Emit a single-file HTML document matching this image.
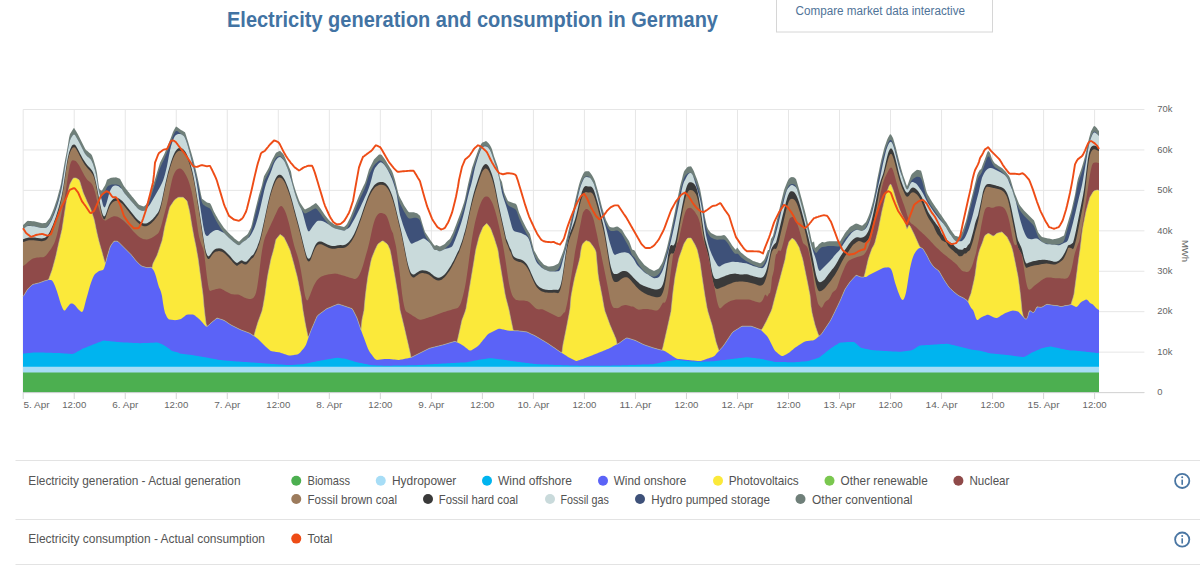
<!DOCTYPE html>
<html><head><meta charset="utf-8"><style>
html,body{margin:0;padding:0;background:#fff;}
body{width:1200px;height:566px;overflow:hidden;position:relative;font-family:'Liberation Sans',sans-serif;}
svg{position:absolute;left:0;top:0;}
</style></head><body>
<svg width="1200" height="566" viewBox="0 0 1200 566" style="font-family:'Liberation Sans',sans-serif">
<rect x="776.5" y="-10" width="216" height="42" fill="#fff" stroke="#d6d6d6" stroke-width="1"/>
<text x="227" y="26.7" font-size="21.5" font-weight="bold" fill="#4273a3" textLength="491" lengthAdjust="spacingAndGlyphs">Electricity generation and consumption in Germany</text>
<text x="795.6" y="15.4" font-size="12.5" fill="#4f7398" textLength="169.4" lengthAdjust="spacingAndGlyphs">Compare market data interactive</text>
<line x1="23.2" y1="109.50" x2="1144.4" y2="109.50" stroke="#e6e6e6" stroke-width="1"/>
<line x1="23.2" y1="149.94" x2="1144.4" y2="149.94" stroke="#e6e6e6" stroke-width="1"/>
<line x1="23.2" y1="190.38" x2="1144.4" y2="190.38" stroke="#e6e6e6" stroke-width="1"/>
<line x1="23.2" y1="230.82" x2="1144.4" y2="230.82" stroke="#e6e6e6" stroke-width="1"/>
<line x1="23.2" y1="271.26" x2="1144.4" y2="271.26" stroke="#e6e6e6" stroke-width="1"/>
<line x1="23.2" y1="311.70" x2="1144.4" y2="311.70" stroke="#e6e6e6" stroke-width="1"/>
<line x1="23.2" y1="352.14" x2="1144.4" y2="352.14" stroke="#e6e6e6" stroke-width="1"/>
<line x1="23.2" y1="392.58" x2="1144.4" y2="392.58" stroke="#e6e6e6" stroke-width="1"/>
<line x1="23.20" y1="109.5" x2="23.20" y2="392.6" stroke="#e6e6e6" stroke-width="1"/>
<line x1="74.22" y1="109.5" x2="74.22" y2="392.6" stroke="#e6e6e6" stroke-width="1"/>
<line x1="125.24" y1="109.5" x2="125.24" y2="392.6" stroke="#e6e6e6" stroke-width="1"/>
<line x1="176.26" y1="109.5" x2="176.26" y2="392.6" stroke="#e6e6e6" stroke-width="1"/>
<line x1="227.28" y1="109.5" x2="227.28" y2="392.6" stroke="#e6e6e6" stroke-width="1"/>
<line x1="278.30" y1="109.5" x2="278.30" y2="392.6" stroke="#e6e6e6" stroke-width="1"/>
<line x1="329.32" y1="109.5" x2="329.32" y2="392.6" stroke="#e6e6e6" stroke-width="1"/>
<line x1="380.34" y1="109.5" x2="380.34" y2="392.6" stroke="#e6e6e6" stroke-width="1"/>
<line x1="431.36" y1="109.5" x2="431.36" y2="392.6" stroke="#e6e6e6" stroke-width="1"/>
<line x1="482.38" y1="109.5" x2="482.38" y2="392.6" stroke="#e6e6e6" stroke-width="1"/>
<line x1="533.40" y1="109.5" x2="533.40" y2="392.6" stroke="#e6e6e6" stroke-width="1"/>
<line x1="584.42" y1="109.5" x2="584.42" y2="392.6" stroke="#e6e6e6" stroke-width="1"/>
<line x1="635.44" y1="109.5" x2="635.44" y2="392.6" stroke="#e6e6e6" stroke-width="1"/>
<line x1="686.46" y1="109.5" x2="686.46" y2="392.6" stroke="#e6e6e6" stroke-width="1"/>
<line x1="737.48" y1="109.5" x2="737.48" y2="392.6" stroke="#e6e6e6" stroke-width="1"/>
<line x1="788.50" y1="109.5" x2="788.50" y2="392.6" stroke="#e6e6e6" stroke-width="1"/>
<line x1="839.52" y1="109.5" x2="839.52" y2="392.6" stroke="#e6e6e6" stroke-width="1"/>
<line x1="890.54" y1="109.5" x2="890.54" y2="392.6" stroke="#e6e6e6" stroke-width="1"/>
<line x1="941.56" y1="109.5" x2="941.56" y2="392.6" stroke="#e6e6e6" stroke-width="1"/>
<line x1="992.58" y1="109.5" x2="992.58" y2="392.6" stroke="#e6e6e6" stroke-width="1"/>
<line x1="1043.60" y1="109.5" x2="1043.60" y2="392.6" stroke="#e6e6e6" stroke-width="1"/>
<line x1="1094.62" y1="109.5" x2="1094.62" y2="392.6" stroke="#e6e6e6" stroke-width="1"/>
<polygon points="23.0,392.6 23.0,225.1 24.0,224.2 25.0,223.2 26.0,222.2 27.0,221.2 28.0,220.8 29.0,220.9 30.0,221.0 31.0,221.1 32.0,221.2 33.0,221.3 34.0,221.3 35.0,221.5 36.0,221.7 37.0,222.0 38.0,222.2 39.0,222.5 40.0,222.7 41.0,223.0 42.0,223.2 43.0,223.2 44.0,223.0 45.0,222.9 46.0,222.7 47.0,221.5 48.0,220.3 49.0,219.1 50.0,217.6 51.0,215.3 52.0,213.0 53.0,210.6 54.0,207.9 55.0,204.9 56.0,201.9 57.0,198.9 58.0,195.3 59.0,191.6 60.0,187.9 61.0,183.8 62.0,177.9 63.0,172.0 64.0,166.1 65.0,160.6 66.0,155.4 67.0,150.2 68.0,144.5 69.0,138.0 70.0,133.9 71.0,132.4 72.0,130.8 73.0,129.3 74.0,127.7 75.0,129.4 76.0,131.1 77.0,132.8 78.0,134.5 79.0,136.5 80.0,138.6 81.0,140.6 82.0,142.6 83.0,144.6 84.0,146.6 85.0,148.6 86.0,150.0 87.0,150.8 88.0,151.6 89.0,152.5 90.0,153.2 91.0,154.0 92.0,155.4 93.0,158.3 94.0,161.3 95.0,164.7 96.0,168.2 97.0,172.9 98.0,180.4 99.0,187.9 100.0,189.6 101.0,190.5 102.0,190.4 103.0,188.8 104.0,187.1 105.0,185.5 106.0,182.9 107.0,179.8 108.0,179.3 109.0,178.8 110.0,178.3 111.0,177.8 112.0,177.7 113.0,177.6 114.0,177.5 115.0,177.4 116.0,177.3 117.0,177.7 118.0,178.1 119.0,178.4 120.0,178.8 121.0,180.7 122.0,182.6 123.0,184.5 124.0,186.3 125.0,187.6 126.0,188.9 127.0,190.1 128.0,191.4 129.0,192.6 130.0,193.9 131.0,195.1 132.0,196.4 133.0,197.6 134.0,198.8 135.0,200.1 136.0,201.3 137.0,202.6 138.0,203.8 139.0,204.8 140.0,205.2 141.0,205.6 142.0,206.0 143.0,206.3 144.0,206.4 145.0,205.6 146.0,204.8 147.0,202.9 148.0,201.0 149.0,198.5 150.0,195.1 151.0,191.8 152.0,188.4 153.0,185.3 154.0,182.4 155.0,179.3 156.0,176.0 157.0,172.6 158.0,169.2 159.0,165.9 160.0,162.8 161.0,160.8 162.0,158.8 163.0,156.7 164.0,154.7 165.0,152.6 166.0,150.1 167.0,147.6 168.0,145.1 169.0,142.6 170.0,140.1 171.0,137.4 172.0,134.7 173.0,132.1 174.0,130.0 175.0,128.2 176.0,126.5 177.0,127.0 178.0,127.7 179.0,128.5 180.0,129.2 181.0,129.9 182.0,130.5 183.0,131.1 184.0,131.7 185.0,132.2 186.0,135.2 187.0,138.4 188.0,141.6 189.0,145.0 190.0,148.4 191.0,151.8 192.0,155.3 193.0,158.8 194.0,162.7 195.0,166.6 196.0,170.7 197.0,175.1 198.0,179.6 199.0,184.5 200.0,189.6 201.0,194.6 202.0,198.7 203.0,199.5 204.0,200.2 205.0,201.0 206.0,201.7 207.0,202.4 208.0,202.7 209.0,203.0 210.0,203.3 211.0,204.7 212.0,207.0 213.0,209.4 214.0,211.7 215.0,213.6 216.0,215.4 217.0,217.1 218.0,218.9 219.0,220.6 220.0,222.1 221.0,223.6 222.0,225.1 223.0,226.6 224.0,228.1 225.0,229.1 226.0,230.1 227.0,231.2 228.0,232.2 229.0,233.2 230.0,234.2 231.0,235.2 232.0,236.1 233.0,237.1 234.0,238.1 235.0,238.9 236.0,239.6 237.0,240.4 238.0,241.1 239.0,241.7 240.0,240.7 241.0,239.7 242.0,238.7 243.0,237.8 244.0,237.1 245.0,236.3 246.0,235.6 247.0,234.8 248.0,233.6 249.0,231.6 250.0,229.6 251.0,227.6 252.0,224.0 253.0,219.6 254.0,215.3 255.0,210.9 256.0,206.9 257.0,202.9 258.0,198.9 259.0,195.1 260.0,191.7 261.0,188.4 262.0,185.0 263.0,180.5 264.0,176.3 265.0,174.5 266.0,172.7 267.0,170.9 268.0,169.2 269.0,167.2 270.0,164.8 271.0,162.5 272.0,160.2 273.0,158.2 274.0,156.4 275.0,154.5 276.0,152.7 277.0,152.2 278.0,151.8 279.0,151.3 280.0,150.8 281.0,151.8 282.0,152.8 283.0,153.8 284.0,155.2 285.0,157.6 286.0,159.9 287.0,162.3 288.0,164.6 289.0,166.9 290.0,169.2 291.0,171.6 292.0,177.5 293.0,182.0 294.0,185.4 295.0,188.7 296.0,192.1 297.0,194.8 298.0,197.5 299.0,200.2 300.0,202.6 301.0,204.1 302.0,205.6 303.0,207.1 304.0,208.6 305.0,209.5 306.0,209.0 307.0,208.5 308.0,208.0 309.0,207.5 310.0,207.0 311.0,206.3 312.0,205.6 313.0,204.9 314.0,204.2 315.0,203.5 316.0,203.0 317.0,204.2 318.0,205.3 319.0,206.5 320.0,207.8 321.0,209.3 322.0,210.8 323.0,212.3 324.0,213.8 325.0,215.2 326.0,216.5 327.0,217.7 328.0,218.9 329.0,220.2 330.0,221.2 331.0,221.9 332.0,222.7 333.0,223.4 334.0,224.2 335.0,224.7 336.0,224.9 337.0,225.2 338.0,225.4 339.0,225.7 340.0,225.9 341.0,226.2 342.0,226.4 343.0,226.7 344.0,226.9 345.0,226.3 346.0,225.3 347.0,224.1 348.0,222.1 349.0,220.1 350.0,218.1 351.0,215.8 352.0,213.3 353.0,210.8 354.0,208.2 355.0,205.7 356.0,203.2 357.0,200.8 358.0,198.3 359.0,195.8 360.0,193.4 361.0,191.2 362.0,189.2 363.0,187.1 364.0,185.1 365.0,183.1 366.0,180.0 367.0,176.5 368.0,172.9 369.0,169.4 370.0,167.4 371.0,165.4 372.0,163.5 373.0,161.5 374.0,159.5 375.0,158.5 376.0,157.5 377.0,156.4 378.0,155.4 379.0,154.5 380.0,154.5 381.0,154.5 382.0,155.3 383.0,156.7 384.0,158.0 385.0,159.4 386.0,161.0 387.0,162.7 388.0,164.4 389.0,166.0 390.0,167.7 391.0,169.3 392.0,171.0 393.0,173.4 394.0,176.7 395.0,180.0 396.0,184.0 397.0,188.0 398.0,192.0 399.0,195.4 400.0,197.4 401.0,199.4 402.0,201.3 403.0,203.3 404.0,205.2 405.0,206.7 406.0,208.2 407.0,209.8 408.0,211.3 409.0,212.2 410.0,212.2 411.0,212.2 412.0,212.2 413.0,212.2 414.0,212.3 415.0,212.7 416.0,213.0 417.0,213.3 418.0,214.0 419.0,214.9 420.0,215.8 421.0,219.1 422.0,222.4 423.0,225.7 424.0,229.0 425.0,232.1 426.0,233.6 427.0,235.1 428.0,236.6 429.0,238.1 430.0,239.5 431.0,240.9 432.0,242.3 433.0,243.7 434.0,245.1 435.0,246.0 436.0,245.0 437.0,245.3 438.0,245.7 439.0,246.2 440.0,246.4 441.0,245.9 442.0,245.4 443.0,244.9 444.0,244.4 445.0,243.7 446.0,242.6 447.0,241.5 448.0,240.4 449.0,239.7 450.0,238.8 451.0,236.8 452.0,234.7 453.0,232.7 454.0,230.3 455.0,227.6 456.0,224.9 457.0,222.3 458.0,219.6 459.0,217.0 460.0,214.3 461.0,211.6 462.0,208.6 463.0,205.5 464.0,202.5 465.0,198.7 466.0,194.0 467.0,189.3 468.0,184.6 469.0,180.3 470.0,176.1 471.0,171.9 472.0,167.8 473.0,164.9 474.0,162.0 475.0,159.0 476.0,156.2 477.0,153.5 478.0,150.8 479.0,148.2 480.0,146.0 481.0,144.2 482.0,142.7 483.0,142.3 484.0,141.9 485.0,141.4 486.0,141.0 487.0,141.7 488.0,142.7 489.0,143.7 490.0,145.3 491.0,147.0 492.0,149.3 493.0,152.8 494.0,156.3 495.0,159.1 496.0,161.8 497.0,164.5 498.0,167.4 499.0,172.7 500.0,177.9 501.0,180.0 502.0,182.0 503.0,186.9 504.0,191.9 505.0,194.5 506.0,196.8 507.0,199.1 508.0,201.1 509.0,201.5 510.0,201.8 511.0,202.2 512.0,202.6 513.0,203.0 514.0,203.3 515.0,203.6 516.0,203.9 517.0,205.8 518.0,209.2 519.0,212.4 520.0,214.8 521.0,217.1 522.0,219.4 523.0,221.6 524.0,223.5 525.0,225.5 526.0,227.4 527.0,229.2 528.0,230.9 529.0,232.6 530.0,234.2 531.0,238.6 532.0,242.5 533.0,246.5 534.0,250.3 535.0,252.1 536.0,253.8 537.0,255.6 538.0,257.4 539.0,259.0 540.0,260.2 541.0,261.4 542.0,262.6 543.0,263.8 544.0,264.8 545.0,265.2 546.0,265.6 547.0,266.0 548.0,266.4 549.0,266.6 550.0,266.4 551.0,266.3 552.0,266.2 553.0,266.1 554.0,265.8 555.0,265.3 556.0,264.8 557.0,264.3 558.0,263.8 559.0,262.2 560.0,259.6 561.0,257.0 562.0,254.4 563.0,251.8 564.0,248.8 565.0,245.0 566.0,241.1 567.0,237.2 568.0,233.1 569.0,228.7 570.0,224.4 571.0,220.0 572.0,215.4 573.0,210.7 574.0,206.0 575.0,201.5 576.0,197.2 577.0,193.0 578.0,188.7 579.0,184.8 580.0,181.4 581.0,178.7 582.0,176.4 583.0,174.2 584.0,172.6 585.0,171.6 586.0,171.2 587.0,171.2 588.0,171.2 589.0,171.2 590.0,172.4 591.0,173.8 592.0,175.2 593.0,177.0 594.0,178.9 595.0,181.3 596.0,184.7 597.0,188.0 598.0,191.4 599.0,195.2 600.0,199.2 601.0,203.2 602.0,207.2 603.0,210.5 604.0,213.7 605.0,217.0 606.0,220.0 607.0,222.0 608.0,224.0 609.0,226.0 610.0,227.1 611.0,227.2 612.0,227.4 613.0,227.6 614.0,227.4 615.0,227.1 616.0,226.8 617.0,226.5 618.0,226.8 619.0,227.5 620.0,228.2 621.0,228.9 622.0,229.8 623.0,231.5 624.0,233.2 625.0,234.9 626.0,236.5 627.0,238.0 628.0,239.5 629.0,241.1 630.0,243.5 631.0,246.3 632.0,249.2 633.0,250.0 634.0,249.9 635.0,251.3 636.0,253.0 637.0,254.8 638.0,256.5 639.0,258.3 640.0,259.6 641.0,260.8 642.0,262.1 643.0,263.3 644.0,264.6 645.0,265.4 646.0,266.1 647.0,266.9 648.0,267.6 649.0,268.4 650.0,268.9 651.0,269.4 652.0,269.9 653.0,270.4 654.0,270.9 655.0,270.4 656.0,269.9 657.0,269.4 658.0,268.9 659.0,268.2 660.0,266.6 661.0,264.9 662.0,263.3 663.0,261.0 664.0,257.8 665.0,254.5 666.0,251.2 667.0,247.5 668.0,243.3 669.0,239.1 670.0,234.8 671.0,230.2 672.0,225.5 673.0,220.8 674.0,216.1 675.0,211.1 676.0,206.1 677.0,201.1 678.0,196.2 679.0,191.4 680.0,186.6 681.0,182.5 682.0,179.1 683.0,174.8 684.0,171.4 685.0,170.1 686.0,168.8 687.0,167.4 688.0,166.8 689.0,166.6 690.0,166.5 691.0,166.3 692.0,167.8 693.0,169.6 694.0,171.6 695.0,174.2 696.0,176.8 697.0,179.3 698.0,182.3 699.0,185.5 700.0,188.7 701.0,194.1 702.0,199.6 703.0,205.4 704.0,211.6 705.0,217.5 706.0,222.0 707.0,226.4 708.0,229.0 709.0,230.4 710.0,231.7 711.0,233.1 712.0,233.6 713.0,234.1 714.0,234.6 715.0,235.1 716.0,235.6 717.0,235.7 718.0,235.7 719.0,235.7 720.0,235.7 721.0,235.7 722.0,235.5 723.0,235.3 724.0,235.1 725.0,235.4 726.0,236.5 727.0,237.7 728.0,238.9 729.0,240.4 730.0,242.0 731.0,243.6 732.0,245.2 733.0,246.5 734.0,247.7 735.0,248.9 736.0,249.8 737.0,247.6 738.0,248.6 739.0,250.0 740.0,251.3 741.0,252.6 742.0,253.3 743.0,254.1 744.0,254.9 745.0,255.7 746.0,256.5 747.0,257.3 748.0,257.9 749.0,258.5 750.0,259.1 751.0,259.7 752.0,260.3 753.0,260.9 754.0,261.3 755.0,261.6 756.0,261.9 757.0,262.3 758.0,262.6 759.0,263.0 760.0,263.3 761.0,263.1 762.0,262.1 763.0,261.1 764.0,260.1 765.0,257.9 766.0,255.3 767.0,252.6 768.0,249.9 769.0,250.0 770.0,244.2 771.0,239.1 772.0,237.4 773.0,235.7 774.0,231.7 775.0,227.6 776.0,223.6 777.0,219.5 778.0,215.1 779.0,210.8 780.0,206.4 781.0,202.3 782.0,198.3 783.0,194.3 784.0,190.3 785.0,187.6 786.0,185.1 787.0,182.5 788.0,180.2 789.0,178.7 790.0,177.8 791.0,177.2 792.0,177.1 793.0,177.2 794.0,177.3 795.0,178.2 796.0,179.0 797.0,182.3 798.0,185.7 799.0,189.1 800.0,192.7 801.0,196.4 802.0,200.1 803.0,203.9 804.0,207.8 805.0,211.6 806.0,215.5 807.0,219.7 808.0,224.1 809.0,228.4 810.0,232.8 811.0,237.4 812.0,242.0 813.0,242.6 814.0,241.3 815.0,248.0 816.0,247.3 817.0,246.6 818.0,245.4 819.0,244.1 820.0,243.4 821.0,242.7 822.0,242.1 823.0,242.1 824.0,242.4 825.0,242.2 826.0,241.9 827.0,241.6 828.0,241.4 829.0,241.2 830.0,241.2 831.0,241.2 832.0,241.2 833.0,241.2 834.0,241.2 835.0,241.2 836.0,241.2 837.0,241.3 838.0,241.3 839.0,241.4 840.0,241.5 841.0,239.8 842.0,238.1 843.0,236.4 844.0,234.7 845.0,233.1 846.0,231.8 847.0,230.6 848.0,229.4 849.0,228.1 850.0,226.9 851.0,226.3 852.0,225.7 853.0,225.2 854.0,224.6 855.0,224.0 856.0,223.4 857.0,223.7 858.0,224.1 859.0,224.5 860.0,224.9 861.0,225.3 862.0,225.7 863.0,225.1 864.0,224.1 865.0,223.0 866.0,222.0 867.0,219.7 868.0,217.4 869.0,215.0 870.0,212.3 871.0,208.6 872.0,204.9 873.0,201.3 874.0,196.8 875.0,191.9 876.0,186.8 877.0,180.6 878.0,175.6 879.0,170.7 880.0,165.8 881.0,161.1 882.0,157.1 883.0,153.1 884.0,149.1 885.0,145.7 886.0,142.9 887.0,140.1 888.0,137.7 889.0,136.0 890.0,134.3 891.0,134.4 892.0,136.2 893.0,138.0 894.0,141.2 895.0,144.7 896.0,148.3 897.0,152.5 898.0,156.6 899.0,160.6 900.0,164.2 901.0,167.9 902.0,171.5 903.0,174.9 904.0,177.8 905.0,180.6 906.0,183.4 907.0,186.2 908.0,184.0 909.0,181.1 910.0,178.3 911.0,175.5 912.0,173.7 913.0,172.9 914.0,172.0 915.0,171.2 916.0,170.4 917.0,169.7 918.0,169.9 919.0,170.1 920.0,170.4 921.0,170.6 922.0,173.7 923.0,177.7 924.0,181.6 925.0,185.8 926.0,189.9 927.0,193.1 928.0,194.9 929.0,196.6 930.0,198.4 931.0,200.1 932.0,201.7 933.0,203.2 934.0,204.7 935.0,206.2 936.0,207.7 937.0,209.1 938.0,210.5 939.0,212.0 940.0,213.4 941.0,214.8 942.0,216.2 943.0,217.7 944.0,219.2 945.0,220.7 946.0,222.1 947.0,223.6 948.0,225.2 949.0,226.8 950.0,228.5 951.0,230.2 952.0,231.6 953.0,233.0 954.0,234.3 955.0,235.7 956.0,236.0 957.0,236.3 958.0,236.7 959.0,236.5 960.0,235.1 961.0,233.8 962.0,232.4 963.0,230.1 964.0,227.1 965.0,224.1 966.0,221.1 967.0,217.0 968.0,212.8 969.0,208.5 970.0,204.3 971.0,200.3 972.0,196.3 973.0,192.3 974.0,188.3 975.0,184.1 976.0,180.0 977.0,175.6 978.0,173.0 979.0,171.2 980.0,169.4 981.0,169.4 982.0,166.7 983.0,164.0 984.0,161.4 985.0,158.7 986.0,155.9 987.0,153.0 988.0,150.9 989.0,151.6 990.0,152.9 991.0,155.9 992.0,158.9 993.0,160.7 994.0,162.3 995.0,163.5 996.0,164.1 997.0,164.8 998.0,165.5 999.0,166.2 1000.0,166.8 1001.0,167.5 1002.0,168.1 1003.0,169.1 1004.0,170.0 1005.0,171.0 1006.0,172.1 1007.0,173.4 1008.0,174.8 1009.0,176.1 1010.0,178.1 1011.0,181.0 1012.0,184.4 1013.0,187.7 1014.0,191.1 1015.0,193.9 1016.0,196.3 1017.0,198.8 1018.0,201.3 1019.0,203.7 1020.0,205.5 1021.0,206.7 1022.0,208.0 1023.0,209.3 1024.0,210.5 1025.0,211.6 1026.0,212.6 1027.0,213.6 1028.0,214.6 1029.0,215.6 1030.0,216.6 1031.0,217.6 1032.0,218.6 1033.0,219.6 1034.0,220.6 1035.0,223.2 1036.0,226.2 1037.0,229.2 1038.0,232.0 1039.0,233.4 1040.0,234.7 1041.0,236.1 1042.0,237.0 1043.0,237.2 1044.0,237.5 1045.0,237.7 1046.0,238.0 1047.0,238.2 1048.0,238.4 1049.0,238.6 1050.0,238.8 1051.0,239.0 1052.0,239.2 1053.0,239.4 1054.0,239.1 1055.0,238.9 1056.0,238.7 1057.0,238.5 1058.0,238.3 1059.0,238.1 1060.0,237.6 1061.0,237.1 1062.0,236.6 1063.0,236.1 1064.0,235.4 1065.0,232.0 1066.0,228.7 1067.0,225.3 1068.0,222.0 1069.0,218.6 1070.0,215.3 1071.0,211.9 1072.0,207.9 1073.0,203.5 1074.0,199.2 1075.0,194.8 1076.0,188.9 1077.0,183.0 1078.0,178.6 1079.0,175.7 1080.0,172.8 1081.0,170.0 1082.0,166.7 1083.0,163.4 1084.0,160.0 1085.0,156.5 1086.0,151.9 1087.0,147.2 1088.0,142.5 1089.0,138.3 1090.0,134.8 1091.0,131.3 1092.0,129.4 1093.0,127.6 1094.0,125.9 1095.0,126.3 1096.0,127.3 1097.0,128.3 1098.0,130.0 1099.0,131.0 1099.0,392.6" fill="#6f7f79"/>
<polygon points="23.0,392.6 23.0,229.4 24.0,228.8 25.0,227.8 26.0,226.8 27.0,226.1 28.0,225.7 29.0,225.6 30.0,225.7 31.0,225.9 32.0,226.0 33.0,226.1 34.0,226.2 35.0,226.4 36.0,226.6 37.0,226.9 38.0,227.2 39.0,227.4 40.0,227.7 41.0,228.0 42.0,228.1 43.0,228.1 44.0,228.0 45.0,227.9 46.0,227.4 47.0,226.6 48.0,225.4 49.0,224.1 50.0,222.4 51.0,220.4 52.0,218.1 53.0,215.7 54.0,213.0 55.0,210.1 56.0,207.1 57.0,204.0 58.0,200.6 59.0,196.9 60.0,193.2 61.0,188.6 62.0,183.4 63.0,177.5 64.0,171.7 65.0,166.2 66.0,161.0 67.0,155.6 68.0,149.8 69.0,144.4 70.0,140.4 71.0,138.1 72.0,136.5 73.0,135.0 74.0,134.5 75.0,135.1 76.0,136.8 77.0,138.5 78.0,140.2 79.0,142.1 80.0,144.1 81.0,146.1 82.0,148.0 83.0,150.0 84.0,152.0 85.0,153.7 86.0,155.1 87.0,156.2 88.0,157.0 89.0,157.8 90.0,158.7 91.0,159.7 92.0,161.5 93.0,164.0 94.0,167.2 95.0,170.5 96.0,174.4 97.0,179.7 98.0,186.4 99.0,192.1 100.0,195.5 101.0,196.4 102.0,196.2 103.0,195.2 104.0,193.6 105.0,191.7 106.0,189.3 107.0,187.3 108.0,186.0 109.0,185.6 110.0,185.2 111.0,184.8 112.0,184.6 113.0,184.6 114.0,184.5 115.0,184.4 116.0,184.4 117.0,184.6 118.0,184.9 119.0,185.2 120.0,186.1 121.0,187.4 122.0,189.2 123.0,191.0 124.0,192.5 125.0,193.9 126.0,195.1 127.0,196.2 128.0,197.4 129.0,198.6 130.0,199.7 131.0,200.9 132.0,202.0 133.0,203.2 134.0,204.3 135.0,205.5 136.0,206.6 137.0,207.8 138.0,208.8 139.0,209.6 140.0,210.1 141.0,210.4 142.0,210.7 143.0,210.9 144.0,210.8 145.0,210.2 146.0,209.1 147.0,207.6 148.0,205.5 149.0,202.9 150.0,199.9 151.0,196.6 152.0,193.4 153.0,190.3 154.0,187.3 155.0,184.2 156.0,181.0 157.0,177.7 158.0,174.3 159.0,171.0 160.0,168.2 161.0,165.7 162.0,163.6 163.0,161.5 164.0,159.4 165.0,157.1 166.0,154.6 167.0,152.0 168.0,149.4 169.0,146.8 170.0,144.2 171.0,141.4 172.0,138.7 173.0,136.1 174.0,133.9 175.0,132.0 176.0,131.0 177.0,130.9 178.0,131.6 179.0,132.4 180.0,133.2 181.0,134.0 182.0,134.8 183.0,135.5 184.0,136.2 185.0,137.6 186.0,140.0 187.0,143.2 188.0,146.5 189.0,149.9 190.0,153.4 191.0,156.9 192.0,160.4 193.0,164.0 194.0,167.8 195.0,171.8 196.0,175.9 197.0,180.2 198.0,184.8 199.0,189.6 200.0,194.5 201.0,199.3 202.0,202.6 203.0,204.4 204.0,205.1 205.0,205.9 206.0,206.6 207.0,207.1 208.0,207.6 209.0,207.9 210.0,208.6 211.0,209.9 212.0,212.0 213.0,214.4 214.0,216.6 215.0,218.6 216.0,220.4 217.0,222.2 218.0,224.0 219.0,225.6 220.0,227.2 221.0,228.7 222.0,230.2 223.0,231.6 224.0,232.9 225.0,234.1 226.0,235.1 227.0,236.0 228.0,236.9 229.0,237.9 230.0,238.8 231.0,239.7 232.0,240.5 233.0,241.4 234.0,242.3 235.0,243.0 236.0,243.7 237.0,244.4 238.0,245.1 239.0,245.2 240.0,244.7 241.0,243.7 242.0,242.8 243.0,242.0 244.0,241.3 245.0,240.7 246.0,240.0 247.0,239.2 248.0,237.9 249.0,236.3 250.0,234.4 251.0,231.9 252.0,228.6 253.0,224.6 254.0,220.3 255.0,216.1 256.0,212.0 257.0,208.0 258.0,204.1 259.0,200.4 260.0,196.8 261.0,193.5 262.0,189.7 263.0,185.7 264.0,182.1 265.0,179.5 266.0,177.7 267.0,175.9 268.0,174.0 269.0,172.0 270.0,169.8 271.0,167.4 272.0,165.2 273.0,163.1 274.0,161.2 275.0,159.4 276.0,158.0 277.0,157.1 278.0,156.6 279.0,156.2 280.0,156.2 281.0,156.8 282.0,157.8 283.0,159.0 284.0,160.6 285.0,162.6 286.0,165.0 287.0,167.3 288.0,169.7 289.0,172.0 290.0,174.4 291.0,177.9 292.0,182.2 293.0,186.8 294.0,190.5 295.0,193.8 296.0,196.9 297.0,199.8 298.0,202.4 299.0,204.9 300.0,207.1 301.0,208.8 302.0,210.2 303.0,211.6 304.0,212.9 305.0,213.4 306.0,213.3 307.0,212.8 308.0,212.3 309.0,211.8 310.0,211.3 311.0,210.7 312.0,210.1 313.0,209.6 314.0,209.0 315.0,208.5 316.0,208.6 317.0,209.3 318.0,210.5 319.0,211.7 320.0,212.9 321.0,214.3 322.0,215.7 323.0,217.2 324.0,218.6 325.0,219.9 326.0,221.1 327.0,222.2 328.0,223.4 329.0,224.5 330.0,225.4 331.0,226.2 332.0,226.9 333.0,227.5 334.0,228.1 335.0,228.5 336.0,228.8 337.0,229.0 338.0,229.2 339.0,229.4 340.0,229.7 341.0,230.0 342.0,230.3 343.0,230.6 344.0,230.7 345.0,230.4 346.0,229.6 347.0,228.4 348.0,226.8 349.0,224.9 350.0,222.9 351.0,220.8 352.0,218.4 353.0,215.9 354.0,213.4 355.0,210.9 356.0,208.4 357.0,206.0 358.0,203.5 359.0,201.0 360.0,198.7 361.0,196.4 362.0,194.4 363.0,192.3 364.0,190.3 365.0,188.0 366.0,185.1 367.0,181.8 368.0,178.3 369.0,175.3 370.0,172.8 371.0,170.9 372.0,169.0 373.0,167.1 374.0,165.5 375.0,164.3 376.0,163.3 377.0,162.4 378.0,161.4 379.0,160.8 380.0,160.5 381.0,160.8 382.0,161.5 383.0,162.6 384.0,163.9 385.0,165.2 386.0,166.7 387.0,168.3 388.0,169.9 389.0,171.5 390.0,173.1 391.0,174.7 392.0,176.7 393.0,179.2 394.0,182.2 395.0,185.8 396.0,189.6 397.0,193.7 398.0,197.6 399.0,200.8 400.0,203.4 401.0,205.4 402.0,207.5 403.0,209.5 404.0,211.4 405.0,213.1 406.0,214.8 407.0,216.4 408.0,217.7 409.0,218.5 410.0,218.6 411.0,218.4 412.0,218.2 413.0,217.9 414.0,217.8 415.0,217.7 416.0,217.7 417.0,217.9 418.0,218.4 419.0,219.0 420.0,220.6 421.0,223.1 422.0,226.3 423.0,229.6 424.0,232.7 425.0,235.3 426.0,237.3 427.0,238.8 428.0,240.3 429.0,241.7 430.0,243.2 431.0,244.7 432.0,246.3 433.0,248.0 434.0,249.4 435.0,249.9 436.0,250.0 437.0,250.1 438.0,250.7 439.0,251.2 440.0,251.3 441.0,251.0 442.0,250.4 443.0,249.9 444.0,249.4 445.0,248.7 446.0,247.8 447.0,246.7 448.0,245.8 449.0,244.9 450.0,243.6 451.0,242.0 452.0,239.9 453.0,237.8 454.0,235.4 455.0,232.8 456.0,230.1 457.0,227.5 458.0,224.8 459.0,222.2 460.0,219.5 461.0,216.7 462.0,213.8 463.0,210.7 464.0,207.4 465.0,203.6 466.0,199.2 467.0,194.5 468.0,189.9 469.0,185.5 470.0,181.2 471.0,177.0 472.0,173.2 473.0,169.9 474.0,166.9 475.0,163.9 476.0,161.0 477.0,158.2 478.0,155.4 479.0,152.9 480.0,150.6 481.0,148.7 482.0,147.4 483.0,146.6 484.0,146.1 485.0,145.7 486.0,145.7 487.0,146.2 488.0,147.2 489.0,148.4 490.0,150.0 491.0,152.0 492.0,154.6 493.0,157.7 494.0,161.1 495.0,164.1 496.0,166.8 497.0,169.6 498.0,173.2 499.0,177.6 500.0,181.7 501.0,184.8 502.0,187.7 503.0,191.6 504.0,195.7 505.0,198.9 506.0,201.3 507.0,203.5 508.0,205.0 509.0,206.0 510.0,206.5 511.0,207.0 512.0,207.6 513.0,208.1 514.0,208.6 515.0,209.1 516.0,210.1 517.0,212.0 518.0,214.9 519.0,217.9 520.0,220.5 521.0,222.7 522.0,224.9 523.0,227.0 524.0,229.0 525.0,230.8 526.0,232.7 527.0,234.4 528.0,236.1 529.0,237.7 530.0,240.2 531.0,243.5 532.0,247.5 533.0,251.4 534.0,254.5 535.0,257.0 536.0,258.7 537.0,260.4 538.0,262.1 539.0,263.6 540.0,264.9 541.0,266.1 542.0,267.2 543.0,268.3 544.0,269.2 545.0,269.7 546.0,270.1 547.0,270.6 548.0,271.0 549.0,271.2 550.0,271.4 551.0,271.5 552.0,271.5 553.0,271.5 554.0,271.4 555.0,271.1 556.0,270.6 557.0,270.2 558.0,269.3 559.0,267.7 560.0,265.4 561.0,262.7 562.0,260.0 563.0,257.2 564.0,254.0 565.0,250.4 566.0,246.5 567.0,242.4 568.0,238.3 569.0,234.0 570.0,229.6 571.0,225.1 572.0,220.6 573.0,215.9 574.0,211.3 575.0,206.8 576.0,202.4 577.0,198.2 578.0,194.0 579.0,190.2 580.0,186.8 581.0,184.0 582.0,181.6 583.0,179.6 584.0,178.0 585.0,177.0 586.0,176.5 587.0,176.4 588.0,176.4 589.0,176.8 590.0,177.7 591.0,179.0 592.0,180.6 593.0,182.2 594.0,184.3 595.0,186.8 596.0,189.9 597.0,193.2 598.0,196.7 599.0,200.3 600.0,204.2 601.0,208.1 602.0,211.7 603.0,215.1 604.0,218.3 605.0,221.3 606.0,223.9 607.0,226.1 608.0,228.0 609.0,229.6 610.0,230.6 611.0,231.0 612.0,231.1 613.0,231.0 614.0,230.9 615.0,230.7 616.0,230.5 617.0,230.4 618.0,230.8 619.0,231.5 620.0,232.4 621.0,233.3 622.0,234.6 623.0,236.2 624.0,238.1 625.0,240.0 626.0,241.8 627.0,243.6 628.0,245.3 629.0,247.3 630.0,249.8 631.0,252.7 632.0,255.0 633.0,256.3 634.0,257.1 635.0,258.2 636.0,259.9 637.0,261.7 638.0,263.4 639.0,265.1 640.0,266.5 641.0,267.7 642.0,269.0 643.0,270.2 644.0,271.3 645.0,272.2 646.0,273.0 647.0,273.7 648.0,274.4 649.0,275.0 650.0,275.5 651.0,275.9 652.0,276.3 653.0,276.8 654.0,276.8 655.0,276.6 656.0,276.0 657.0,275.4 658.0,274.8 659.0,273.8 660.0,272.4 661.0,270.7 662.0,268.8 663.0,266.4 664.0,263.4 665.0,260.1 666.0,256.6 667.0,252.8 668.0,248.7 669.0,244.5 670.0,240.1 671.0,235.5 672.0,230.9 673.0,226.2 674.0,221.4 675.0,216.6 676.0,211.7 677.0,206.8 678.0,201.9 679.0,197.2 680.0,192.7 681.0,188.6 682.0,184.8 683.0,181.2 684.0,178.2 685.0,176.3 686.0,175.0 687.0,173.9 688.0,173.2 689.0,172.9 690.0,172.7 691.0,173.1 692.0,174.1 693.0,175.8 694.0,177.8 695.0,180.1 696.0,182.6 697.0,185.2 698.0,188.0 699.0,191.1 700.0,194.9 701.0,199.6 702.0,205.0 703.0,210.7 704.0,216.7 705.0,222.1 706.0,227.0 707.0,230.7 708.0,233.4 709.0,235.1 710.0,236.4 711.0,237.4 712.0,238.1 713.0,238.5 714.0,238.9 715.0,239.3 716.0,239.6 717.0,239.7 718.0,239.7 719.0,239.6 720.0,239.6 721.0,239.6 722.0,239.5 723.0,239.4 724.0,239.5 725.0,240.0 726.0,240.9 727.0,242.2 728.0,243.6 729.0,245.1 730.0,246.7 731.0,248.4 732.0,250.0 733.0,251.4 734.0,252.7 735.0,253.8 736.0,253.8 737.0,253.7 738.0,253.7 739.0,254.9 740.0,256.1 741.0,257.2 742.0,258.0 743.0,258.7 744.0,259.4 745.0,260.2 746.0,260.9 747.0,261.5 748.0,262.1 749.0,262.6 750.0,263.2 751.0,263.7 752.0,264.3 753.0,264.8 754.0,265.2 755.0,265.6 756.0,266.0 757.0,266.4 758.0,266.8 759.0,267.2 760.0,267.4 761.0,267.2 762.0,266.5 763.0,265.6 764.0,264.2 765.0,262.3 766.0,259.9 767.0,257.3 768.0,255.6 769.0,252.8 770.0,249.3 771.0,245.2 772.0,242.4 773.0,240.0 774.0,236.8 775.0,232.9 776.0,228.9 777.0,224.9 778.0,220.7 779.0,216.4 780.0,212.3 781.0,208.2 782.0,204.3 783.0,200.4 784.0,196.9 785.0,194.0 786.0,191.5 787.0,189.1 788.0,187.1 789.0,185.6 790.0,184.7 791.0,184.2 792.0,184.1 793.0,184.1 794.0,184.5 795.0,185.1 796.0,186.8 797.0,189.3 798.0,192.7 799.0,196.2 800.0,199.7 801.0,203.4 802.0,207.1 803.0,210.9 804.0,214.8 805.0,218.6 806.0,222.6 807.0,226.8 808.0,231.1 809.0,235.4 810.0,239.8 811.0,244.2 812.0,247.4 813.0,248.6 814.0,250.4 815.0,251.8 816.0,253.3 817.0,252.2 818.0,250.9 819.0,249.6 820.0,248.5 821.0,247.7 822.0,247.1 823.0,246.9 824.0,246.8 825.0,246.7 826.0,246.4 827.0,246.2 828.0,246.0 829.0,245.9 830.0,245.9 831.0,246.0 832.0,246.0 833.0,246.1 834.0,246.1 835.0,246.2 836.0,246.3 837.0,246.4 838.0,246.5 839.0,246.6 840.0,246.2 841.0,245.2 842.0,243.5 843.0,241.9 844.0,240.3 845.0,238.8 846.0,237.5 847.0,236.4 848.0,235.2 849.0,234.0 850.0,233.1 851.0,232.3 852.0,231.7 853.0,231.1 854.0,230.5 855.0,229.9 856.0,229.6 857.0,229.6 858.0,229.9 859.0,230.2 860.0,230.6 861.0,230.9 862.0,231.0 863.0,230.5 864.0,229.6 865.0,228.5 866.0,227.0 867.0,225.1 868.0,222.7 869.0,220.2 870.0,217.3 871.0,213.9 872.0,210.2 873.0,206.2 874.0,201.9 875.0,197.0 876.0,191.6 877.0,186.2 878.0,180.8 879.0,175.9 880.0,171.1 881.0,166.5 882.0,162.3 883.0,158.3 884.0,154.5 885.0,151.1 886.0,148.1 887.0,145.4 888.0,143.1 889.0,141.2 890.0,140.0 891.0,140.1 892.0,141.3 893.0,143.5 894.0,146.3 895.0,149.7 896.0,153.5 897.0,157.4 898.0,161.5 899.0,165.4 900.0,169.1 901.0,172.7 902.0,176.3 903.0,179.5 904.0,182.6 905.0,185.4 906.0,188.3 907.0,189.5 908.0,188.9 909.0,186.4 910.0,183.7 911.0,181.5 912.0,179.9 913.0,178.9 914.0,178.3 915.0,177.7 916.0,177.0 917.0,176.7 918.0,176.8 919.0,177.0 920.0,177.2 921.0,178.4 922.0,180.7 923.0,184.3 924.0,188.2 925.0,192.2 926.0,195.9 927.0,198.8 928.0,200.9 929.0,202.5 930.0,204.2 931.0,205.8 932.0,207.3 933.0,208.7 934.0,210.1 935.0,211.5 936.0,212.9 937.0,214.3 938.0,215.8 939.0,217.2 940.0,218.6 941.0,220.0 942.0,221.5 943.0,222.9 944.0,224.4 945.0,225.9 946.0,227.3 947.0,228.8 948.0,230.4 949.0,232.0 950.0,233.7 951.0,235.3 952.0,236.8 953.0,238.2 954.0,239.5 955.0,240.6 956.0,241.2 957.0,241.5 958.0,241.7 959.0,241.3 960.0,240.3 961.0,239.0 962.0,237.3 963.0,235.1 964.0,232.3 965.0,229.3 966.0,225.9 967.0,222.1 968.0,217.9 969.0,213.7 970.0,209.6 971.0,205.5 972.0,201.5 973.0,197.5 974.0,193.4 975.0,189.3 976.0,185.1 977.0,181.4 978.0,178.5 979.0,176.4 980.0,175.2 981.0,173.7 982.0,171.9 983.0,169.1 984.0,166.4 985.0,163.6 986.0,160.7 987.0,158.1 988.0,156.5 989.0,156.4 990.0,157.9 991.0,160.3 992.0,162.8 993.0,164.8 994.0,166.2 995.0,167.3 996.0,168.0 997.0,168.6 998.0,169.3 999.0,169.9 1000.0,170.6 1001.0,171.2 1002.0,172.0 1003.0,173.0 1004.0,174.0 1005.0,175.1 1006.0,176.4 1007.0,177.7 1008.0,179.2 1009.0,180.9 1010.0,183.1 1011.0,185.9 1012.0,189.2 1013.0,192.6 1014.0,195.9 1015.0,198.8 1016.0,201.5 1017.0,204.0 1018.0,206.4 1019.0,208.7 1020.0,210.5 1021.0,211.9 1022.0,213.2 1023.0,214.5 1024.0,215.7 1025.0,216.8 1026.0,217.8 1027.0,218.8 1028.0,219.8 1029.0,220.8 1030.0,221.8 1031.0,222.8 1032.0,223.7 1033.0,224.7 1034.0,226.2 1035.0,228.4 1036.0,231.2 1037.0,234.1 1038.0,236.5 1039.0,238.4 1040.0,239.8 1041.0,241.0 1042.0,242.0 1043.0,242.5 1044.0,242.9 1045.0,243.2 1046.0,243.5 1047.0,243.8 1048.0,244.0 1049.0,244.2 1050.0,244.3 1051.0,244.5 1052.0,244.7 1053.0,244.8 1054.0,244.8 1055.0,244.8 1056.0,244.7 1057.0,244.7 1058.0,244.6 1059.0,244.4 1060.0,244.1 1061.0,243.6 1062.0,243.1 1063.0,242.4 1064.0,240.7 1065.0,238.1 1066.0,234.6 1067.0,231.1 1068.0,227.6 1069.0,224.2 1070.0,220.7 1071.0,217.0 1072.0,213.1 1073.0,208.8 1074.0,204.4 1075.0,199.5 1076.0,194.1 1077.0,188.7 1078.0,184.3 1079.0,180.9 1080.0,178.0 1081.0,175.0 1082.0,171.9 1083.0,168.6 1084.0,165.2 1085.0,161.3 1086.0,157.1 1087.0,152.4 1088.0,147.9 1089.0,143.7 1090.0,140.0 1091.0,137.1 1092.0,134.7 1093.0,132.8 1094.0,131.8 1095.0,131.7 1096.0,132.5 1097.0,133.7 1098.0,135.0 1099.0,135.9 1099.0,392.6" fill="#3e5179"/>
<polygon points="23.0,392.6 23.0,229.4 24.0,228.8 25.0,227.8 26.0,226.8 27.0,226.2 28.0,225.9 29.0,225.9 30.0,226.0 31.0,226.1 32.0,226.2 33.0,226.3 34.0,226.3 35.0,226.5 36.0,226.7 37.0,226.9 38.0,227.2 39.0,227.4 40.0,227.7 41.0,228.0 42.0,228.1 43.0,228.1 44.0,228.0 45.0,227.9 46.0,227.7 47.0,227.3 48.0,226.3 49.0,224.9 50.0,223.3 51.0,221.5 52.0,219.4 53.0,217.1 54.0,214.7 55.0,212.1 56.0,209.2 57.0,206.2 58.0,203.0 59.0,199.4 60.0,195.5 61.0,191.4 62.0,186.4 63.0,180.4 64.0,173.7 65.0,167.3 66.0,161.3 67.0,155.6 68.0,149.8 69.0,144.4 70.0,140.4 71.0,138.1 72.0,136.5 73.0,135.0 74.0,134.5 75.0,135.1 76.0,136.8 77.0,138.5 78.0,140.2 79.0,142.1 80.0,144.1 81.0,146.1 82.0,148.0 83.0,150.0 84.0,152.0 85.0,153.7 86.0,155.1 87.0,156.2 88.0,157.0 89.0,157.8 90.0,158.7 91.0,159.7 92.0,161.7 93.0,164.1 94.0,167.2 95.0,170.5 96.0,174.4 97.0,179.7 98.0,186.4 99.0,192.1 100.0,195.5 101.0,197.5 102.0,201.1 103.0,205.2 104.0,207.3 105.0,207.2 106.0,204.8 107.0,201.5 108.0,197.7 109.0,194.1 110.0,191.1 111.0,188.9 112.0,187.3 113.0,186.3 114.0,185.8 115.0,185.6 116.0,185.6 117.0,185.7 118.0,186.0 119.0,186.6 120.0,187.4 121.0,188.2 122.0,189.2 123.0,191.0 124.0,192.5 125.0,193.9 126.0,195.1 127.0,196.2 128.0,197.4 129.0,198.6 130.0,199.7 131.0,200.9 132.0,202.0 133.0,203.2 134.0,204.3 135.0,205.5 136.0,206.6 137.0,207.8 138.0,208.8 139.0,209.6 140.0,210.1 141.0,210.4 142.0,210.7 143.0,210.9 144.0,210.8 145.0,210.5 146.0,209.6 147.0,208.4 148.0,207.1 149.0,205.8 150.0,204.4 151.0,202.8 152.0,201.0 153.0,199.3 154.0,197.5 155.0,195.8 156.0,194.0 157.0,192.3 158.0,190.5 159.0,188.8 160.0,186.9 161.0,185.0 162.0,183.0 163.0,180.7 164.0,177.8 165.0,174.2 166.0,170.3 167.0,165.9 168.0,160.8 169.0,155.2 170.0,150.4 171.0,146.3 172.0,143.1 173.0,140.2 174.0,137.8 175.0,136.1 176.0,134.9 177.0,134.4 178.0,134.1 179.0,134.1 180.0,134.1 181.0,134.3 182.0,134.8 183.0,135.5 184.0,136.2 185.0,137.9 186.0,140.4 187.0,143.6 188.0,146.8 189.0,150.4 190.0,154.2 191.0,158.2 192.0,162.2 193.0,166.3 194.0,170.3 195.0,174.4 196.0,179.3 197.0,185.1 198.0,191.6 199.0,198.4 200.0,205.1 201.0,211.7 202.0,218.3 203.0,224.8 204.0,230.1 205.0,233.7 206.0,235.5 207.0,236.0 208.0,235.7 209.0,234.7 210.0,233.6 211.0,232.7 212.0,231.9 213.0,231.3 214.0,230.8 215.0,230.3 216.0,229.9 217.0,229.9 218.0,230.1 219.0,230.6 220.0,231.1 221.0,231.6 222.0,232.1 223.0,232.6 224.0,233.1 225.0,234.1 226.0,235.1 227.0,236.0 228.0,236.9 229.0,237.9 230.0,238.8 231.0,239.7 232.0,240.5 233.0,241.4 234.0,242.3 235.0,243.0 236.0,243.7 237.0,244.4 238.0,245.1 239.0,245.2 240.0,244.7 241.0,243.7 242.0,242.8 243.0,242.0 244.0,241.3 245.0,240.7 246.0,240.0 247.0,239.2 248.0,238.1 249.0,237.4 250.0,236.3 251.0,234.7 252.0,232.9 253.0,231.0 254.0,229.0 255.0,226.5 256.0,223.6 257.0,220.3 258.0,216.8 259.0,213.1 260.0,209.0 261.0,204.7 262.0,200.3 263.0,195.9 264.0,191.5 265.0,187.6 266.0,184.1 267.0,181.3 268.0,178.8 269.0,176.4 270.0,174.2 271.0,171.7 272.0,169.0 273.0,166.0 274.0,163.5 275.0,161.5 276.0,160.0 277.0,158.8 278.0,157.8 279.0,157.2 280.0,157.1 281.0,157.5 282.0,158.5 283.0,159.5 284.0,160.8 285.0,162.6 286.0,165.0 287.0,167.3 288.0,169.7 289.0,172.8 290.0,176.2 291.0,179.6 292.0,183.0 293.0,186.8 294.0,190.5 295.0,193.8 296.0,196.9 297.0,199.8 298.0,202.5 299.0,205.1 300.0,207.1 301.0,208.8 302.0,211.0 303.0,214.0 304.0,217.8 305.0,221.6 306.0,225.2 307.0,228.5 308.0,230.9 309.0,231.6 310.0,230.6 311.0,229.0 312.0,227.4 313.0,226.0 314.0,224.7 315.0,223.5 316.0,222.2 317.0,221.3 318.0,220.8 319.0,220.8 320.0,220.8 321.0,220.8 322.0,221.0 323.0,221.3 324.0,221.8 325.0,222.3 326.0,222.8 327.0,223.4 328.0,224.1 329.0,224.8 330.0,225.6 331.0,226.3 332.0,227.0 333.0,227.5 334.0,228.1 335.0,228.5 336.0,228.8 337.0,229.0 338.0,229.2 339.0,229.4 340.0,229.7 341.0,230.0 342.0,230.3 343.0,230.6 344.0,230.7 345.0,230.4 346.0,229.6 347.0,228.9 348.0,228.5 349.0,227.8 350.0,226.7 351.0,225.1 352.0,223.3 353.0,221.6 354.0,219.8 355.0,217.9 356.0,216.0 357.0,214.1 358.0,212.1 359.0,210.1 360.0,208.0 361.0,205.8 362.0,203.6 363.0,201.4 364.0,199.2 365.0,197.1 366.0,194.9 367.0,192.7 368.0,190.3 369.0,187.6 370.0,184.6 371.0,181.1 372.0,177.3 373.0,173.3 374.0,170.3 375.0,168.0 376.0,166.7 377.0,165.4 378.0,164.2 379.0,163.2 380.0,162.4 381.0,162.2 382.0,162.7 383.0,163.6 384.0,164.6 385.0,165.8 386.0,167.2 387.0,168.8 388.0,170.5 389.0,172.4 390.0,174.5 391.0,176.7 392.0,179.1 393.0,181.8 394.0,184.8 395.0,188.0 396.0,191.3 397.0,196.0 398.0,202.9 399.0,209.7 400.0,215.1 401.0,218.3 402.0,221.5 403.0,224.7 404.0,227.6 405.0,230.3 406.0,232.8 407.0,235.4 408.0,237.8 409.0,240.1 410.0,242.1 411.0,243.4 412.0,243.8 413.0,243.3 414.0,242.8 415.0,242.3 416.0,241.8 417.0,241.4 418.0,240.9 419.0,240.4 420.0,240.0 421.0,239.5 422.0,239.0 423.0,238.6 424.0,238.6 425.0,239.0 426.0,239.7 427.0,240.4 428.0,241.2 429.0,242.2 430.0,243.3 431.0,244.7 432.0,246.3 433.0,248.0 434.0,249.4 435.0,249.9 436.0,250.0 437.0,250.1 438.0,250.7 439.0,251.2 440.0,251.3 441.0,251.0 442.0,250.4 443.0,249.9 444.0,249.4 445.0,249.0 446.0,248.7 447.0,248.4 448.0,248.2 449.0,247.9 450.0,247.6 451.0,247.3 452.0,246.5 453.0,244.9 454.0,242.6 455.0,240.2 456.0,237.6 457.0,235.0 458.0,232.3 459.0,229.5 460.0,226.6 461.0,223.5 462.0,220.2 463.0,216.8 464.0,213.0 465.0,208.9 466.0,204.7 467.0,200.5 468.0,196.3 469.0,192.3 470.0,188.6 471.0,185.2 472.0,181.3 473.0,176.7 474.0,171.9 475.0,167.6 476.0,164.0 477.0,160.7 478.0,157.5 479.0,154.5 480.0,151.7 481.0,149.4 482.0,147.8 483.0,146.9 484.0,146.4 485.0,146.2 486.0,146.5 487.0,146.8 488.0,147.5 489.0,148.7 490.0,150.3 491.0,152.3 492.0,154.9 493.0,158.1 494.0,161.1 495.0,164.1 496.0,166.8 497.0,169.6 498.0,173.2 499.0,177.6 500.0,182.1 501.0,187.7 502.0,192.8 503.0,196.5 504.0,199.5 505.0,202.5 506.0,205.5 507.0,208.8 508.0,212.3 509.0,216.0 510.0,219.8 511.0,223.6 512.0,227.3 513.0,229.8 514.0,231.1 515.0,231.4 516.0,231.7 517.0,232.0 518.0,232.3 519.0,232.6 520.0,232.8 521.0,233.1 522.0,233.5 523.0,234.0 524.0,234.5 525.0,235.0 526.0,235.6 527.0,236.4 528.0,237.5 529.0,239.5 530.0,242.3 531.0,246.0 532.0,249.5 533.0,252.9 534.0,255.7 535.0,258.6 536.0,261.0 537.0,262.8 538.0,264.0 539.0,265.0 540.0,266.0 541.0,267.0 542.0,267.9 543.0,268.6 544.0,269.2 545.0,269.7 546.0,270.1 547.0,270.6 548.0,271.0 549.0,271.2 550.0,271.4 551.0,271.5 552.0,271.5 553.0,271.5 554.0,271.4 555.0,271.4 556.0,271.4 557.0,271.3 558.0,271.2 559.0,271.1 560.0,269.8 561.0,267.2 562.0,263.5 563.0,259.8 564.0,256.0 565.0,252.2 566.0,248.4 567.0,244.6 568.0,240.7 569.0,236.7 570.0,232.6 571.0,228.3 572.0,224.0 573.0,219.5 574.0,214.9 575.0,210.2 576.0,205.6 577.0,201.1 578.0,196.6 579.0,192.3 580.0,188.4 581.0,185.2 582.0,182.7 583.0,180.5 584.0,178.6 585.0,177.4 586.0,177.0 587.0,177.1 588.0,177.2 589.0,177.4 590.0,177.8 591.0,179.0 592.0,180.6 593.0,182.2 594.0,184.3 595.0,187.4 596.0,190.8 597.0,194.5 598.0,198.4 599.0,202.4 600.0,206.4 601.0,210.5 602.0,214.3 603.0,217.9 604.0,221.1 605.0,224.4 606.0,228.0 607.0,231.8 608.0,235.8 609.0,239.7 610.0,243.3 611.0,246.5 612.0,249.6 613.0,252.5 614.0,254.2 615.0,254.9 616.0,254.5 617.0,254.1 618.0,253.7 619.0,253.3 620.0,253.0 621.0,252.8 622.0,252.6 623.0,252.4 624.0,252.3 625.0,252.3 626.0,252.5 627.0,252.7 628.0,253.0 629.0,253.6 630.0,254.4 631.0,255.5 632.0,256.7 633.0,257.9 634.0,259.5 635.0,261.3 636.0,263.2 637.0,264.8 638.0,266.0 639.0,267.0 640.0,268.0 641.0,269.0 642.0,270.1 643.0,271.1 644.0,272.0 645.0,272.7 646.0,273.4 647.0,274.0 648.0,274.6 649.0,275.2 650.0,275.9 651.0,276.5 652.0,277.2 653.0,277.8 654.0,278.2 655.0,278.3 656.0,278.1 657.0,277.9 658.0,277.6 659.0,276.9 660.0,275.6 661.0,273.8 662.0,271.9 663.0,269.4 664.0,266.4 665.0,263.2 666.0,259.8 667.0,256.4 668.0,252.8 669.0,249.0 670.0,244.9 671.0,240.7 672.0,236.4 673.0,232.0 674.0,227.4 675.0,222.7 676.0,218.0 677.0,213.2 678.0,208.3 679.0,203.5 680.0,198.6 681.0,193.6 682.0,188.7 683.0,184.7 684.0,181.8 685.0,179.9 686.0,178.0 687.0,176.1 688.0,174.5 689.0,173.5 690.0,173.1 691.0,173.1 692.0,174.1 693.0,175.8 694.0,178.7 695.0,182.0 696.0,185.4 697.0,188.7 698.0,192.0 699.0,195.3 700.0,199.1 701.0,203.5 702.0,208.9 703.0,215.2 704.0,222.4 705.0,229.1 706.0,234.9 707.0,239.5 708.0,243.5 709.0,247.0 710.0,249.9 711.0,252.6 712.0,254.9 713.0,257.1 714.0,259.2 715.0,261.0 716.0,262.7 717.0,264.4 718.0,265.9 719.0,266.5 720.0,266.4 721.0,265.7 722.0,265.1 723.0,264.5 724.0,264.0 725.0,263.5 726.0,263.2 727.0,262.9 728.0,262.7 729.0,262.4 730.0,262.2 731.0,261.9 732.0,261.7 733.0,261.7 734.0,261.8 735.0,261.9 736.0,262.0 737.0,262.1 738.0,262.1 739.0,262.3 740.0,262.4 741.0,262.5 742.0,262.7 743.0,262.9 744.0,263.0 745.0,263.2 746.0,263.3 747.0,263.6 748.0,263.9 749.0,264.3 750.0,264.7 751.0,265.1 752.0,265.5 753.0,265.9 754.0,266.2 755.0,266.5 756.0,266.8 757.0,267.1 758.0,267.4 759.0,267.7 760.0,267.9 761.0,268.1 762.0,268.2 763.0,267.8 764.0,266.9 765.0,265.3 766.0,263.5 767.0,260.9 768.0,257.5 769.0,253.8 770.0,250.3 771.0,247.2 772.0,244.4 773.0,241.7 774.0,239.2 775.0,236.4 776.0,233.1 777.0,229.3 778.0,225.2 779.0,221.1 780.0,217.0 781.0,212.8 782.0,208.5 783.0,204.4 784.0,200.3 785.0,196.3 786.0,192.7 787.0,190.0 788.0,188.3 789.0,187.2 790.0,186.0 791.0,185.2 792.0,184.9 793.0,185.2 794.0,185.9 795.0,186.5 796.0,187.5 797.0,189.3 798.0,192.7 799.0,196.2 800.0,199.7 801.0,203.4 802.0,207.1 803.0,210.9 804.0,214.8 805.0,218.6 806.0,222.6 807.0,226.8 808.0,231.1 809.0,235.4 810.0,239.8 811.0,244.2 812.0,247.4 813.0,251.0 814.0,253.9 815.0,256.6 816.0,259.8 817.0,263.8 818.0,268.0 819.0,270.5 820.0,270.9 821.0,269.9 822.0,268.9 823.0,267.9 824.0,266.9 825.0,265.9 826.0,264.9 827.0,263.9 828.0,262.9 829.0,261.9 830.0,260.9 831.0,259.8 832.0,258.7 833.0,257.4 834.0,256.1 835.0,254.9 836.0,253.7 837.0,252.7 838.0,251.7 839.0,250.8 840.0,249.6 841.0,248.1 842.0,246.4 843.0,244.8 844.0,243.2 845.0,241.7 846.0,240.2 847.0,238.8 848.0,237.4 849.0,236.1 850.0,234.9 851.0,233.6 852.0,232.5 853.0,231.7 854.0,231.1 855.0,230.6 856.0,230.1 857.0,229.8 858.0,229.9 859.0,230.2 860.0,230.6 861.0,230.9 862.0,231.0 863.0,230.5 864.0,230.0 865.0,229.2 866.0,228.2 867.0,226.8 868.0,224.7 869.0,222.2 870.0,219.5 871.0,216.3 872.0,212.7 873.0,208.7 874.0,204.6 875.0,200.1 876.0,195.4 877.0,190.7 878.0,186.4 879.0,182.3 880.0,177.9 881.0,173.2 882.0,168.3 883.0,163.6 884.0,159.2 885.0,155.1 886.0,151.1 887.0,147.8 888.0,145.2 889.0,143.2 890.0,141.9 891.0,141.7 892.0,142.7 893.0,144.9 894.0,148.0 895.0,151.8 896.0,155.8 897.0,159.8 898.0,163.8 899.0,167.5 900.0,170.8 901.0,173.7 902.0,176.3 903.0,179.5 904.0,182.6 905.0,185.4 906.0,188.3 907.0,189.5 908.0,188.9 909.0,186.7 910.0,184.5 911.0,182.8 912.0,181.9 913.0,182.0 914.0,182.5 915.0,183.0 916.0,183.6 917.0,184.5 918.0,185.8 919.0,187.2 920.0,188.7 921.0,190.2 922.0,191.8 923.0,193.6 924.0,195.6 925.0,197.6 926.0,199.6 927.0,201.5 928.0,203.2 929.0,204.8 930.0,206.3 931.0,207.8 932.0,209.3 933.0,210.8 934.0,212.2 935.0,213.6 936.0,214.9 937.0,216.1 938.0,217.4 939.0,218.7 940.0,219.9 941.0,221.1 942.0,222.3 943.0,223.3 944.0,224.4 945.0,225.9 946.0,227.3 947.0,228.9 948.0,230.7 949.0,232.5 950.0,234.0 951.0,235.3 952.0,236.8 953.0,238.2 954.0,239.5 955.0,240.6 956.0,241.2 957.0,241.5 958.0,241.7 959.0,241.3 960.0,241.2 961.0,241.3 962.0,240.9 963.0,240.0 964.0,239.0 965.0,237.5 966.0,235.5 967.0,233.2 968.0,230.8 969.0,228.0 970.0,224.8 971.0,221.5 972.0,218.0 973.0,214.2 974.0,210.3 975.0,206.3 976.0,202.4 977.0,198.6 978.0,194.8 979.0,191.1 980.0,186.2 981.0,181.7 982.0,177.8 983.0,175.6 984.0,173.5 985.0,171.8 986.0,170.5 987.0,169.5 988.0,168.7 989.0,168.2 990.0,168.1 991.0,168.1 992.0,168.2 993.0,168.5 994.0,169.0 995.0,169.5 996.0,170.0 997.0,170.5 998.0,171.1 999.0,171.6 1000.0,172.1 1001.0,172.6 1002.0,173.2 1003.0,173.8 1004.0,174.6 1005.0,175.3 1006.0,176.4 1007.0,177.7 1008.0,179.5 1009.0,182.3 1010.0,184.8 1011.0,187.2 1012.0,189.5 1013.0,192.6 1014.0,195.9 1015.0,198.8 1016.0,201.9 1017.0,206.4 1018.0,210.9 1019.0,215.1 1020.0,219.0 1021.0,222.5 1022.0,225.8 1023.0,228.9 1024.0,231.6 1025.0,233.9 1026.0,236.1 1027.0,237.6 1028.0,238.4 1029.0,238.7 1030.0,238.9 1031.0,239.2 1032.0,239.2 1033.0,239.1 1034.0,238.8 1035.0,238.5 1036.0,238.4 1037.0,238.6 1038.0,239.1 1039.0,239.8 1040.0,240.6 1041.0,241.3 1042.0,242.0 1043.0,242.5 1044.0,243.0 1045.0,243.5 1046.0,243.9 1047.0,244.2 1048.0,244.3 1049.0,244.3 1050.0,244.3 1051.0,244.5 1052.0,244.7 1053.0,244.8 1054.0,244.8 1055.0,244.8 1056.0,244.9 1057.0,245.1 1058.0,245.3 1059.0,245.2 1060.0,245.0 1061.0,244.5 1062.0,244.0 1063.0,243.5 1064.0,243.0 1065.0,242.6 1066.0,242.3 1067.0,241.6 1068.0,239.9 1069.0,237.1 1070.0,233.8 1071.0,230.3 1072.0,226.6 1073.0,222.7 1074.0,218.6 1075.0,214.5 1076.0,210.3 1077.0,206.0 1078.0,201.7 1079.0,197.5 1080.0,193.4 1081.0,189.3 1082.0,184.9 1083.0,179.8 1084.0,174.0 1085.0,168.0 1086.0,161.9 1087.0,155.8 1088.0,150.0 1089.0,145.1 1090.0,141.0 1091.0,137.9 1092.0,135.5 1093.0,133.6 1094.0,132.6 1095.0,132.5 1096.0,133.2 1097.0,134.0 1098.0,135.0 1099.0,135.9 1099.0,392.6" fill="#c9dadb"/>
<polygon points="23.0,392.6 23.0,239.2 24.0,238.9 25.0,238.6 26.0,238.2 27.0,237.9 28.0,237.7 29.0,237.5 30.0,237.5 31.0,237.5 32.0,237.5 33.0,237.5 34.0,237.5 35.0,237.6 36.0,237.7 37.0,237.9 38.0,238.0 39.0,238.2 40.0,238.3 41.0,238.4 42.0,238.4 43.0,238.3 44.0,238.0 45.0,237.7 46.0,237.1 47.0,236.1 48.0,234.9 49.0,233.3 50.0,231.4 51.0,229.3 52.0,227.0 53.0,224.7 54.0,222.1 55.0,219.3 56.0,216.4 57.0,213.3 58.0,210.0 59.0,206.5 60.0,202.8 61.0,198.9 62.0,194.2 63.0,188.8 64.0,182.6 65.0,175.6 66.0,168.7 67.0,162.3 68.0,156.9 69.0,152.7 70.0,149.8 71.0,147.5 72.0,145.6 73.0,144.7 74.0,144.4 75.0,144.8 76.0,145.9 77.0,147.7 78.0,149.5 79.0,151.4 80.0,153.4 81.0,155.3 82.0,157.2 83.0,159.0 84.0,160.6 85.0,162.1 86.0,163.5 87.0,164.8 88.0,166.0 89.0,167.0 90.0,168.0 91.0,169.2 92.0,170.6 93.0,172.2 94.0,174.7 95.0,178.5 96.0,182.8 97.0,187.6 98.0,193.0 99.0,198.2 100.0,203.1 101.0,208.0 102.0,212.3 103.0,215.3 104.0,216.6 105.0,216.1 106.0,213.8 107.0,210.8 108.0,207.8 109.0,205.1 110.0,202.9 111.0,201.4 112.0,200.2 113.0,199.2 114.0,198.6 115.0,198.2 116.0,198.0 117.0,198.0 118.0,198.2 119.0,198.6 120.0,199.2 121.0,199.9 122.0,200.8 123.0,201.8 124.0,203.0 125.0,204.3 126.0,205.5 127.0,206.8 128.0,208.0 129.0,209.3 130.0,210.6 131.0,211.8 132.0,213.1 133.0,214.3 134.0,215.6 135.0,216.7 136.0,217.9 137.0,218.9 138.0,219.9 139.0,220.8 140.0,221.6 141.0,222.2 142.0,222.8 143.0,223.2 144.0,223.5 145.0,223.5 146.0,223.4 147.0,223.2 148.0,222.7 149.0,222.1 150.0,221.4 151.0,220.6 152.0,219.7 153.0,218.7 154.0,217.6 155.0,216.4 156.0,215.1 157.0,213.8 158.0,212.4 159.0,210.4 160.0,207.6 161.0,204.0 162.0,199.8 163.0,194.9 164.0,189.9 165.0,185.2 166.0,180.7 167.0,176.4 168.0,172.3 169.0,168.7 170.0,165.2 171.0,161.9 172.0,158.9 173.0,156.3 174.0,154.0 175.0,151.9 176.0,150.4 177.0,149.3 178.0,148.5 179.0,148.0 180.0,148.0 181.0,148.2 182.0,148.4 183.0,149.0 184.0,149.9 185.0,151.2 186.0,152.7 187.0,154.8 188.0,157.1 189.0,159.7 190.0,162.7 191.0,166.1 192.0,169.8 193.0,174.1 194.0,179.0 195.0,184.5 196.0,190.3 197.0,196.4 198.0,202.6 199.0,208.8 200.0,215.2 201.0,221.9 202.0,228.6 203.0,235.3 204.0,241.8 205.0,247.7 206.0,252.0 207.0,254.8 208.0,256.3 209.0,256.3 210.0,255.1 211.0,253.7 212.0,252.3 213.0,251.0 214.0,249.9 215.0,249.2 216.0,248.7 217.0,248.6 218.0,248.4 219.0,248.3 220.0,248.4 221.0,248.6 222.0,248.9 223.0,249.5 224.0,250.2 225.0,251.0 226.0,251.9 227.0,252.9 228.0,253.9 229.0,255.0 230.0,256.1 231.0,257.3 232.0,258.5 233.0,259.7 234.0,260.7 235.0,261.7 236.0,262.5 237.0,263.1 238.0,262.4 239.0,261.7 240.0,261.1 241.0,260.5 242.0,260.2 243.0,261.0 244.0,261.5 245.0,261.8 246.0,261.7 247.0,261.3 248.0,260.1 249.0,258.9 250.0,257.7 251.0,256.5 252.0,255.4 253.0,255.0 254.0,253.4 255.0,251.5 256.0,249.6 257.0,247.4 258.0,244.5 259.0,241.9 260.0,238.8 261.0,235.0 262.0,230.6 263.0,226.1 264.0,221.5 265.0,216.7 266.0,211.9 267.0,207.2 268.0,202.7 269.0,198.4 270.0,194.5 271.0,191.0 272.0,187.8 273.0,184.8 274.0,182.1 275.0,179.8 276.0,177.8 277.0,176.2 278.0,175.2 279.0,174.8 280.0,174.8 281.0,175.1 282.0,175.8 283.0,176.9 284.0,178.4 285.0,180.3 286.0,182.5 287.0,185.1 288.0,187.6 289.0,190.4 290.0,193.5 291.0,196.8 292.0,200.3 293.0,204.1 294.0,207.9 295.0,211.6 296.0,215.4 297.0,219.1 298.0,222.8 299.0,226.6 300.0,230.4 301.0,234.3 302.0,238.3 303.0,242.4 304.0,246.5 305.0,250.4 306.0,254.1 307.0,257.0 308.0,258.5 309.0,258.8 310.0,257.9 311.0,255.9 312.0,253.2 313.0,250.5 314.0,248.0 315.0,245.8 316.0,244.0 317.0,242.7 318.0,242.0 319.0,241.5 320.0,241.4 321.0,241.5 322.0,241.8 323.0,242.3 324.0,242.8 325.0,243.3 326.0,243.8 327.0,244.3 328.0,244.7 329.0,245.1 330.0,245.4 331.0,245.7 332.0,245.9 333.0,246.0 334.0,246.0 335.0,245.9 336.0,245.8 337.0,245.5 338.0,245.3 339.0,245.2 340.0,245.1 341.0,245.1 342.0,245.2 343.0,245.2 344.0,245.0 345.0,244.7 346.0,244.2 347.0,243.5 348.0,242.7 349.0,241.7 350.0,240.5 351.0,239.2 352.0,237.7 353.0,236.0 354.0,234.2 355.0,232.1 356.0,229.8 357.0,227.3 358.0,224.7 359.0,222.0 360.0,219.2 361.0,216.4 362.0,213.4 363.0,210.5 364.0,207.6 365.0,204.7 366.0,201.9 367.0,199.2 368.0,196.6 369.0,194.2 370.0,192.1 371.0,190.1 372.0,188.4 373.0,186.9 374.0,185.6 375.0,184.5 376.0,183.7 377.0,183.1 378.0,182.6 379.0,182.2 380.0,182.0 381.0,181.9 382.0,181.9 383.0,182.1 384.0,182.4 385.0,182.9 386.0,183.7 387.0,184.9 388.0,186.2 389.0,187.9 390.0,189.9 391.0,192.4 392.0,195.1 393.0,198.1 394.0,201.6 395.0,205.3 396.0,209.3 397.0,213.4 398.0,217.7 399.0,221.9 400.0,226.0 401.0,230.3 402.0,234.8 403.0,239.7 404.0,244.8 405.0,250.1 406.0,255.3 407.0,260.2 408.0,264.4 409.0,267.9 410.0,270.9 411.0,272.9 412.0,274.0 413.0,274.6 414.0,274.6 415.0,274.1 416.0,273.3 417.0,272.6 418.0,271.9 419.0,271.2 420.0,270.8 421.0,270.5 422.0,270.3 423.0,270.3 424.0,270.4 425.0,270.6 426.0,270.8 427.0,271.1 428.0,271.5 429.0,272.0 430.0,272.6 431.0,273.4 432.0,274.3 433.0,275.1 434.0,275.9 435.0,276.5 436.0,277.1 437.0,277.5 438.0,277.7 439.0,277.7 440.0,277.5 441.0,277.1 442.0,276.6 443.0,275.8 444.0,275.0 445.0,273.9 446.0,272.7 447.0,271.4 448.0,270.0 449.0,268.6 450.0,267.1 451.0,265.4 452.0,263.6 453.0,261.8 454.0,259.9 455.0,257.8 456.0,255.7 457.0,253.5 458.0,251.5 459.0,249.7 460.0,246.8 461.0,244.0 462.0,241.3 463.0,238.0 464.0,234.2 465.0,230.9 466.0,227.1 467.0,222.7 468.0,218.0 469.0,213.4 470.0,208.7 471.0,204.3 472.0,200.1 473.0,196.1 474.0,192.3 475.0,188.7 476.0,185.6 477.0,182.4 478.0,179.3 479.0,176.2 480.0,173.4 481.0,170.6 482.0,168.1 483.0,166.3 484.0,165.1 485.0,164.2 486.0,164.1 487.0,164.5 488.0,165.4 489.0,167.0 490.0,169.3 491.0,171.8 492.0,174.4 493.0,177.7 494.0,181.5 495.0,186.0 496.0,190.8 497.0,196.1 498.0,201.3 499.0,206.2 500.0,210.8 501.0,215.4 502.0,219.9 503.0,224.4 504.0,229.0 505.0,233.6 506.0,238.3 507.0,240.5 508.0,243.0 509.0,245.8 510.0,248.2 511.0,249.8 512.0,253.1 513.0,255.4 514.0,256.7 515.0,257.4 516.0,258.0 517.0,258.5 518.0,258.8 519.0,259.1 520.0,259.3 521.0,259.5 522.0,260.0 523.0,260.5 524.0,261.3 525.0,262.2 526.0,263.2 527.0,264.6 528.0,266.2 529.0,268.2 530.0,270.3 531.0,272.7 532.0,275.0 533.0,277.3 534.0,279.5 535.0,281.4 536.0,283.2 537.0,284.7 538.0,285.8 539.0,286.7 540.0,287.5 541.0,288.1 542.0,288.6 543.0,289.0 544.0,289.3 545.0,289.6 546.0,289.7 547.0,289.8 548.0,289.9 549.0,290.0 550.0,290.0 551.0,290.0 552.0,289.9 553.0,289.8 554.0,289.7 555.0,289.7 556.0,289.7 557.0,289.8 558.0,289.9 559.0,289.1 560.0,287.1 561.0,283.8 562.0,278.9 563.0,272.6 564.0,265.7 565.0,258.4 566.0,251.4 567.0,245.4 568.0,240.7 569.0,236.7 570.0,233.2 571.0,230.5 572.0,227.9 573.0,225.3 574.0,222.6 575.0,219.6 576.0,216.1 577.0,212.1 578.0,207.7 579.0,203.2 580.0,198.9 581.0,194.9 582.0,191.6 583.0,189.1 584.0,187.3 585.0,186.3 586.0,186.0 587.0,186.2 588.0,186.5 589.0,186.6 590.0,186.4 591.0,186.5 592.0,187.2 593.0,188.4 594.0,190.5 595.0,193.5 596.0,196.8 597.0,200.3 598.0,203.8 599.0,207.6 600.0,211.4 601.0,215.3 602.0,219.4 603.0,223.5 604.0,227.9 605.0,233.2 606.0,238.9 607.0,244.9 608.0,251.1 609.0,257.3 610.0,263.0 611.0,267.3 612.0,270.5 613.0,272.7 614.0,273.9 615.0,274.1 616.0,274.1 617.0,274.0 618.0,273.6 619.0,273.0 620.0,272.3 621.0,271.7 622.0,271.3 623.0,271.0 624.0,270.9 625.0,270.9 626.0,271.2 627.0,271.6 628.0,272.3 629.0,273.1 630.0,274.1 631.0,275.1 632.0,276.1 633.0,277.2 634.0,278.2 635.0,279.2 636.0,280.2 637.0,281.2 638.0,282.1 639.0,283.1 640.0,283.9 641.0,284.5 642.0,285.1 643.0,285.5 644.0,286.0 645.0,286.3 646.0,286.7 647.0,287.1 648.0,287.5 649.0,287.8 650.0,288.1 651.0,288.5 652.0,288.8 653.0,289.1 654.0,289.3 655.0,289.4 656.0,289.5 657.0,289.5 658.0,289.3 659.0,289.1 660.0,288.6 661.0,287.8 662.0,286.2 663.0,284.0 664.0,280.4 665.0,275.6 666.0,269.6 667.0,263.0 668.0,255.6 669.0,250.0 670.0,246.4 671.0,244.9 672.0,245.0 673.0,245.7 674.0,245.1 675.0,242.9 676.0,239.2 677.0,234.0 678.0,228.7 679.0,223.3 680.0,217.8 681.0,212.4 682.0,207.1 683.0,201.9 684.0,197.1 685.0,192.6 686.0,188.7 687.0,185.8 688.0,183.8 689.0,182.5 690.0,182.2 691.0,182.3 692.0,182.5 693.0,182.9 694.0,183.8 695.0,185.1 696.0,186.8 697.0,189.5 698.0,193.6 699.0,198.7 700.0,204.8 701.0,211.9 702.0,219.3 703.0,226.3 704.0,233.0 705.0,238.4 706.0,242.0 707.0,245.7 708.0,249.6 709.0,253.8 710.0,259.3 711.0,265.9 712.0,271.2 713.0,275.1 714.0,277.6 715.0,278.7 716.0,278.9 717.0,279.0 718.0,278.8 719.0,278.4 720.0,278.0 721.0,277.6 722.0,277.2 723.0,276.8 724.0,276.4 725.0,276.0 726.0,275.6 727.0,275.2 728.0,274.9 729.0,274.6 730.0,274.3 731.0,274.1 732.0,273.9 733.0,273.7 734.0,273.7 735.0,273.6 736.0,273.7 737.0,273.9 738.0,274.1 739.0,274.2 740.0,274.4 741.0,274.4 742.0,274.4 743.0,274.4 744.0,274.3 745.0,274.2 746.0,274.2 747.0,274.3 748.0,274.5 749.0,274.8 750.0,275.2 751.0,275.5 752.0,275.8 753.0,276.1 754.0,276.4 755.0,276.6 756.0,276.9 757.0,277.1 758.0,277.4 759.0,277.6 760.0,277.8 761.0,277.8 762.0,277.5 763.0,276.9 764.0,275.8 765.0,273.9 766.0,271.4 767.0,268.2 768.0,264.1 769.0,259.6 770.0,254.8 771.0,249.9 772.0,247.6 773.0,246.0 774.0,244.6 775.0,243.5 776.0,242.5 777.0,239.1 778.0,235.0 779.0,230.8 780.0,226.6 781.0,222.3 782.0,218.1 783.0,214.0 784.0,209.9 785.0,205.9 786.0,201.9 787.0,198.4 788.0,195.5 789.0,193.2 790.0,191.8 791.0,191.3 792.0,191.2 793.0,191.4 794.0,192.1 795.0,193.2 796.0,194.8 797.0,196.7 798.0,199.2 799.0,202.1 800.0,205.3 801.0,208.7 802.0,212.5 803.0,216.3 804.0,220.1 805.0,224.0 806.0,228.0 807.0,231.9 808.0,235.9 809.0,240.0 810.0,244.4 811.0,249.1 812.0,254.0 813.0,259.2 814.0,264.5 815.0,269.9 816.0,274.7 817.0,278.3 818.0,280.8 819.0,282.1 820.0,282.3 821.0,281.9 822.0,281.4 823.0,280.8 824.0,279.9 825.0,278.9 826.0,277.6 827.0,276.2 828.0,274.8 829.0,273.5 830.0,272.2 831.0,270.9 832.0,269.6 833.0,268.4 834.0,267.2 835.0,265.8 836.0,264.2 837.0,262.5 838.0,260.7 839.0,258.8 840.0,257.1 841.0,255.4 842.0,253.9 843.0,252.6 844.0,251.2 845.0,249.8 846.0,248.4 847.0,246.9 848.0,245.5 849.0,244.1 850.0,242.8 851.0,241.6 852.0,240.6 853.0,239.6 854.0,238.7 855.0,238.0 856.0,237.6 857.0,237.3 858.0,237.3 859.0,237.5 860.0,237.7 861.0,237.7 862.0,237.6 863.0,237.3 864.0,236.8 865.0,236.1 866.0,235.0 867.0,233.6 868.0,231.7 869.0,229.5 870.0,226.4 871.0,222.9 872.0,219.0 873.0,214.7 874.0,210.0 875.0,205.2 876.0,200.4 877.0,195.2 878.0,190.1 879.0,186.0 880.0,182.9 881.0,179.8 882.0,177.1 883.0,174.3 884.0,170.5 885.0,165.9 886.0,161.4 887.0,157.2 888.0,153.6 889.0,150.7 890.0,149.0 891.0,148.3 892.0,149.0 893.0,150.8 894.0,153.5 895.0,156.9 896.0,160.9 897.0,165.1 898.0,169.3 899.0,173.4 900.0,177.1 901.0,180.4 902.0,183.3 903.0,185.9 904.0,188.2 905.0,190.5 906.0,192.0 907.0,192.7 908.0,192.5 909.0,191.4 910.0,189.8 911.0,188.5 912.0,187.8 913.0,187.5 914.0,187.8 915.0,188.3 916.0,189.1 917.0,190.0 918.0,191.1 919.0,192.5 920.0,194.0 921.0,195.7 922.0,197.6 923.0,199.8 924.0,202.2 925.0,204.8 926.0,207.3 927.0,209.6 928.0,211.7 929.0,213.5 930.0,215.1 931.0,216.6 932.0,218.1 933.0,219.5 934.0,221.0 935.0,222.3 936.0,223.7 937.0,225.0 938.0,226.2 939.0,227.5 940.0,229.5 941.0,232.1 942.0,233.9 943.0,235.0 944.0,236.4 945.0,237.3 946.0,238.1 947.0,239.7 948.0,241.4 949.0,242.2 950.0,242.6 951.0,242.9 952.0,243.1 953.0,244.1 954.0,245.4 955.0,246.6 956.0,247.4 957.0,248.1 958.0,249.0 959.0,249.5 960.0,249.6 961.0,249.7 962.0,249.8 963.0,249.4 964.0,248.1 965.0,248.0 966.0,247.9 967.0,246.8 968.0,244.9 969.0,244.3 970.0,242.7 971.0,239.4 972.0,235.8 973.0,232.2 974.0,228.2 975.0,223.8 976.0,220.6 977.0,217.9 978.0,215.2 979.0,210.8 980.0,206.2 981.0,201.4 982.0,196.4 983.0,191.4 984.0,188.6 985.0,186.4 986.0,185.0 987.0,184.2 988.0,184.1 989.0,184.0 990.0,184.1 991.0,184.3 992.0,184.6 993.0,184.8 994.0,185.1 995.0,185.3 996.0,185.6 997.0,185.9 998.0,186.1 999.0,186.4 1000.0,186.8 1001.0,187.1 1002.0,187.6 1003.0,188.1 1004.0,188.8 1005.0,189.8 1006.0,191.3 1007.0,193.0 1008.0,195.4 1009.0,198.5 1010.0,202.3 1011.0,206.5 1012.0,211.3 1013.0,216.3 1014.0,221.3 1015.0,226.3 1016.0,231.4 1017.0,236.7 1018.0,240.4 1019.0,242.6 1020.0,244.7 1021.0,246.7 1022.0,249.5 1023.0,253.4 1024.0,257.7 1025.0,261.0 1026.0,263.2 1027.0,263.4 1028.0,263.0 1029.0,262.5 1030.0,262.2 1031.0,261.9 1032.0,261.6 1033.0,261.3 1034.0,261.1 1035.0,260.9 1036.0,260.7 1037.0,260.5 1038.0,260.3 1039.0,260.1 1040.0,260.0 1041.0,259.9 1042.0,259.8 1043.0,259.8 1044.0,259.8 1045.0,259.8 1046.0,259.9 1047.0,260.0 1048.0,260.2 1049.0,260.4 1050.0,260.6 1051.0,260.9 1052.0,261.1 1053.0,261.4 1054.0,261.7 1055.0,261.8 1056.0,261.8 1057.0,261.5 1058.0,261.1 1059.0,260.4 1060.0,259.5 1061.0,258.5 1062.0,257.3 1063.0,255.8 1064.0,254.1 1065.0,252.2 1066.0,250.1 1067.0,247.9 1068.0,245.4 1069.0,244.9 1070.0,244.8 1071.0,244.3 1072.0,243.6 1073.0,242.7 1074.0,239.3 1075.0,235.0 1076.0,230.4 1077.0,225.6 1078.0,220.6 1079.0,215.6 1080.0,210.6 1081.0,205.6 1082.0,200.6 1083.0,195.5 1084.0,189.4 1085.0,182.3 1086.0,174.3 1087.0,166.0 1088.0,158.6 1089.0,153.0 1090.0,149.2 1091.0,147.2 1092.0,146.3 1093.0,145.8 1094.0,145.6 1095.0,145.7 1096.0,146.1 1097.0,146.6 1098.0,146.9 1099.0,147.1 1099.0,392.6" fill="#3a3a3a"/>
<polygon points="23.0,392.6 23.0,242.0 24.0,241.7 25.0,241.4 26.0,241.0 27.0,240.7 28.0,240.5 29.0,240.3 30.0,240.3 31.0,240.3 32.0,240.3 33.0,240.3 34.0,240.3 35.0,240.4 36.0,240.5 37.0,240.7 38.0,240.8 39.0,241.0 40.0,241.1 41.0,241.2 42.0,241.2 43.0,241.1 44.0,240.8 45.0,240.5 46.0,239.9 47.0,238.9 48.0,237.7 49.0,236.1 50.0,234.2 51.0,232.1 52.0,229.8 53.0,227.5 54.0,224.9 55.0,222.1 56.0,219.2 57.0,216.1 58.0,212.8 59.0,209.3 60.0,205.6 61.0,201.7 62.0,197.0 63.0,191.6 64.0,185.4 65.0,178.4 66.0,171.5 67.0,165.1 68.0,159.7 69.0,155.5 70.0,152.6 71.0,150.3 72.0,148.4 73.0,147.5 74.0,147.2 75.0,147.6 76.0,148.7 77.0,150.5 78.0,152.3 79.0,154.2 80.0,156.2 81.0,158.1 82.0,160.0 83.0,161.8 84.0,163.4 85.0,164.9 86.0,166.3 87.0,167.6 88.0,168.8 89.0,169.8 90.0,170.8 91.0,172.0 92.0,173.4 93.0,175.0 94.0,177.5 95.0,181.3 96.0,185.6 97.0,190.4 98.0,195.8 99.0,201.0 100.0,205.9 101.0,210.8 102.0,215.1 103.0,218.1 104.0,219.4 105.0,218.9 106.0,216.6 107.0,213.6 108.0,210.6 109.0,207.9 110.0,205.8 111.0,204.2 112.0,203.0 113.0,202.0 114.0,201.4 115.0,201.0 116.0,200.8 117.0,200.8 118.0,201.0 119.0,201.4 120.0,202.0 121.0,202.7 122.0,203.6 123.0,204.6 124.0,205.8 125.0,207.1 126.0,208.3 127.0,209.6 128.0,210.8 129.0,212.1 130.0,213.4 131.0,214.6 132.0,215.9 133.0,217.1 134.0,218.4 135.0,219.5 136.0,220.7 137.0,221.7 138.0,222.7 139.0,223.6 140.0,224.4 141.0,225.0 142.0,225.6 143.0,226.0 144.0,226.3 145.0,226.3 146.0,226.2 147.0,226.0 148.0,225.5 149.0,224.9 150.0,224.2 151.0,223.4 152.0,222.5 153.0,221.5 154.0,220.4 155.0,219.2 156.0,217.9 157.0,216.6 158.0,215.2 159.0,213.2 160.0,210.4 161.0,206.8 162.0,202.6 163.0,197.7 164.0,192.7 165.0,188.0 166.0,183.5 167.0,179.2 168.0,175.1 169.0,171.5 170.0,168.0 171.0,164.7 172.0,161.7 173.0,159.1 174.0,156.8 175.0,154.7 176.0,153.2 177.0,152.1 178.0,151.3 179.0,150.8 180.0,150.8 181.0,151.0 182.0,151.2 183.0,151.8 184.0,152.7 185.0,154.0 186.0,155.5 187.0,157.6 188.0,159.9 189.0,162.5 190.0,165.5 191.0,168.9 192.0,172.6 193.0,176.9 194.0,181.8 195.0,187.3 196.0,193.1 197.0,199.2 198.0,205.4 199.0,211.6 200.0,218.0 201.0,224.7 202.0,231.4 203.0,238.1 204.0,244.6 205.0,250.5 206.0,254.8 207.0,257.6 208.0,259.1 209.0,259.1 210.0,257.9 211.0,256.5 212.0,255.1 213.0,253.8 214.0,252.7 215.0,252.0 216.0,251.5 217.0,251.4 218.0,251.2 219.0,251.1 220.0,251.2 221.0,251.4 222.0,251.7 223.0,252.3 224.0,253.0 225.0,253.8 226.0,254.7 227.0,255.7 228.0,256.7 229.0,257.8 230.0,258.9 231.0,260.1 232.0,261.3 233.0,262.5 234.0,263.5 235.0,264.5 236.0,265.3 237.0,265.9 238.0,265.2 239.0,264.5 240.0,263.9 241.0,263.3 242.0,263.0 243.0,263.8 244.0,264.3 245.0,264.6 246.0,264.5 247.0,264.1 248.0,262.9 249.0,261.7 250.0,260.5 251.0,259.3 252.0,258.2 253.0,257.8 254.0,256.2 255.0,254.3 256.0,252.4 257.0,250.2 258.0,247.3 259.0,244.7 260.0,241.6 261.0,237.8 262.0,233.4 263.0,228.9 264.0,224.3 265.0,219.5 266.0,214.7 267.0,210.0 268.0,205.5 269.0,201.2 270.0,197.3 271.0,193.8 272.0,190.6 273.0,187.6 274.0,184.9 275.0,182.6 276.0,180.6 277.0,179.0 278.0,178.0 279.0,177.6 280.0,177.6 281.0,177.9 282.0,178.6 283.0,179.7 284.0,181.2 285.0,183.1 286.0,185.3 287.0,187.9 288.0,190.4 289.0,193.2 290.0,196.3 291.0,199.6 292.0,203.1 293.0,206.9 294.0,210.7 295.0,214.4 296.0,218.2 297.0,221.9 298.0,225.6 299.0,229.4 300.0,233.2 301.0,237.1 302.0,241.1 303.0,245.2 304.0,249.3 305.0,253.2 306.0,256.9 307.0,259.8 308.0,261.3 309.0,261.6 310.0,260.7 311.0,258.7 312.0,256.0 313.0,253.3 314.0,250.8 315.0,248.6 316.0,246.8 317.0,245.5 318.0,244.8 319.0,244.3 320.0,244.2 321.0,244.3 322.0,244.6 323.0,245.1 324.0,245.6 325.0,246.1 326.0,246.6 327.0,247.1 328.0,247.5 329.0,247.9 330.0,248.2 331.0,248.5 332.0,248.7 333.0,248.8 334.0,248.8 335.0,248.7 336.0,248.6 337.0,248.3 338.0,248.1 339.0,248.0 340.0,247.9 341.0,247.9 342.0,248.0 343.0,248.0 344.0,247.8 345.0,247.5 346.0,247.0 347.0,246.3 348.0,245.5 349.0,244.5 350.0,243.3 351.0,242.0 352.0,240.5 353.0,238.8 354.0,237.0 355.0,234.9 356.0,232.6 357.0,230.1 358.0,227.5 359.0,224.8 360.0,222.0 361.0,219.2 362.0,216.2 363.0,213.3 364.0,210.4 365.0,207.5 366.0,204.7 367.0,202.0 368.0,199.4 369.0,197.0 370.0,194.9 371.0,192.9 372.0,191.2 373.0,189.7 374.0,188.4 375.0,187.3 376.0,186.5 377.0,185.9 378.0,185.4 379.0,185.0 380.0,184.8 381.0,184.7 382.0,184.7 383.0,184.9 384.0,185.2 385.0,185.7 386.0,186.5 387.0,187.7 388.0,189.0 389.0,190.7 390.0,192.7 391.0,195.2 392.0,197.9 393.0,200.9 394.0,204.4 395.0,208.1 396.0,212.1 397.0,216.2 398.0,220.5 399.0,224.7 400.0,228.8 401.0,233.1 402.0,237.6 403.0,242.5 404.0,247.6 405.0,252.9 406.0,258.1 407.0,263.0 408.0,267.2 409.0,270.7 410.0,273.7 411.0,275.7 412.0,276.8 413.0,277.4 414.0,277.4 415.0,276.9 416.0,276.1 417.0,275.4 418.0,274.7 419.0,274.0 420.0,273.6 421.0,273.3 422.0,273.1 423.0,273.1 424.0,273.2 425.0,273.4 426.0,273.6 427.0,273.9 428.0,274.3 429.0,274.8 430.0,275.4 431.0,276.2 432.0,277.1 433.0,277.9 434.0,278.7 435.0,279.3 436.0,279.9 437.0,280.3 438.0,280.5 439.0,280.5 440.0,280.3 441.0,279.9 442.0,279.4 443.0,278.6 444.0,277.8 445.0,276.7 446.0,275.5 447.0,274.2 448.0,272.8 449.0,271.4 450.0,269.9 451.0,268.2 452.0,266.4 453.0,264.6 454.0,262.7 455.0,260.6 456.0,258.5 457.0,256.3 458.0,254.3 459.0,252.5 460.0,249.6 461.0,246.8 462.0,244.1 463.0,240.9 464.0,237.1 465.0,233.9 466.0,230.1 467.0,225.8 468.0,221.2 469.0,216.6 470.0,212.1 471.0,207.7 472.0,203.6 473.0,199.7 474.0,196.0 475.0,192.5 476.0,189.4 477.0,186.4 478.0,183.3 479.0,180.2 480.0,177.5 481.0,174.7 482.0,172.3 483.0,170.6 484.0,169.4 485.0,168.5 486.0,168.4 487.0,168.9 488.0,169.8 489.0,171.4 490.0,173.6 491.0,176.1 492.0,178.6 493.0,181.9 494.0,185.7 495.0,190.0 496.0,194.7 497.0,199.9 498.0,205.0 499.0,209.8 500.0,214.4 501.0,218.8 502.0,223.3 503.0,227.8 504.0,232.3 505.0,236.9 506.0,241.5 507.0,243.7 508.0,246.1 509.0,248.8 510.0,251.2 511.0,252.7 512.0,256.0 513.0,258.3 514.0,259.5 515.0,260.2 516.0,260.8 517.0,261.3 518.0,261.6 519.0,261.9 520.0,262.1 521.0,262.3 522.0,262.8 523.0,263.3 524.0,264.1 525.0,265.0 526.0,266.0 527.0,267.4 528.0,269.0 529.0,271.0 530.0,273.1 531.0,275.5 532.0,277.8 533.0,280.1 534.0,282.3 535.0,284.2 536.0,286.0 537.0,287.5 538.0,288.6 539.0,289.5 540.0,290.3 541.0,290.9 542.0,291.4 543.0,291.8 544.0,292.1 545.0,292.4 546.0,292.5 547.0,292.6 548.0,292.7 549.0,292.8 550.0,292.8 551.0,292.8 552.0,292.7 553.0,292.7 554.0,292.6 555.0,292.7 556.0,292.8 557.0,293.0 558.0,293.2 559.0,292.4 560.0,290.5 561.0,287.3 562.0,282.6 563.0,276.3 564.0,269.6 565.0,262.3 566.0,255.4 567.0,249.5 568.0,244.5 569.0,240.5 570.0,237.6 571.0,235.0 572.0,232.5 573.0,230.0 574.0,227.4 575.0,224.5 576.0,221.1 577.0,217.3 578.0,213.0 579.0,208.6 580.0,204.5 581.0,200.6 582.0,197.4 583.0,195.1 584.0,193.3 585.0,192.3 586.0,192.0 587.0,192.2 588.0,192.5 589.0,192.5 590.0,192.3 591.0,192.4 592.0,193.0 593.0,194.2 594.0,196.2 595.0,199.1 596.0,202.3 597.0,205.7 598.0,209.2 599.0,212.9 600.0,216.6 601.0,220.5 602.0,224.5 603.0,228.6 604.0,233.0 605.0,238.2 606.0,243.9 607.0,249.9 608.0,256.2 609.0,262.7 610.0,268.6 611.0,273.4 612.0,277.2 613.0,279.9 614.0,281.4 615.0,281.9 616.0,282.1 617.0,282.0 618.0,281.6 619.0,281.0 620.0,280.1 621.0,279.3 622.0,278.6 623.0,278.0 624.0,277.6 625.0,277.3 626.0,277.2 627.0,277.3 628.0,277.7 629.0,278.4 630.0,279.4 631.0,280.5 632.0,281.7 633.0,282.9 634.0,284.1 635.0,285.3 636.0,286.4 637.0,287.4 638.0,288.4 639.0,289.4 640.0,290.2 641.0,291.0 642.0,291.7 643.0,292.3 644.0,292.9 645.0,293.5 646.0,294.0 647.0,294.4 648.0,294.9 649.0,295.2 650.0,295.6 651.0,295.9 652.0,296.2 653.0,296.5 654.0,296.8 655.0,297.0 656.0,297.2 657.0,297.3 658.0,297.3 659.0,297.1 660.0,296.7 661.0,295.9 662.0,294.2 663.0,292.0 664.0,288.7 665.0,284.1 666.0,278.4 667.0,272.0 668.0,264.7 669.0,258.9 670.0,255.1 671.0,253.4 672.0,253.3 673.0,253.8 674.0,253.0 675.0,250.6 676.0,246.7 677.0,241.3 678.0,235.8 679.0,230.2 680.0,224.6 681.0,219.1 682.0,213.9 683.0,208.8 684.0,204.2 685.0,199.8 686.0,196.1 687.0,193.4 688.0,191.5 689.0,190.4 690.0,190.1 691.0,190.2 692.0,190.3 693.0,190.7 694.0,191.5 695.0,192.8 696.0,194.3 697.0,196.8 698.0,200.8 699.0,205.7 700.0,211.6 701.0,218.4 702.0,225.5 703.0,232.4 704.0,238.8 705.0,244.0 706.0,247.4 707.0,250.9 708.0,254.6 709.0,258.6 710.0,263.9 711.0,270.6 712.0,276.5 713.0,281.5 714.0,285.2 715.0,287.4 716.0,288.5 717.0,289.0 718.0,288.8 719.0,288.4 720.0,288.0 721.0,287.6 722.0,287.2 723.0,286.8 724.0,286.4 725.0,285.9 726.0,285.5 727.0,285.1 728.0,284.6 729.0,284.2 730.0,283.8 731.0,283.4 732.0,283.0 733.0,282.6 734.0,282.3 735.0,282.0 736.0,281.8 737.0,281.7 738.0,281.7 739.0,281.6 740.0,281.6 741.0,281.5 742.0,281.6 743.0,281.6 744.0,281.7 745.0,281.8 746.0,281.9 747.0,282.1 748.0,282.3 749.0,282.5 750.0,282.7 751.0,282.9 752.0,283.2 753.0,283.4 754.0,283.7 755.0,284.0 756.0,284.4 757.0,284.8 758.0,285.2 759.0,285.5 760.0,285.7 761.0,285.6 762.0,285.2 763.0,284.5 764.0,283.2 765.0,281.1 766.0,278.3 767.0,274.7 768.0,270.4 769.0,265.5 770.0,260.3 771.0,254.8 772.0,251.6 773.0,249.7 774.0,248.7 775.0,248.7 776.0,249.1 777.0,247.2 778.0,244.3 779.0,240.7 780.0,236.5 781.0,232.3 782.0,228.1 783.0,223.9 784.0,219.6 785.0,215.2 786.0,210.7 787.0,206.6 788.0,203.4 789.0,201.0 790.0,199.5 791.0,198.9 792.0,198.8 793.0,198.9 794.0,199.5 795.0,200.5 796.0,202.0 797.0,203.9 798.0,206.5 799.0,209.4 800.0,212.6 801.0,216.0 802.0,219.7 803.0,223.4 804.0,227.0 805.0,230.9 806.0,235.1 807.0,239.7 808.0,244.3 809.0,249.1 810.0,254.0 811.0,258.8 812.0,263.7 813.0,268.8 814.0,274.0 815.0,279.3 816.0,284.0 817.0,287.5 818.0,290.0 819.0,291.2 820.0,291.3 821.0,290.9 822.0,290.4 823.0,289.8 824.0,288.9 825.0,288.0 826.0,286.8 827.0,285.6 828.0,284.3 829.0,283.1 830.0,281.8 831.0,280.4 832.0,279.0 833.0,277.6 834.0,276.2 835.0,274.7 836.0,273.0 837.0,271.3 838.0,269.4 839.0,267.4 840.0,265.4 841.0,263.5 842.0,261.6 843.0,259.7 844.0,258.0 845.0,256.3 846.0,254.8 847.0,253.5 848.0,252.2 849.0,250.7 850.0,249.1 851.0,247.7 852.0,246.3 853.0,245.0 854.0,244.1 855.0,243.4 856.0,242.6 857.0,241.9 858.0,241.3 859.0,241.1 860.0,241.2 861.0,241.5 862.0,242.0 863.0,242.5 864.0,242.7 865.0,242.6 866.0,242.1 867.0,241.1 868.0,239.7 869.0,238.0 870.0,235.4 871.0,232.3 872.0,228.7 873.0,224.5 874.0,220.0 875.0,215.2 876.0,210.4 877.0,205.2 878.0,199.2 879.0,193.4 880.0,188.8 881.0,184.4 882.0,180.6 883.0,177.7 884.0,174.8 885.0,171.0 886.0,167.3 887.0,163.4 888.0,159.7 889.0,156.6 890.0,154.5 891.0,153.7 892.0,154.6 893.0,156.9 894.0,160.1 895.0,163.7 896.0,167.5 897.0,171.4 898.0,175.1 899.0,178.8 900.0,182.1 901.0,185.1 902.0,187.7 903.0,190.1 904.0,192.3 905.0,194.5 906.0,196.1 907.0,196.8 908.0,196.6 909.0,195.7 910.0,194.2 911.0,193.1 912.0,192.5 913.0,192.3 914.0,192.6 915.0,193.0 916.0,193.7 917.0,194.6 918.0,195.7 919.0,197.1 920.0,198.8 921.0,200.7 922.0,202.8 923.0,205.2 924.0,207.8 925.0,210.5 926.0,213.1 927.0,215.3 928.0,217.3 929.0,219.0 930.0,220.6 931.0,222.0 932.0,223.5 933.0,225.1 934.0,227.1 935.0,229.4 936.0,231.5 937.0,233.4 938.0,235.0 939.0,236.0 940.0,237.4 941.0,239.3 942.0,240.6 943.0,240.8 944.0,241.5 945.0,241.9 946.0,242.3 947.0,243.7 948.0,245.8 949.0,247.1 950.0,248.1 951.0,249.0 952.0,249.8 953.0,250.5 954.0,251.6 955.0,252.6 956.0,253.2 957.0,253.8 958.0,255.3 959.0,256.2 960.0,256.3 961.0,256.2 962.0,256.0 963.0,255.3 964.0,253.8 965.0,253.5 966.0,253.4 967.0,252.5 968.0,251.2 969.0,251.0 970.0,249.7 971.0,246.9 972.0,244.0 973.0,240.7 974.0,236.9 975.0,232.6 976.0,229.0 977.0,225.4 978.0,221.6 979.0,216.4 980.0,211.3 981.0,206.3 982.0,201.1 983.0,195.6 984.0,192.2 985.0,189.6 986.0,187.6 987.0,186.7 988.0,186.8 989.0,186.9 990.0,187.1 991.0,187.4 992.0,187.6 993.0,187.9 994.0,188.1 995.0,188.3 996.0,188.5 997.0,188.7 998.0,189.0 999.0,189.2 1000.0,189.6 1001.0,190.0 1002.0,190.6 1003.0,191.3 1004.0,192.1 1005.0,193.4 1006.0,195.0 1007.0,197.1 1008.0,200.1 1009.0,204.0 1010.0,208.4 1011.0,213.3 1012.0,218.4 1013.0,223.6 1014.0,228.5 1015.0,233.5 1016.0,238.7 1017.0,243.9 1018.0,247.6 1019.0,249.5 1020.0,251.3 1021.0,252.9 1022.0,255.3 1023.0,258.7 1024.0,262.7 1025.0,265.7 1026.0,267.7 1027.0,267.7 1028.0,267.3 1029.0,266.9 1030.0,266.5 1031.0,266.2 1032.0,266.0 1033.0,265.7 1034.0,265.5 1035.0,265.3 1036.0,265.2 1037.0,265.0 1038.0,264.9 1039.0,264.7 1040.0,264.5 1041.0,264.3 1042.0,264.1 1043.0,263.9 1044.0,263.8 1045.0,263.7 1046.0,263.6 1047.0,263.6 1048.0,263.7 1049.0,263.8 1050.0,264.0 1051.0,264.2 1052.0,264.3 1053.0,264.5 1054.0,264.6 1055.0,264.6 1056.0,264.3 1057.0,263.8 1058.0,263.3 1059.0,262.7 1060.0,262.0 1061.0,261.3 1062.0,260.5 1063.0,259.4 1064.0,257.9 1065.0,256.0 1066.0,253.8 1067.0,251.2 1068.0,248.3 1069.0,247.6 1070.0,247.7 1071.0,248.0 1072.0,248.5 1073.0,249.2 1074.0,247.3 1075.0,244.0 1076.0,240.1 1077.0,235.6 1078.0,230.6 1079.0,225.6 1080.0,220.6 1081.0,215.6 1082.0,210.5 1083.0,205.2 1084.0,199.0 1085.0,191.9 1086.0,183.5 1087.0,174.6 1088.0,166.4 1089.0,159.8 1090.0,154.9 1091.0,151.9 1092.0,150.4 1093.0,149.6 1094.0,149.2 1095.0,149.3 1096.0,149.8 1097.0,150.3 1098.0,150.7 1099.0,150.9 1099.0,392.6" fill="#9c7b5c"/>
<polygon points="23.0,392.6 23.0,266.1 24.0,265.5 25.0,264.8 26.0,263.9 27.0,263.0 28.0,262.1 29.0,261.2 30.0,260.4 31.0,259.7 32.0,259.1 33.0,258.6 34.0,258.2 35.0,258.0 36.0,257.8 37.0,257.6 38.0,257.5 39.0,257.4 40.0,257.3 41.0,257.3 42.0,257.3 43.0,257.2 44.0,256.9 45.0,256.3 46.0,255.4 47.0,254.3 48.0,252.9 49.0,251.6 50.0,250.3 51.0,248.9 52.0,247.3 53.0,245.6 54.0,243.7 55.0,241.2 56.0,238.2 57.0,234.7 58.0,230.5 59.0,225.8 60.0,221.0 61.0,216.1 62.0,211.1 63.0,206.0 64.0,200.9 65.0,195.6 66.0,189.5 67.0,182.7 68.0,175.8 69.0,170.0 70.0,165.1 71.0,162.0 72.0,160.6 73.0,160.3 74.0,160.4 75.0,160.7 76.0,161.3 77.0,162.4 78.0,163.7 79.0,165.2 80.0,167.0 81.0,168.9 82.0,170.9 83.0,172.8 84.0,174.8 85.0,176.6 86.0,178.1 87.0,179.4 88.0,180.4 89.0,181.3 90.0,182.1 91.0,183.1 92.0,184.3 93.0,186.1 94.0,188.7 95.0,191.9 96.0,195.8 97.0,200.5 98.0,204.9 99.0,208.8 100.0,212.3 101.0,215.1 102.0,217.4 103.0,219.0 104.0,220.1 105.0,220.6 106.0,220.5 107.0,219.8 108.0,219.1 109.0,218.5 110.0,217.9 111.0,217.3 112.0,216.9 113.0,216.5 114.0,216.3 115.0,216.3 116.0,216.4 117.0,216.6 118.0,217.0 119.0,217.5 120.0,218.0 121.0,218.7 122.0,219.4 123.0,220.2 124.0,221.1 125.0,222.0 126.0,222.9 127.0,224.0 128.0,225.0 129.0,226.1 130.0,227.3 131.0,228.5 132.0,229.7 133.0,230.9 134.0,232.0 135.0,233.1 136.0,234.1 137.0,235.1 138.0,236.0 139.0,236.8 140.0,237.5 141.0,238.1 142.0,238.5 143.0,238.9 144.0,239.2 145.0,239.3 146.0,239.4 147.0,239.4 148.0,239.2 149.0,239.0 150.0,238.6 151.0,238.2 152.0,237.7 153.0,237.1 154.0,236.5 155.0,235.8 156.0,235.0 157.0,234.2 158.0,233.5 159.0,231.9 160.0,229.5 161.0,226.5 162.0,223.0 163.0,218.9 164.0,215.2 165.0,211.5 166.0,207.8 167.0,203.8 168.0,199.3 169.0,194.2 170.0,189.2 171.0,184.5 172.0,180.1 173.0,176.5 174.0,174.0 175.0,172.1 176.0,170.6 177.0,169.6 178.0,169.0 179.0,168.6 180.0,168.4 181.0,168.8 182.0,169.5 183.0,170.4 184.0,171.7 185.0,173.4 186.0,175.2 187.0,177.2 188.0,179.4 189.0,182.2 190.0,185.4 191.0,189.0 192.0,193.6 193.0,198.8 194.0,204.6 195.0,210.7 196.0,217.2 197.0,223.8 198.0,230.6 199.0,236.5 200.0,239.9 201.0,243.0 202.0,245.9 203.0,248.2 204.0,252.0 205.0,260.2 206.0,269.3 207.0,277.4 208.0,284.4 209.0,289.4 210.0,291.0 211.0,290.7 212.0,290.3 213.0,290.0 214.0,289.7 215.0,289.4 216.0,289.1 217.0,288.9 218.0,288.7 219.0,288.6 220.0,288.6 221.0,288.8 222.0,289.2 223.0,289.8 224.0,290.3 225.0,290.9 226.0,291.5 227.0,292.1 228.0,292.6 229.0,293.1 230.0,293.6 231.0,293.9 232.0,294.2 233.0,294.3 234.0,294.4 235.0,294.4 236.0,294.4 237.0,294.4 238.0,294.5 239.0,294.8 240.0,295.2 241.0,295.7 242.0,296.2 243.0,296.8 244.0,297.4 245.0,297.8 246.0,298.2 247.0,298.5 248.0,298.7 249.0,298.9 250.0,299.0 251.0,298.9 252.0,298.6 253.0,298.2 254.0,297.1 255.0,295.5 256.0,292.8 257.0,288.2 258.0,281.8 259.0,274.4 260.0,266.0 261.0,257.8 262.0,250.7 263.0,245.2 264.0,240.8 265.0,237.5 266.0,235.0 267.0,232.9 268.0,230.7 269.0,228.5 270.0,226.4 271.0,224.2 272.0,222.0 273.0,219.9 274.0,217.7 275.0,215.5 276.0,213.4 277.0,211.2 278.0,209.0 279.0,207.4 280.0,206.4 281.0,205.9 282.0,206.2 283.0,207.4 284.0,209.0 285.0,211.0 286.0,213.5 287.0,216.6 288.0,220.0 289.0,223.6 290.0,227.7 291.0,232.2 292.0,236.7 293.0,241.0 294.0,245.0 295.0,248.5 296.0,251.5 297.0,254.4 298.0,257.8 299.0,261.6 300.0,265.9 301.0,271.0 302.0,276.9 303.0,283.3 304.0,290.1 305.0,295.4 306.0,298.9 307.0,300.5 308.0,300.0 309.0,297.6 310.0,295.2 311.0,292.6 312.0,290.1 313.0,287.6 314.0,285.3 315.0,283.4 316.0,281.7 317.0,280.3 318.0,279.2 319.0,278.2 320.0,277.4 321.0,276.7 322.0,276.3 323.0,276.0 324.0,275.6 325.0,275.3 326.0,275.0 327.0,274.7 328.0,274.5 329.0,274.3 330.0,274.2 331.0,274.0 332.0,273.9 333.0,273.8 334.0,273.7 335.0,273.6 336.0,273.7 337.0,273.8 338.0,274.1 339.0,274.4 340.0,274.6 341.0,274.9 342.0,275.2 343.0,275.5 344.0,275.8 345.0,276.1 346.0,276.5 347.0,276.8 348.0,277.1 349.0,277.4 350.0,277.7 351.0,278.1 352.0,278.3 353.0,278.6 354.0,278.9 355.0,279.0 356.0,278.8 357.0,278.1 358.0,277.0 359.0,275.5 360.0,273.6 361.0,271.3 362.0,268.6 363.0,265.5 364.0,262.0 365.0,258.4 366.0,254.8 367.0,251.4 368.0,247.7 369.0,243.7 370.0,239.4 371.0,234.8 372.0,230.0 373.0,225.8 374.0,222.3 375.0,219.3 376.0,216.9 377.0,215.4 378.0,214.3 379.0,213.5 380.0,213.1 381.0,213.1 382.0,213.1 383.0,213.4 384.0,213.8 385.0,214.3 386.0,215.2 387.0,216.8 388.0,219.2 389.0,222.3 390.0,225.7 391.0,228.9 392.0,231.4 393.0,233.3 394.0,237.9 395.0,242.1 396.0,246.5 397.0,252.9 398.0,261.1 399.0,267.4 400.0,275.2 401.0,284.6 402.0,293.4 403.0,300.2 404.0,305.5 405.0,309.4 406.0,311.5 407.0,312.1 408.0,312.7 409.0,313.3 410.0,314.0 411.0,314.6 412.0,315.2 413.0,315.9 414.0,316.5 415.0,317.1 416.0,317.8 417.0,318.4 418.0,319.0 419.0,319.5 420.0,319.7 421.0,319.8 422.0,319.6 423.0,319.3 424.0,319.0 425.0,318.7 426.0,318.3 427.0,318.0 428.0,317.7 429.0,317.3 430.0,317.0 431.0,316.7 432.0,316.4 433.0,316.0 434.0,315.7 435.0,315.3 436.0,314.9 437.0,314.6 438.0,314.2 439.0,313.8 440.0,313.4 441.0,313.1 442.0,312.7 443.0,312.3 444.0,312.0 445.0,311.7 446.0,311.4 447.0,311.1 448.0,310.8 449.0,310.5 450.0,310.2 451.0,309.9 452.0,309.6 453.0,309.3 454.0,309.0 455.0,308.7 456.0,308.4 457.0,308.2 458.0,307.7 459.0,306.6 460.0,304.9 461.0,302.7 462.0,299.6 463.0,295.8 464.0,291.6 465.0,287.0 466.0,281.3 467.0,274.6 468.0,267.5 469.0,260.1 470.0,252.5 471.0,245.2 472.0,238.7 473.0,232.8 474.0,227.4 475.0,222.4 476.0,218.4 477.0,214.7 478.0,211.1 479.0,207.8 480.0,204.9 481.0,202.4 482.0,200.3 483.0,198.8 484.0,197.6 485.0,196.7 486.0,196.4 487.0,196.4 488.0,196.7 489.0,197.5 490.0,198.8 491.0,200.4 492.0,202.2 493.0,204.6 494.0,207.4 495.0,210.5 496.0,213.9 497.0,217.8 498.0,221.9 499.0,226.2 500.0,230.8 501.0,235.5 502.0,240.2 503.0,245.4 504.0,251.0 505.0,257.2 506.0,263.8 507.0,270.8 508.0,277.5 509.0,283.4 510.0,288.1 511.0,291.7 512.0,294.8 513.0,296.7 514.0,298.0 515.0,299.1 516.0,299.9 517.0,300.1 518.0,300.3 519.0,300.4 520.0,300.5 521.0,300.5 522.0,300.5 523.0,300.6 524.0,300.6 525.0,300.7 526.0,300.9 527.0,301.1 528.0,301.4 529.0,302.0 530.0,302.8 531.0,303.7 532.0,304.7 533.0,305.8 534.0,306.8 535.0,307.7 536.0,308.5 537.0,309.0 538.0,309.3 539.0,309.4 540.0,309.3 541.0,309.2 542.0,309.3 543.0,309.6 544.0,310.0 545.0,310.5 546.0,311.0 547.0,311.5 548.0,312.0 549.0,312.5 550.0,313.0 551.0,313.5 552.0,314.0 553.0,314.5 554.0,315.0 555.0,315.5 556.0,316.0 557.0,316.5 558.0,317.0 559.0,317.1 560.0,316.8 561.0,316.2 562.0,315.1 563.0,313.7 564.0,312.6 565.0,312.2 566.0,308.3 567.0,304.0 568.0,298.8 569.0,292.2 570.0,283.8 571.0,278.1 572.0,271.8 573.0,265.4 574.0,258.9 575.0,252.1 576.0,246.7 577.0,242.1 578.0,236.8 579.0,231.2 580.0,226.5 581.0,221.4 582.0,216.2 583.0,212.5 584.0,210.9 585.0,209.7 586.0,209.0 587.0,209.0 588.0,209.6 589.0,210.4 590.0,211.5 591.0,213.2 592.0,215.3 593.0,217.8 594.0,220.9 595.0,225.8 596.0,230.2 597.0,234.8 598.0,239.7 599.0,244.9 600.0,248.8 601.0,253.6 602.0,258.6 603.0,263.5 604.0,268.3 605.0,273.2 606.0,278.2 607.0,283.2 608.0,288.3 609.0,293.6 610.0,298.9 611.0,302.8 612.0,305.5 613.0,307.3 614.0,308.0 615.0,307.9 616.0,308.0 617.0,308.3 618.0,308.1 619.0,307.7 620.0,306.9 621.0,306.3 622.0,305.8 623.0,305.4 624.0,305.2 625.0,305.1 626.0,305.1 627.0,305.2 628.0,305.4 629.0,305.8 630.0,306.1 631.0,306.4 632.0,306.5 633.0,306.6 634.0,307.1 635.0,307.7 636.0,308.4 637.0,309.0 638.0,309.5 639.0,309.7 640.0,309.6 641.0,309.4 642.0,309.3 643.0,309.1 644.0,309.0 645.0,308.9 646.0,308.9 647.0,308.9 648.0,309.1 649.0,309.2 650.0,309.4 651.0,309.6 652.0,309.8 653.0,310.0 654.0,310.2 655.0,310.4 656.0,310.6 657.0,310.4 658.0,309.9 659.0,309.0 660.0,307.7 661.0,306.0 662.0,304.3 663.0,302.6 664.0,302.8 665.0,302.5 666.0,300.6 667.0,297.4 668.0,293.1 669.0,285.8 670.0,277.7 671.0,270.1 672.0,262.6 673.0,255.0 674.0,253.0 675.0,250.6 676.0,246.7 677.0,243.3 678.0,242.0 679.0,238.8 680.0,234.0 681.0,229.3 682.0,224.8 683.0,220.2 684.0,216.3 685.0,213.0 686.0,210.5 687.0,208.9 688.0,208.3 689.0,207.9 690.0,207.8 691.0,208.1 692.0,208.8 693.0,209.7 694.0,210.8 695.0,212.1 696.0,213.7 697.0,215.3 698.0,217.1 699.0,219.8 700.0,223.3 701.0,228.2 702.0,233.9 703.0,237.8 704.0,241.6 705.0,245.1 706.0,247.8 707.0,250.9 708.0,255.2 709.0,260.2 710.0,265.1 711.0,270.6 712.0,276.5 713.0,281.5 714.0,285.2 715.0,290.4 716.0,296.0 717.0,301.0 718.0,304.8 719.0,307.4 720.0,308.5 721.0,308.1 722.0,307.1 723.0,306.1 724.0,305.1 725.0,304.3 726.0,303.6 727.0,302.9 728.0,302.3 729.0,301.7 730.0,301.2 731.0,300.8 732.0,300.5 733.0,300.2 734.0,300.0 735.0,299.8 736.0,299.6 737.0,299.5 738.0,299.4 739.0,299.4 740.0,299.4 741.0,299.4 742.0,299.4 743.0,299.4 744.0,299.4 745.0,299.4 746.0,299.4 747.0,299.4 748.0,299.4 749.0,299.6 750.0,299.7 751.0,300.0 752.0,300.4 753.0,300.8 754.0,301.1 755.0,301.5 756.0,301.8 757.0,302.1 758.0,302.3 759.0,302.5 760.0,302.6 761.0,302.1 762.0,301.0 763.0,299.4 764.0,297.1 765.0,294.8 766.0,294.7 767.0,296.8 768.0,295.4 769.0,293.3 770.0,293.2 771.0,287.9 772.0,277.6 773.0,273.9 774.0,269.7 775.0,259.9 776.0,254.6 777.0,253.7 778.0,251.2 779.0,250.1 780.0,251.3 781.0,250.4 782.0,247.4 783.0,243.8 784.0,239.9 785.0,235.8 786.0,231.5 787.0,228.0 788.0,223.8 789.0,220.2 790.0,218.1 791.0,217.4 792.0,217.0 793.0,217.1 794.0,217.8 795.0,219.2 796.0,221.0 797.0,223.2 798.0,226.0 799.0,229.1 800.0,232.4 801.0,236.0 802.0,239.8 803.0,242.9 804.0,244.1 805.0,244.8 806.0,245.7 807.0,246.7 808.0,248.9 809.0,253.1 810.0,258.1 811.0,263.1 812.0,268.3 813.0,274.8 814.0,282.3 815.0,289.5 816.0,294.6 817.0,299.6 818.0,303.5 819.0,305.3 820.0,306.2 821.0,307.7 822.0,307.6 823.0,305.9 824.0,303.8 825.0,302.2 826.0,301.2 827.0,300.6 828.0,299.9 829.0,299.1 830.0,297.6 831.0,295.4 832.0,293.3 833.0,292.0 834.0,291.3 835.0,290.5 836.0,289.5 837.0,287.7 838.0,285.1 839.0,281.9 840.0,279.0 841.0,276.2 842.0,273.7 843.0,271.3 844.0,269.0 845.0,266.6 846.0,264.5 847.0,262.8 848.0,261.4 849.0,260.5 850.0,259.9 851.0,259.5 852.0,259.0 853.0,258.6 854.0,258.2 855.0,257.8 856.0,257.4 857.0,257.1 858.0,256.8 859.0,256.5 860.0,256.2 861.0,255.9 862.0,255.6 863.0,255.2 864.0,254.4 865.0,253.3 866.0,251.8 867.0,250.0 868.0,247.8 869.0,245.2 870.0,242.2 871.0,238.8 872.0,235.0 873.0,230.6 874.0,226.1 875.0,221.4 876.0,216.4 877.0,211.4 878.0,206.4 879.0,201.4 880.0,196.4 881.0,191.4 882.0,186.9 883.0,183.1 884.0,179.9 885.0,177.4 886.0,175.5 887.0,173.6 888.0,171.5 889.0,169.4 890.0,168.0 891.0,167.4 892.0,168.1 893.0,170.2 894.0,173.4 895.0,176.9 896.0,180.7 897.0,184.3 898.0,187.7 899.0,190.9 900.0,193.9 901.0,196.8 902.0,199.6 903.0,202.4 904.0,205.1 905.0,208.0 906.0,211.0 907.0,214.4 908.0,217.4 909.0,219.9 910.0,221.9 911.0,223.3 912.0,223.9 913.0,224.6 914.0,225.4 915.0,226.2 916.0,227.1 917.0,228.0 918.0,229.0 919.0,229.9 920.0,230.9 921.0,231.8 922.0,232.7 923.0,233.7 924.0,234.6 925.0,235.6 926.0,236.5 927.0,237.5 928.0,238.5 929.0,239.5 930.0,240.6 931.0,241.7 932.0,242.8 933.0,243.8 934.0,244.9 935.0,245.9 936.0,246.9 937.0,247.9 938.0,248.8 939.0,249.8 940.0,250.7 941.0,251.7 942.0,252.6 943.0,253.4 944.0,254.3 945.0,255.1 946.0,255.8 947.0,256.6 948.0,257.4 949.0,258.2 950.0,259.0 951.0,259.8 952.0,260.6 953.0,261.4 954.0,262.3 955.0,263.1 956.0,263.9 957.0,264.8 958.0,266.2 959.0,267.4 960.0,268.6 961.0,269.8 962.0,270.7 963.0,271.2 964.0,271.4 965.0,271.6 966.0,271.9 967.0,272.1 968.0,271.8 969.0,271.3 970.0,270.0 971.0,268.2 972.0,265.9 973.0,263.3 974.0,259.7 975.0,256.6 976.0,253.1 977.0,248.1 978.0,243.2 979.0,239.0 980.0,233.4 981.0,227.1 982.0,221.9 983.0,217.1 984.0,212.7 985.0,209.5 986.0,207.9 987.0,207.2 988.0,206.9 989.0,206.9 990.0,207.3 991.0,207.7 992.0,207.8 993.0,207.7 994.0,207.5 995.0,207.0 996.0,206.6 997.0,206.4 998.0,206.2 999.0,206.2 1000.0,206.3 1001.0,206.4 1002.0,206.7 1003.0,207.3 1004.0,208.1 1005.0,209.3 1006.0,211.1 1007.0,213.4 1008.0,216.2 1009.0,220.0 1010.0,224.5 1011.0,229.7 1012.0,235.3 1013.0,240.3 1014.0,243.6 1015.0,245.2 1016.0,245.0 1017.0,244.1 1018.0,247.6 1019.0,249.5 1020.0,251.3 1021.0,252.9 1022.0,256.0 1023.0,261.9 1024.0,268.7 1025.0,275.8 1026.0,281.6 1027.0,286.0 1028.0,288.8 1029.0,289.8 1030.0,289.5 1031.0,288.9 1032.0,288.0 1033.0,287.0 1034.0,286.1 1035.0,285.3 1036.0,284.4 1037.0,283.7 1038.0,282.9 1039.0,282.2 1040.0,281.4 1041.0,280.6 1042.0,279.9 1043.0,279.2 1044.0,278.7 1045.0,278.2 1046.0,277.8 1047.0,277.6 1048.0,277.4 1049.0,277.4 1050.0,277.4 1051.0,277.5 1052.0,277.7 1053.0,277.9 1054.0,278.0 1055.0,278.2 1056.0,278.2 1057.0,278.3 1058.0,278.3 1059.0,278.3 1060.0,278.3 1061.0,278.4 1062.0,278.4 1063.0,278.5 1064.0,278.7 1065.0,278.7 1066.0,278.6 1067.0,278.3 1068.0,277.6 1069.0,276.1 1070.0,274.0 1071.0,271.0 1072.0,267.0 1073.0,262.3 1074.0,256.7 1075.0,252.7 1076.0,249.7 1077.0,246.7 1078.0,244.0 1079.0,241.8 1080.0,237.6 1081.0,232.3 1082.0,226.8 1083.0,220.6 1084.0,213.9 1085.0,207.3 1086.0,200.9 1087.0,194.4 1088.0,187.4 1089.0,180.5 1090.0,174.4 1091.0,169.2 1092.0,165.3 1093.0,163.3 1094.0,162.7 1095.0,162.5 1096.0,162.5 1097.0,162.6 1098.0,162.9 1099.0,163.1 1099.0,392.6" fill="#8f4a49"/>
<polygon points="23.0,392.6 23.0,296.4 24.0,295.3 25.0,293.6 26.0,291.9 27.0,290.2 28.0,288.9 29.0,287.9 30.0,286.9 31.0,285.9 32.0,284.9 33.0,284.4 34.0,284.1 35.0,283.9 36.0,283.6 37.0,283.4 38.0,283.1 39.0,282.9 40.0,282.6 41.0,282.2 42.0,281.8 43.0,281.5 44.0,281.1 45.0,280.7 46.0,280.5 47.0,280.2 48.0,280.0 49.0,278.6 50.0,275.8 51.0,273.0 52.0,270.3 53.0,266.8 54.0,263.1 55.0,259.4 56.0,255.6 57.0,251.0 58.0,246.4 59.0,242.1 60.0,237.9 61.0,233.7 62.0,229.5 63.0,223.0 64.0,216.4 65.0,209.9 66.0,203.6 67.0,198.3 68.0,192.9 69.0,187.6 70.0,184.0 71.0,182.1 72.0,180.2 73.0,178.4 74.0,178.0 75.0,178.0 76.0,178.0 77.0,178.6 78.0,179.2 79.0,179.8 80.0,182.0 81.0,185.4 82.0,188.7 83.0,192.1 84.0,194.5 85.0,196.8 86.0,199.1 87.0,201.4 88.0,203.4 89.0,205.4 90.0,207.4 91.0,209.9 92.0,212.9 93.0,216.0 94.0,219.0 95.0,223.5 96.0,228.5 97.0,233.2 98.0,237.4 99.0,241.6 100.0,245.1 101.0,248.6 102.0,252.0 103.0,255.7 104.0,259.3 105.0,263.0 106.0,261.3 107.0,257.3 108.0,253.9 109.0,250.6 110.0,247.2 111.0,245.3 112.0,243.9 113.0,242.6 114.0,241.2 115.0,241.2 116.0,241.2 117.0,241.2 118.0,241.5 119.0,242.5 120.0,243.5 121.0,244.5 122.0,245.5 123.0,246.5 124.0,247.5 125.0,248.5 126.0,249.5 127.0,250.5 128.0,251.5 129.0,252.5 130.0,253.5 131.0,254.5 132.0,255.7 133.0,257.0 134.0,258.2 135.0,259.5 136.0,260.7 137.0,261.8 138.0,262.8 139.0,263.8 140.0,264.8 141.0,265.6 142.0,266.2 143.0,266.5 144.0,266.8 145.0,267.1 146.0,267.4 147.0,267.6 148.0,267.6 149.0,267.5 150.0,267.4 151.0,267.2 152.0,268.0 153.0,263.5 154.0,261.5 155.0,259.4 156.0,257.4 157.0,255.4 158.0,252.7 159.0,249.7 160.0,246.7 161.0,243.7 162.0,240.9 163.0,236.2 164.0,230.8 165.0,225.8 166.0,221.9 167.0,217.9 168.0,213.9 169.0,210.0 170.0,206.7 171.0,205.2 172.0,203.7 173.0,202.2 174.0,200.7 175.0,199.5 176.0,198.9 177.0,198.2 178.0,197.5 179.0,197.3 180.0,197.3 181.0,197.3 182.0,197.3 183.0,197.3 184.0,198.0 185.0,199.0 186.0,200.0 187.0,201.0 188.0,205.0 189.0,208.9 190.0,214.0 191.0,220.2 192.0,226.3 193.0,231.8 194.0,237.2 195.0,242.0 196.0,246.7 197.0,252.4 198.0,258.0 199.0,265.3 200.0,272.7 201.0,280.1 202.0,287.5 203.0,295.0 204.0,306.4 205.0,315.5 206.0,323.4 207.0,326.4 208.0,325.8 209.0,324.8 210.0,323.8 211.0,323.0 212.0,322.1 213.0,321.3 214.0,320.5 215.0,319.7 216.0,318.8 217.0,318.0 218.0,318.3 219.0,318.7 220.0,319.0 221.0,319.3 222.0,319.6 223.0,320.0 224.0,320.3 225.0,321.0 226.0,321.6 227.0,322.3 228.0,323.0 229.0,323.7 230.0,324.3 231.0,324.9 232.0,325.5 233.0,326.0 234.0,326.5 235.0,327.0 236.0,327.5 237.0,328.0 238.0,328.5 239.0,329.0 240.0,329.5 241.0,329.9 242.0,330.3 243.0,330.7 244.0,331.1 245.0,331.4 246.0,331.8 247.0,332.2 248.0,332.6 249.0,332.9 250.0,333.4 251.0,334.1 252.0,334.7 253.0,335.4 254.0,336.0 255.0,332.0 256.0,328.6 257.0,325.3 258.0,322.0 259.0,319.3 260.0,316.5 261.0,313.8 262.0,311.1 263.0,306.6 264.0,300.8 265.0,295.0 266.0,287.5 267.0,280.1 268.0,274.1 269.0,269.1 270.0,264.1 271.0,259.1 272.0,255.5 273.0,252.1 274.0,248.2 275.0,243.8 276.0,239.4 277.0,238.2 278.0,236.9 279.0,235.7 280.0,234.4 281.0,235.1 282.0,235.8 283.0,236.4 284.0,237.5 285.0,239.5 286.0,241.5 287.0,243.5 288.0,245.7 289.0,247.9 290.0,250.3 291.0,253.8 292.0,257.2 293.0,260.9 294.0,264.6 295.0,268.4 296.0,272.2 297.0,276.0 298.0,280.6 299.0,285.6 300.0,290.7 301.0,295.7 302.0,303.2 303.0,310.6 304.0,316.3 305.0,322.1 306.0,327.3 307.0,332.0 308.0,336.7 309.0,336.0 310.0,332.9 311.0,330.4 312.0,328.0 313.0,325.7 314.0,323.4 315.0,321.1 316.0,318.7 317.0,316.4 318.0,315.2 319.0,314.4 320.0,313.7 321.0,312.9 322.0,312.2 323.0,311.5 324.0,310.7 325.0,310.0 326.0,309.2 327.0,308.6 328.0,308.2 329.0,307.8 330.0,307.4 331.0,307.0 332.0,306.6 333.0,306.1 334.0,305.7 335.0,305.3 336.0,304.9 337.0,304.5 338.0,304.1 339.0,304.2 340.0,304.6 341.0,304.9 342.0,305.2 343.0,305.5 344.0,305.9 345.0,306.2 346.0,306.5 347.0,306.9 348.0,307.2 349.0,307.6 350.0,307.9 351.0,308.3 352.0,308.6 353.0,310.1 354.0,312.1 355.0,314.0 356.0,316.0 357.0,318.0 358.0,321.0 359.0,324.0 360.0,326.9 361.0,329.9 362.0,320.0 363.0,315.2 364.0,310.5 365.0,299.3 366.0,290.5 367.0,283.1 368.0,276.1 369.0,271.1 370.0,266.1 371.0,261.1 372.0,257.4 373.0,254.9 374.0,252.5 375.0,250.0 376.0,247.9 377.0,245.8 378.0,244.1 379.0,243.3 380.0,242.6 381.0,241.8 382.0,241.1 383.0,240.9 384.0,241.6 385.0,242.4 386.0,243.1 387.0,243.9 388.0,245.2 389.0,247.5 390.0,249.8 391.0,254.5 392.0,260.0 393.0,265.7 394.0,271.4 395.0,277.1 396.0,283.1 397.0,289.1 398.0,295.1 399.0,302.5 400.0,310.0 401.0,314.1 402.0,318.1 403.0,322.2 404.0,326.3 405.0,330.6 406.0,335.0 407.0,339.3 408.0,343.6 409.0,347.9 410.0,352.3 411.0,357.5 412.0,357.0 413.0,356.5 414.0,356.0 415.0,355.5 416.0,355.0 417.0,354.5 418.0,354.0 419.0,353.5 420.0,353.0 421.0,352.5 422.0,352.0 423.0,351.5 424.0,351.0 425.0,350.5 426.0,350.0 427.0,349.5 428.0,349.0 429.0,348.5 430.0,348.1 431.0,347.9 432.0,347.6 433.0,347.4 434.0,347.1 435.0,346.9 436.0,346.6 437.0,346.4 438.0,346.1 439.0,345.9 440.0,345.6 441.0,345.4 442.0,345.1 443.0,344.9 444.0,344.6 445.0,344.3 446.0,344.0 447.0,343.7 448.0,343.4 449.0,343.1 450.0,342.8 451.0,342.5 452.0,342.2 453.0,341.9 454.0,341.6 455.0,341.3 456.0,341.8 457.0,342.3 458.0,338.1 459.0,333.6 460.0,329.1 461.0,324.5 462.0,320.0 463.0,317.4 464.0,314.7 465.0,312.1 466.0,308.8 467.0,302.9 468.0,296.9 469.0,290.9 470.0,284.9 471.0,278.9 472.0,272.9 473.0,267.0 474.0,261.0 475.0,254.6 476.0,248.8 477.0,245.0 478.0,241.1 479.0,237.2 480.0,234.3 481.0,231.9 482.0,229.6 483.0,227.2 484.0,226.1 485.0,225.1 486.0,224.1 487.0,223.6 488.0,224.9 489.0,226.2 490.0,227.5 491.0,229.5 492.0,232.2 493.0,234.9 494.0,237.6 495.0,240.7 496.0,243.9 497.0,247.1 498.0,250.7 499.0,257.9 500.0,264.0 501.0,269.9 502.0,275.9 503.0,281.9 504.0,287.9 505.0,293.9 506.0,298.4 507.0,302.3 508.0,306.1 509.0,310.0 510.0,315.0 511.0,320.0 512.0,324.7 513.0,329.4 514.0,330.8 515.0,330.8 516.0,330.8 517.0,330.8 518.0,330.8 519.0,330.9 520.0,331.1 521.0,331.2 522.0,331.3 523.0,331.4 524.0,331.6 525.0,331.7 526.0,331.8 527.0,332.0 528.0,332.4 529.0,332.9 530.0,333.4 531.0,333.9 532.0,334.4 533.0,334.8 534.0,335.3 535.0,335.8 536.0,336.3 537.0,336.9 538.0,337.5 539.0,338.1 540.0,338.7 541.0,339.3 542.0,339.9 543.0,340.5 544.0,341.1 545.0,341.7 546.0,342.3 547.0,342.9 548.0,343.5 549.0,344.2 550.0,344.9 551.0,345.6 552.0,346.3 553.0,347.0 554.0,347.6 555.0,348.3 556.0,349.0 557.0,349.7 558.0,350.4 559.0,351.1 560.0,351.8 561.0,352.4 562.0,352.4 563.0,344.8 564.0,339.9 565.0,334.9 566.0,330.0 567.0,324.9 568.0,319.7 569.0,314.6 570.0,308.8 571.0,296.9 572.0,291.2 573.0,286.1 574.0,281.1 575.0,276.4 576.0,272.7 577.0,269.0 578.0,265.3 579.0,261.6 580.0,257.2 581.0,250.0 582.0,245.6 583.0,243.6 584.0,242.6 585.0,241.6 586.0,240.6 587.0,240.9 588.0,241.2 589.0,241.6 590.0,242.2 591.0,243.6 592.0,244.9 593.0,246.3 594.0,247.8 595.0,249.5 596.0,252.1 597.0,263.0 598.0,273.8 599.0,280.6 600.0,285.6 601.0,290.7 602.0,295.7 603.0,301.4 604.0,307.1 605.0,311.4 606.0,314.1 607.0,316.8 608.0,319.5 609.0,322.3 610.0,325.0 611.0,327.3 612.0,329.7 613.0,332.0 614.0,334.3 615.0,336.7 616.0,339.0 617.0,344.3 618.0,343.8 619.0,343.2 620.0,342.5 621.0,341.8 622.0,341.0 623.0,340.3 624.0,339.6 625.0,338.9 626.0,338.2 627.0,337.9 628.0,338.2 629.0,338.5 630.0,338.8 631.0,339.1 632.0,339.4 633.0,339.7 634.0,340.0 635.0,340.3 636.0,340.8 637.0,341.3 638.0,341.8 639.0,342.3 640.0,342.8 641.0,343.3 642.0,343.8 643.0,344.3 644.0,344.7 645.0,345.1 646.0,345.5 647.0,345.8 648.0,346.1 649.0,346.5 650.0,346.8 651.0,347.1 652.0,347.5 653.0,347.8 654.0,348.1 655.0,348.4 656.0,348.6 657.0,348.9 658.0,349.2 659.0,349.5 660.0,349.7 661.0,350.0 662.0,350.3 663.0,347.0 664.0,342.6 665.0,338.2 666.0,333.8 667.0,329.4 668.0,325.0 669.0,320.5 670.0,315.9 671.0,311.4 672.0,301.7 673.0,292.0 674.0,284.5 675.0,277.1 676.0,272.1 677.0,267.1 678.0,262.1 679.0,257.8 680.0,255.0 681.0,252.2 682.0,249.4 683.0,246.4 684.0,243.8 685.0,242.1 686.0,240.4 687.0,238.8 688.0,238.1 689.0,238.1 690.0,238.1 691.0,238.1 692.0,239.6 693.0,241.3 694.0,243.0 695.0,244.8 696.0,247.0 697.0,249.3 698.0,253.2 699.0,257.7 700.0,262.3 701.0,269.4 702.0,276.5 703.0,283.3 704.0,289.8 705.0,296.3 706.0,302.0 707.0,307.7 708.0,312.0 709.0,315.2 710.0,318.5 711.0,321.7 712.0,325.0 713.0,329.2 714.0,333.5 715.0,337.8 716.0,342.0 717.0,345.0 718.0,347.9 719.0,350.9 720.0,349.7 721.0,348.6 722.0,347.5 723.0,346.3 724.0,344.9 725.0,343.5 726.0,342.0 727.0,340.5 728.0,339.0 729.0,337.5 730.0,336.0 731.0,334.5 732.0,333.0 733.0,331.8 734.0,331.2 735.0,330.6 736.0,329.9 737.0,329.3 738.0,328.7 739.0,328.1 740.0,327.4 741.0,326.8 742.0,326.2 743.0,326.2 744.0,326.2 745.0,326.2 746.0,326.2 747.0,326.2 748.0,326.2 749.0,326.2 750.0,326.2 751.0,326.2 752.0,326.5 753.0,326.8 754.0,327.2 755.0,327.6 756.0,327.9 757.0,328.3 758.0,328.7 759.0,329.1 760.0,329.4 761.0,330.0 762.0,329.3 763.0,327.5 764.0,325.7 765.0,323.8 766.0,322.0 767.0,319.9 768.0,317.8 769.0,315.7 770.0,313.6 771.0,311.5 772.0,308.8 773.0,305.0 774.0,301.1 775.0,297.2 776.0,293.5 777.0,289.7 778.0,286.0 779.0,282.3 780.0,278.6 781.0,274.8 782.0,271.1 783.0,267.3 784.0,263.5 785.0,259.7 786.0,254.0 787.0,248.6 788.0,245.2 789.0,241.8 790.0,240.6 791.0,239.4 792.0,238.2 793.0,238.8 794.0,239.6 795.0,240.4 796.0,242.0 797.0,243.7 798.0,245.4 799.0,247.3 800.0,250.4 801.0,253.6 802.0,256.7 803.0,260.5 804.0,265.4 805.0,270.3 806.0,275.2 807.0,280.1 808.0,285.1 809.0,290.2 810.0,295.2 811.0,306.4 812.0,312.8 813.0,316.9 814.0,320.9 815.0,325.0 816.0,327.9 817.0,330.9 818.0,333.8 819.0,336.2 820.0,335.4 821.0,334.4 822.0,333.2 823.0,331.8 824.0,330.3 825.0,328.8 826.0,327.3 827.0,325.8 828.0,324.3 829.0,322.8 830.0,321.3 831.0,319.5 832.0,317.6 833.0,315.5 834.0,313.5 835.0,311.4 836.0,309.3 837.0,307.3 838.0,305.2 839.0,303.1 840.0,301.0 841.0,298.7 842.0,296.3 843.0,294.0 844.0,291.6 845.0,289.3 846.0,287.8 847.0,286.3 848.0,284.8 849.0,283.3 850.0,281.9 851.0,280.8 852.0,279.7 853.0,278.6 854.0,277.5 855.0,276.4 856.0,275.3 857.0,275.5 858.0,275.9 859.0,276.3 860.0,276.7 861.0,277.0 862.0,277.1 863.0,277.1 864.0,277.1 865.0,273.3 866.0,269.0 867.0,264.7 868.0,260.3 869.0,256.9 870.0,254.1 871.0,251.3 872.0,248.6 873.0,246.7 874.0,245.0 875.0,242.4 876.0,238.5 877.0,234.6 878.0,230.7 879.0,226.0 880.0,221.0 881.0,215.9 882.0,210.9 883.0,206.7 884.0,202.4 885.0,198.2 886.0,194.3 887.0,191.6 888.0,188.9 889.0,186.2 890.0,184.4 891.0,184.4 892.0,186.9 893.0,189.4 894.0,192.6 895.0,195.9 896.0,199.3 897.0,202.6 898.0,205.2 899.0,207.9 900.0,210.6 901.0,213.0 902.0,215.0 903.0,217.0 904.0,219.0 905.0,222.4 906.0,226.3 907.0,229.1 908.0,227.1 909.0,225.1 910.0,225.9 911.0,227.9 912.0,230.0 913.0,232.0 914.0,234.0 915.0,236.2 916.0,238.5 917.0,240.7 918.0,243.0 919.0,245.3 920.0,247.1 921.0,247.7 922.0,248.2 923.0,248.9 924.0,250.5 925.0,252.2 926.0,253.8 927.0,255.6 928.0,257.6 929.0,259.7 930.0,261.5 931.0,263.2 932.0,264.6 933.0,265.9 934.0,267.0 935.0,268.0 936.0,268.7 937.0,269.5 938.0,270.2 939.0,271.1 940.0,272.8 941.0,274.6 942.0,276.3 943.0,278.0 944.0,279.7 945.0,281.3 946.0,282.8 947.0,284.3 948.0,285.8 949.0,287.1 950.0,288.2 951.0,289.2 952.0,290.1 953.0,291.1 954.0,292.0 955.0,292.8 956.0,293.6 957.0,294.4 958.0,295.1 959.0,295.8 960.0,296.3 961.0,296.8 962.0,297.3 963.0,297.8 964.0,298.3 965.0,299.0 966.0,299.7 967.0,300.3 968.0,301.9 969.0,298.6 970.0,296.0 971.0,293.5 972.0,289.3 973.0,284.9 974.0,280.6 975.0,275.6 976.0,268.2 977.0,260.8 978.0,255.9 979.0,252.0 980.0,248.7 981.0,246.2 982.0,243.7 983.0,240.9 984.0,237.8 985.0,235.5 986.0,234.8 987.0,234.1 988.0,233.5 989.0,233.6 990.0,234.2 991.0,234.8 992.0,235.4 993.0,236.1 994.0,235.8 995.0,235.0 996.0,234.1 997.0,233.3 998.0,233.0 999.0,232.7 1000.0,232.4 1001.0,232.2 1002.0,231.9 1003.0,232.9 1004.0,233.9 1005.0,234.9 1006.0,235.9 1007.0,236.9 1008.0,238.9 1009.0,240.9 1010.0,242.9 1011.0,245.2 1012.0,248.2 1013.0,251.9 1014.0,256.7 1015.0,261.6 1016.0,266.6 1017.0,271.6 1018.0,276.6 1019.0,283.8 1020.0,291.2 1021.0,300.5 1022.0,310.9 1023.0,315.5 1024.0,317.8 1025.0,318.5 1026.0,319.3 1027.0,318.4 1028.0,315.8 1029.0,311.4 1030.0,310.5 1031.0,311.2 1032.0,311.9 1033.0,312.6 1034.0,312.2 1035.0,310.7 1036.0,308.4 1037.0,306.8 1038.0,307.0 1039.0,307.1 1040.0,307.3 1041.0,307.3 1042.0,307.1 1043.0,306.6 1044.0,306.0 1045.0,305.3 1046.0,304.7 1047.0,304.3 1048.0,304.5 1049.0,304.6 1050.0,304.7 1051.0,304.9 1052.0,305.1 1053.0,305.3 1054.0,305.4 1055.0,305.5 1056.0,305.6 1057.0,305.6 1058.0,305.8 1059.0,306.1 1060.0,306.4 1061.0,306.6 1062.0,306.5 1063.0,306.3 1064.0,305.9 1065.0,305.6 1066.0,305.6 1067.0,305.5 1068.0,305.3 1069.0,305.1 1070.0,304.8 1071.0,304.5 1072.0,301.0 1073.0,298.1 1074.0,294.2 1075.0,286.8 1076.0,279.3 1077.0,271.7 1078.0,264.0 1079.0,256.6 1080.0,250.0 1081.0,241.7 1082.0,233.0 1083.0,226.5 1084.0,221.5 1085.0,216.4 1086.0,211.4 1087.0,207.7 1088.0,204.1 1089.0,200.5 1090.0,197.1 1091.0,195.5 1092.0,193.8 1093.0,192.1 1094.0,191.0 1095.0,190.6 1096.0,190.3 1097.0,190.0 1098.0,190.1 1099.0,190.5 1099.0,392.6" fill="#fbe93a"/>
<polygon points="23.0,392.6 23.0,296.4 24.0,295.3 25.0,293.6 26.0,291.9 27.0,290.3 28.0,289.0 29.0,287.9 30.0,286.9 31.0,285.9 32.0,285.1 33.0,284.5 34.0,284.1 35.0,283.9 36.0,283.6 37.0,283.4 38.0,283.1 39.0,282.9 40.0,282.6 41.0,282.2 42.0,281.8 43.0,281.5 44.0,281.1 45.0,280.8 46.0,280.5 47.0,280.2 48.0,280.0 49.0,279.8 50.0,279.9 51.0,280.1 52.0,280.6 53.0,281.8 54.0,283.7 55.0,286.1 56.0,288.7 57.0,291.6 58.0,294.8 59.0,298.1 60.0,301.5 61.0,304.4 62.0,307.0 63.0,309.3 64.0,310.5 65.0,310.5 66.0,309.3 67.0,307.8 68.0,306.4 69.0,305.2 70.0,304.1 71.0,303.6 72.0,303.5 73.0,303.8 74.0,304.4 75.0,305.2 76.0,306.4 77.0,307.7 78.0,308.9 79.0,309.9 80.0,310.8 81.0,311.7 82.0,312.1 83.0,310.9 84.0,308.0 85.0,304.0 86.0,300.1 87.0,296.4 88.0,292.9 89.0,289.3 90.0,285.8 91.0,282.7 92.0,280.0 93.0,277.5 94.0,275.5 95.0,274.1 96.0,273.2 97.0,272.5 98.0,271.7 99.0,271.1 100.0,270.7 101.0,270.4 102.0,270.2 103.0,270.0 104.0,268.5 105.0,265.6 106.0,261.4 107.0,257.5 108.0,253.9 109.0,250.6 110.0,247.7 111.0,245.5 112.0,243.9 113.0,242.6 114.0,241.7 115.0,241.2 116.0,241.2 117.0,241.3 118.0,241.7 119.0,242.5 120.0,243.5 121.0,244.5 122.0,245.5 123.0,246.5 124.0,247.5 125.0,248.5 126.0,249.5 127.0,250.5 128.0,251.5 129.0,252.5 130.0,253.5 131.0,254.6 132.0,255.7 133.0,257.0 134.0,258.2 135.0,259.5 136.0,260.7 137.0,261.8 138.0,262.8 139.0,263.8 140.0,264.8 141.0,265.6 142.0,266.2 143.0,266.5 144.0,266.8 145.0,267.1 146.0,267.4 147.0,267.6 148.0,267.6 149.0,267.5 150.0,267.4 151.0,267.5 152.0,268.2 153.0,269.4 154.0,271.1 155.0,273.5 156.0,276.5 157.0,280.2 158.0,284.0 159.0,287.3 160.0,289.3 161.0,291.9 162.0,296.1 163.0,303.1 164.0,308.8 165.0,313.1 166.0,315.1 167.0,317.2 168.0,318.6 169.0,319.4 170.0,319.5 171.0,319.7 172.0,319.8 173.0,320.0 174.0,320.1 175.0,320.2 176.0,320.1 177.0,319.9 178.0,319.7 179.0,319.5 180.0,319.3 181.0,318.9 182.0,318.2 183.0,317.4 184.0,316.7 185.0,315.9 186.0,315.1 187.0,314.7 188.0,314.5 189.0,314.5 190.0,314.5 191.0,314.5 192.0,314.5 193.0,314.6 194.0,314.9 195.0,315.6 196.0,316.4 197.0,317.2 198.0,318.0 199.0,318.9 200.0,319.8 201.0,320.9 202.0,322.1 203.0,323.2 204.0,324.4 205.0,325.6 206.0,326.4 207.0,326.4 208.0,325.8 209.0,324.8 210.0,323.9 211.0,323.0 212.0,322.1 213.0,321.3 214.0,320.5 215.0,319.7 216.0,318.8 217.0,318.4 218.0,318.3 219.0,318.7 220.0,319.0 221.0,319.3 222.0,319.6 223.0,320.0 224.0,320.4 225.0,321.0 226.0,321.6 227.0,322.3 228.0,323.0 229.0,323.7 230.0,324.3 231.0,324.9 232.0,325.5 233.0,326.0 234.0,326.5 235.0,327.0 236.0,327.5 237.0,328.0 238.0,328.5 239.0,329.0 240.0,329.5 241.0,329.9 242.0,330.3 243.0,330.7 244.0,331.1 245.0,331.4 246.0,331.8 247.0,332.2 248.0,332.6 249.0,333.0 250.0,333.5 251.0,334.1 252.0,334.7 253.0,335.4 254.0,336.0 255.0,336.7 256.0,337.4 257.0,338.2 258.0,339.1 259.0,340.1 260.0,341.1 261.0,342.1 262.0,343.1 263.0,344.1 264.0,345.0 265.0,346.0 266.0,346.9 267.0,347.8 268.0,348.7 269.0,349.6 270.0,350.4 271.0,351.0 272.0,351.3 273.0,351.4 274.0,351.6 275.0,351.7 276.0,351.9 277.0,352.0 278.0,352.2 279.0,352.3 280.0,352.6 281.0,352.9 282.0,353.2 283.0,353.6 284.0,353.9 285.0,354.3 286.0,354.6 287.0,355.0 288.0,355.3 289.0,355.6 290.0,355.6 291.0,355.5 292.0,355.3 293.0,355.2 294.0,355.0 295.0,354.8 296.0,354.7 297.0,354.5 298.0,354.2 299.0,353.6 300.0,352.7 301.0,351.5 302.0,350.3 303.0,349.2 304.0,348.0 305.0,346.6 306.0,344.7 307.0,342.0 308.0,339.0 309.0,336.0 310.0,333.1 311.0,330.4 312.0,328.0 313.0,325.7 314.0,323.4 315.0,321.1 316.0,318.7 317.0,316.8 318.0,315.3 319.0,314.4 320.0,313.7 321.0,312.9 322.0,312.2 323.0,311.5 324.0,310.7 325.0,310.0 326.0,309.3 327.0,308.7 328.0,308.2 329.0,307.8 330.0,307.4 331.0,307.0 332.0,306.6 333.0,306.1 334.0,305.7 335.0,305.3 336.0,304.9 337.0,304.5 338.0,304.3 339.0,304.3 340.0,304.6 341.0,304.9 342.0,305.2 343.0,305.5 344.0,305.9 345.0,306.2 346.0,306.5 347.0,306.9 348.0,307.2 349.0,307.6 350.0,307.9 351.0,308.3 352.0,309.0 353.0,310.2 354.0,312.1 355.0,314.0 356.0,316.0 357.0,318.3 358.0,321.0 359.0,324.0 360.0,326.9 361.0,329.9 362.0,332.7 363.0,335.5 364.0,338.1 365.0,340.8 366.0,343.5 367.0,346.2 368.0,348.7 369.0,350.8 370.0,352.4 371.0,353.8 372.0,355.1 373.0,356.4 374.0,357.7 375.0,358.9 376.0,359.6 377.0,359.9 378.0,359.8 379.0,359.7 380.0,359.6 381.0,359.5 382.0,359.3 383.0,359.2 384.0,359.1 385.0,359.0 386.0,358.9 387.0,358.9 388.0,358.9 389.0,359.0 390.0,359.1 391.0,359.2 392.0,359.3 393.0,359.4 394.0,359.5 395.0,359.6 396.0,359.7 397.0,359.8 398.0,359.9 399.0,359.9 400.0,359.8 401.0,359.6 402.0,359.4 403.0,359.2 404.0,359.0 405.0,358.8 406.0,358.6 407.0,358.4 408.0,358.2 409.0,358.0 410.0,357.8 411.0,357.5 412.0,357.0 413.0,356.5 414.0,356.0 415.0,355.5 416.0,355.0 417.0,354.5 418.0,354.0 419.0,353.5 420.0,353.0 421.0,352.5 422.0,352.0 423.0,351.5 424.0,351.0 425.0,350.5 426.0,350.0 427.0,349.5 428.0,349.0 429.0,348.5 430.0,348.2 431.0,347.9 432.0,347.6 433.0,347.4 434.0,347.1 435.0,346.9 436.0,346.6 437.0,346.4 438.0,346.1 439.0,345.9 440.0,345.6 441.0,345.4 442.0,345.1 443.0,344.9 444.0,344.6 445.0,344.3 446.0,344.0 447.0,343.7 448.0,343.4 449.0,343.1 450.0,342.8 451.0,342.5 452.0,342.2 453.0,341.9 454.0,341.6 455.0,341.6 456.0,341.8 457.0,342.3 458.0,342.8 459.0,343.3 460.0,343.8 461.0,344.3 462.0,344.9 463.0,345.6 464.0,346.3 465.0,347.1 466.0,347.9 467.0,348.6 468.0,349.4 469.0,350.2 470.0,350.6 471.0,350.5 472.0,350.0 473.0,349.3 474.0,348.7 475.0,348.1 476.0,347.4 477.0,346.8 478.0,346.0 479.0,345.1 480.0,343.9 481.0,342.6 482.0,341.4 483.0,340.1 484.0,338.9 485.0,337.7 486.0,336.4 487.0,335.2 488.0,334.3 489.0,333.6 490.0,333.1 491.0,332.6 492.0,332.1 493.0,331.6 494.0,331.1 495.0,330.6 496.0,330.1 497.0,329.6 498.0,329.1 499.0,328.8 500.0,328.7 501.0,328.9 502.0,329.2 503.0,329.4 504.0,329.6 505.0,329.9 506.0,330.1 507.0,330.4 508.0,330.6 509.0,330.7 510.0,330.8 511.0,330.8 512.0,330.8 513.0,330.8 514.0,330.8 515.0,330.8 516.0,330.8 517.0,330.8 518.0,330.8 519.0,330.9 520.0,331.1 521.0,331.2 522.0,331.3 523.0,331.4 524.0,331.6 525.0,331.7 526.0,331.8 527.0,332.0 528.0,332.4 529.0,332.9 530.0,333.4 531.0,333.9 532.0,334.4 533.0,334.8 534.0,335.3 535.0,335.8 536.0,336.4 537.0,336.9 538.0,337.5 539.0,338.1 540.0,338.7 541.0,339.3 542.0,339.9 543.0,340.5 544.0,341.1 545.0,341.7 546.0,342.3 547.0,342.9 548.0,343.5 549.0,344.2 550.0,344.9 551.0,345.6 552.0,346.3 553.0,347.0 554.0,347.6 555.0,348.3 556.0,349.0 557.0,349.7 558.0,350.4 559.0,351.1 560.0,351.8 561.0,352.4 562.0,353.1 563.0,353.7 564.0,354.3 565.0,355.0 566.0,355.6 567.0,356.2 568.0,356.9 569.0,357.5 570.0,358.0 571.0,358.6 572.0,359.0 573.0,359.6 574.0,360.1 575.0,360.5 576.0,360.9 577.0,360.9 578.0,360.6 579.0,360.3 580.0,359.9 581.0,359.6 582.0,359.2 583.0,358.9 584.0,358.5 585.0,358.1 586.0,357.7 587.0,357.3 588.0,357.0 589.0,356.6 590.0,356.2 591.0,355.8 592.0,355.4 593.0,355.0 594.0,354.6 595.0,354.2 596.0,353.8 597.0,353.4 598.0,353.0 599.0,352.6 600.0,352.2 601.0,351.8 602.0,351.4 603.0,351.0 604.0,350.6 605.0,350.2 606.0,349.8 607.0,349.3 608.0,348.9 609.0,348.4 610.0,347.9 611.0,347.4 612.0,346.9 613.0,346.3 614.0,345.8 615.0,345.3 616.0,344.8 617.0,344.3 618.0,343.8 619.0,343.2 620.0,342.5 621.0,341.8 622.0,341.0 623.0,340.3 624.0,339.6 625.0,338.9 626.0,338.3 627.0,338.1 628.0,338.2 629.0,338.5 630.0,338.8 631.0,339.1 632.0,339.4 633.0,339.7 634.0,340.0 635.0,340.4 636.0,340.8 637.0,341.3 638.0,341.8 639.0,342.3 640.0,342.8 641.0,343.3 642.0,343.8 643.0,344.3 644.0,344.7 645.0,345.1 646.0,345.5 647.0,345.8 648.0,346.1 649.0,346.5 650.0,346.8 651.0,347.1 652.0,347.5 653.0,347.8 654.0,348.1 655.0,348.4 656.0,348.6 657.0,348.9 658.0,349.2 659.0,349.5 660.0,349.7 661.0,350.0 662.0,350.3 663.0,350.6 664.0,350.8 665.0,351.2 666.0,351.8 667.0,352.4 668.0,353.1 669.0,353.7 670.0,354.4 671.0,355.0 672.0,355.7 673.0,356.4 674.0,357.0 675.0,357.7 676.0,358.3 677.0,358.7 678.0,358.9 679.0,359.0 680.0,359.1 681.0,359.2 682.0,359.3 683.0,359.5 684.0,359.6 685.0,359.7 686.0,359.8 687.0,359.9 688.0,360.0 689.0,360.1 690.0,360.2 691.0,360.3 692.0,360.4 693.0,360.5 694.0,360.6 695.0,360.7 696.0,360.8 697.0,360.9 698.0,361.0 699.0,361.1 700.0,361.1 701.0,360.9 702.0,360.5 703.0,360.2 704.0,359.9 705.0,359.5 706.0,359.2 707.0,358.8 708.0,358.5 709.0,358.2 710.0,357.8 711.0,357.5 712.0,357.2 713.0,356.8 714.0,356.2 715.0,355.4 716.0,354.2 717.0,353.1 718.0,352.0 719.0,350.9 720.0,349.7 721.0,348.6 722.0,347.5 723.0,346.3 724.0,344.9 725.0,343.5 726.0,342.0 727.0,340.5 728.0,339.0 729.0,337.5 730.0,336.0 731.0,334.5 732.0,333.1 733.0,332.0 734.0,331.2 735.0,330.6 736.0,329.9 737.0,329.3 738.0,328.7 739.0,328.1 740.0,327.4 741.0,326.8 742.0,326.4 743.0,326.2 744.0,326.2 745.0,326.2 746.0,326.2 747.0,326.2 748.0,326.2 749.0,326.2 750.0,326.2 751.0,326.3 752.0,326.5 753.0,326.8 754.0,327.2 755.0,327.6 756.0,327.9 757.0,328.3 758.0,328.7 759.0,329.1 760.0,329.5 761.0,330.1 762.0,331.0 763.0,332.0 764.0,333.0 765.0,334.0 766.0,335.0 767.0,336.1 768.0,337.5 769.0,339.3 770.0,341.3 771.0,343.3 772.0,345.3 773.0,347.3 774.0,349.2 775.0,350.7 776.0,351.8 777.0,352.6 778.0,353.4 779.0,354.3 780.0,355.1 781.0,355.8 782.0,356.0 783.0,355.9 784.0,355.4 785.0,354.9 786.0,354.4 787.0,353.9 788.0,353.3 789.0,352.7 790.0,351.9 791.0,351.1 792.0,350.3 793.0,349.4 794.0,348.6 795.0,347.8 796.0,347.1 797.0,346.4 798.0,345.7 799.0,345.1 800.0,344.5 801.0,343.8 802.0,343.2 803.0,342.6 804.0,341.9 805.0,341.5 806.0,341.2 807.0,341.1 808.0,340.9 809.0,340.8 810.0,340.7 811.0,340.6 812.0,340.5 813.0,340.4 814.0,340.1 815.0,339.5 816.0,338.8 817.0,337.9 818.0,337.1 819.0,336.2 820.0,335.4 821.0,334.4 822.0,333.2 823.0,331.8 824.0,330.3 825.0,328.8 826.0,327.3 827.0,325.8 828.0,324.3 829.0,322.8 830.0,321.3 831.0,319.5 832.0,317.6 833.0,315.5 834.0,313.5 835.0,311.4 836.0,309.3 837.0,307.3 838.0,305.2 839.0,303.1 840.0,301.0 841.0,298.7 842.0,296.3 843.0,294.0 844.0,291.7 845.0,289.6 846.0,287.8 847.0,286.3 848.0,284.8 849.0,283.4 850.0,282.0 851.0,280.8 852.0,279.7 853.0,278.6 854.0,277.5 855.0,276.4 856.0,275.8 857.0,275.6 858.0,275.9 859.0,276.3 860.0,276.7 861.0,277.0 862.0,277.1 863.0,277.1 864.0,277.1 865.0,277.1 866.0,276.9 867.0,276.4 868.0,275.7 869.0,275.1 870.0,274.5 871.0,274.0 872.0,273.5 873.0,273.0 874.0,272.4 875.0,271.9 876.0,271.4 877.0,270.9 878.0,270.4 879.0,269.9 880.0,269.4 881.0,268.9 882.0,268.4 883.0,268.0 884.0,267.8 885.0,267.6 886.0,267.5 887.0,267.4 888.0,267.3 889.0,267.4 890.0,267.9 891.0,268.9 892.0,271.2 893.0,274.6 894.0,278.7 895.0,282.4 896.0,285.6 897.0,288.6 898.0,291.4 899.0,294.0 900.0,296.4 901.0,298.5 902.0,299.7 903.0,300.0 904.0,298.7 905.0,296.3 906.0,292.4 907.0,287.1 908.0,280.6 909.0,273.9 910.0,268.4 911.0,264.1 912.0,260.1 913.0,256.9 914.0,254.4 915.0,252.7 916.0,251.2 917.0,249.9 918.0,249.0 919.0,248.3 920.0,247.9 921.0,247.9 922.0,248.3 923.0,249.2 924.0,250.5 925.0,252.2 926.0,253.9 927.0,255.7 928.0,257.6 929.0,259.7 930.0,261.5 931.0,263.2 932.0,264.6 933.0,265.9 934.0,267.0 935.0,268.0 936.0,268.7 937.0,269.5 938.0,270.3 939.0,271.4 940.0,272.8 941.0,274.6 942.0,276.3 943.0,278.0 944.0,279.7 945.0,281.3 946.0,282.8 947.0,284.3 948.0,285.8 949.0,287.1 950.0,288.2 951.0,289.2 952.0,290.1 953.0,291.1 954.0,292.0 955.0,292.8 956.0,293.6 957.0,294.4 958.0,295.1 959.0,295.8 960.0,296.3 961.0,296.8 962.0,297.3 963.0,297.8 964.0,298.3 965.0,299.0 966.0,299.7 967.0,300.6 968.0,302.1 969.0,304.0 970.0,306.1 971.0,307.7 972.0,308.9 973.0,310.0 974.0,312.2 975.0,315.4 976.0,318.4 977.0,319.9 978.0,319.9 979.0,319.1 980.0,318.3 981.0,317.6 982.0,317.0 983.0,316.5 984.0,316.1 985.0,315.7 986.0,315.2 987.0,314.8 988.0,314.7 989.0,314.9 990.0,315.4 991.0,316.0 992.0,316.6 993.0,317.1 994.0,317.5 995.0,317.7 996.0,317.9 997.0,317.9 998.0,317.5 999.0,316.9 1000.0,316.3 1001.0,315.6 1002.0,315.0 1003.0,314.4 1004.0,313.8 1005.0,313.2 1006.0,312.8 1007.0,312.4 1008.0,312.1 1009.0,311.7 1010.0,311.3 1011.0,311.0 1012.0,310.7 1013.0,310.6 1014.0,310.7 1015.0,310.8 1016.0,311.0 1017.0,311.2 1018.0,311.6 1019.0,312.3 1020.0,313.4 1021.0,314.6 1022.0,315.8 1023.0,316.8 1024.0,317.8 1025.0,318.5 1026.0,319.3 1027.0,318.4 1028.0,315.8 1029.0,312.6 1030.0,311.0 1031.0,311.2 1032.0,311.9 1033.0,312.6 1034.0,312.2 1035.0,310.7 1036.0,308.7 1037.0,307.4 1038.0,307.0 1039.0,307.1 1040.0,307.3 1041.0,307.3 1042.0,307.1 1043.0,306.6 1044.0,306.0 1045.0,305.3 1046.0,304.8 1047.0,304.5 1048.0,304.5 1049.0,304.6 1050.0,304.7 1051.0,304.9 1052.0,305.1 1053.0,305.3 1054.0,305.4 1055.0,305.5 1056.0,305.6 1057.0,305.7 1058.0,305.8 1059.0,306.1 1060.0,306.4 1061.0,306.6 1062.0,306.5 1063.0,306.3 1064.0,305.9 1065.0,305.7 1066.0,305.6 1067.0,305.5 1068.0,305.3 1069.0,305.1 1070.0,304.8 1071.0,304.7 1072.0,304.9 1073.0,305.4 1074.0,306.0 1075.0,306.6 1076.0,306.9 1077.0,306.7 1078.0,305.8 1079.0,304.5 1080.0,303.3 1081.0,302.2 1082.0,301.5 1083.0,300.9 1084.0,300.4 1085.0,299.9 1086.0,299.6 1087.0,299.8 1088.0,300.6 1089.0,301.8 1090.0,303.0 1091.0,303.6 1092.0,304.1 1093.0,304.6 1094.0,305.7 1095.0,306.8 1096.0,307.9 1097.0,308.8 1098.0,309.6 1099.0,310.1 1099.0,392.6" fill="#5b63f7"/>
<polygon points="23.0,392.6 23.0,353.6 24.0,353.5 25.0,353.4 26.0,353.3 27.0,353.2 28.0,353.1 29.0,353.0 30.0,352.9 31.0,352.8 32.0,352.7 33.0,352.6 34.0,352.5 35.0,352.4 36.0,352.4 37.0,352.5 38.0,352.5 39.0,352.5 40.0,352.5 41.0,352.6 42.0,352.6 43.0,352.6 44.0,352.6 45.0,352.7 46.0,352.7 47.0,352.7 48.0,352.7 49.0,352.8 50.0,352.8 51.0,352.8 52.0,352.8 53.0,352.9 54.0,352.9 55.0,352.9 56.0,352.9 57.0,353.0 58.0,353.0 59.0,353.1 60.0,353.1 61.0,353.2 62.0,353.3 63.0,353.3 64.0,353.4 65.0,353.5 66.0,353.5 67.0,353.6 68.0,353.7 69.0,353.7 70.0,353.8 71.0,353.9 72.0,353.9 73.0,353.8 74.0,353.5 75.0,352.9 76.0,352.4 77.0,351.8 78.0,351.3 79.0,350.8 80.0,350.2 81.0,349.7 82.0,349.1 83.0,348.6 84.0,348.2 85.0,347.8 86.0,347.4 87.0,347.0 88.0,346.6 89.0,346.2 90.0,345.8 91.0,345.4 92.0,345.0 93.0,344.6 94.0,344.2 95.0,343.8 96.0,343.4 97.0,343.0 98.0,342.6 99.0,342.2 100.0,341.9 101.0,341.5 102.0,341.1 103.0,340.8 104.0,340.6 105.0,340.7 106.0,340.8 107.0,340.9 108.0,341.0 109.0,341.1 110.0,341.2 111.0,341.3 112.0,341.4 113.0,341.5 114.0,341.6 115.0,341.7 116.0,341.8 117.0,341.9 118.0,342.0 119.0,342.1 120.0,342.2 121.0,342.3 122.0,342.3 123.0,342.4 124.0,342.4 125.0,342.5 126.0,342.5 127.0,342.6 128.0,342.6 129.0,342.7 130.0,342.7 131.0,342.8 132.0,342.8 133.0,342.9 134.0,342.9 135.0,343.0 136.0,343.0 137.0,343.1 138.0,343.1 139.0,343.2 140.0,343.2 141.0,343.2 142.0,343.1 143.0,343.1 144.0,343.1 145.0,343.0 146.0,343.0 147.0,342.9 148.0,342.9 149.0,342.9 150.0,342.8 151.0,342.8 152.0,342.8 153.0,342.7 154.0,342.7 155.0,342.6 156.0,342.6 157.0,342.6 158.0,342.7 159.0,343.0 160.0,343.4 161.0,343.8 162.0,344.3 163.0,344.7 164.0,345.3 165.0,345.9 166.0,346.6 167.0,347.3 168.0,348.0 169.0,348.6 170.0,349.4 171.0,350.2 172.0,350.9 173.0,351.3 174.0,351.6 175.0,351.8 176.0,352.1 177.0,352.3 178.0,352.6 179.0,353.0 180.0,353.4 181.0,353.7 182.0,353.8 183.0,354.0 184.0,354.1 185.0,354.2 186.0,354.3 187.0,354.5 188.0,354.6 189.0,354.7 190.0,354.8 191.0,355.0 192.0,355.1 193.0,355.2 194.0,355.4 195.0,355.5 196.0,355.7 197.0,355.9 198.0,356.0 199.0,356.2 200.0,356.4 201.0,356.6 202.0,356.7 203.0,356.9 204.0,357.1 205.0,357.2 206.0,357.4 207.0,357.6 208.0,357.8 209.0,358.0 210.0,358.2 211.0,358.4 212.0,358.6 213.0,358.8 214.0,358.9 215.0,359.1 216.0,359.3 217.0,359.5 218.0,359.7 219.0,359.9 220.0,360.0 221.0,360.1 222.0,360.2 223.0,360.3 224.0,360.4 225.0,360.5 226.0,360.6 227.0,360.7 228.0,360.7 229.0,360.8 230.0,360.9 231.0,361.0 232.0,361.1 233.0,361.2 234.0,361.2 235.0,361.3 236.0,361.4 237.0,361.5 238.0,361.5 239.0,361.6 240.0,361.7 241.0,361.7 242.0,361.8 243.0,361.9 244.0,361.9 245.0,362.0 246.0,362.1 247.0,362.1 248.0,362.2 249.0,362.3 250.0,362.3 251.0,362.4 252.0,362.5 253.0,362.5 254.0,362.6 255.0,362.7 256.0,362.8 257.0,362.8 258.0,362.9 259.0,363.0 260.0,363.0 261.0,363.1 262.0,363.2 263.0,363.3 264.0,363.3 265.0,363.4 266.0,363.5 267.0,363.6 268.0,363.7 269.0,363.7 270.0,363.8 271.0,363.9 272.0,364.0 273.0,364.0 274.0,364.1 275.0,364.2 276.0,364.2 277.0,364.3 278.0,364.4 279.0,364.4 280.0,364.5 281.0,364.6 282.0,364.6 283.0,364.7 284.0,364.8 285.0,364.8 286.0,364.9 287.0,365.0 288.0,365.0 289.0,365.1 290.0,365.0 291.0,365.0 292.0,364.9 293.0,364.9 294.0,364.8 295.0,364.7 296.0,364.7 297.0,364.6 298.0,364.5 299.0,364.5 300.0,364.4 301.0,364.3 302.0,364.3 303.0,364.2 304.0,364.0 305.0,363.8 306.0,363.6 307.0,363.4 308.0,363.2 309.0,363.0 310.0,362.8 311.0,362.6 312.0,362.3 313.0,362.1 314.0,361.9 315.0,361.7 316.0,361.5 317.0,361.3 318.0,361.1 319.0,360.9 320.0,360.7 321.0,360.5 322.0,360.3 323.0,360.2 324.0,360.0 325.0,359.8 326.0,359.6 327.0,359.5 328.0,359.3 329.0,359.1 330.0,358.9 331.0,358.8 332.0,358.6 333.0,358.4 334.0,358.2 335.0,358.1 336.0,357.9 337.0,357.8 338.0,357.8 339.0,357.9 340.0,358.1 341.0,358.2 342.0,358.4 343.0,358.5 344.0,358.6 345.0,358.8 346.0,359.0 347.0,359.3 348.0,359.6 349.0,359.9 350.0,360.2 351.0,360.5 352.0,360.8 353.0,361.1 354.0,361.4 355.0,361.7 356.0,362.0 357.0,362.3 358.0,362.5 359.0,362.7 360.0,362.9 361.0,363.1 362.0,363.3 363.0,363.5 364.0,363.7 365.0,363.9 366.0,364.1 367.0,364.3 368.0,364.5 369.0,364.7 370.0,364.9 371.0,365.1 372.0,365.2 373.0,365.2 374.0,365.2 375.0,365.3 376.0,365.4 377.0,365.4 378.0,365.4 379.0,365.5 380.0,365.6 381.0,365.6 382.0,365.6 383.0,365.7 384.0,365.8 385.0,365.8 386.0,365.8 387.0,365.8 388.0,365.7 389.0,365.7 390.0,365.7 391.0,365.7 392.0,365.7 393.0,365.6 394.0,365.6 395.0,365.6 396.0,365.6 397.0,365.6 398.0,365.5 399.0,365.5 400.0,365.5 401.0,365.5 402.0,365.5 403.0,365.4 404.0,365.4 405.0,365.4 406.0,365.4 407.0,365.4 408.0,365.3 409.0,365.3 410.0,365.3 411.0,365.3 412.0,365.3 413.0,365.2 414.0,365.2 415.0,365.2 416.0,365.2 417.0,365.2 418.0,365.1 419.0,365.1 420.0,365.1 421.0,365.0 422.0,365.0 423.0,364.9 424.0,364.8 425.0,364.8 426.0,364.7 427.0,364.6 428.0,364.6 429.0,364.5 430.0,364.4 431.0,364.3 432.0,364.3 433.0,364.2 434.0,364.1 435.0,364.1 436.0,364.0 437.0,363.9 438.0,363.9 439.0,363.8 440.0,363.7 441.0,363.7 442.0,363.6 443.0,363.5 444.0,363.5 445.0,363.4 446.0,363.4 447.0,363.3 448.0,363.3 449.0,363.2 450.0,363.2 451.0,363.1 452.0,363.1 453.0,363.0 454.0,363.0 455.0,362.9 456.0,362.8 457.0,362.8 458.0,362.7 459.0,362.7 460.0,362.6 461.0,362.6 462.0,362.5 463.0,362.5 464.0,362.4 465.0,362.4 466.0,362.3 467.0,362.2 468.0,362.0 469.0,361.8 470.0,361.6 471.0,361.4 472.0,361.2 473.0,361.0 474.0,360.8 475.0,360.6 476.0,360.4 477.0,360.2 478.0,360.0 479.0,359.8 480.0,359.6 481.0,359.5 482.0,359.3 483.0,359.2 484.0,359.0 485.0,358.9 486.0,358.7 487.0,358.6 488.0,358.4 489.0,358.3 490.0,358.2 491.0,358.2 492.0,358.3 493.0,358.5 494.0,358.6 495.0,358.7 496.0,358.8 497.0,358.9 498.0,359.1 499.0,359.2 500.0,359.3 501.0,359.4 502.0,359.6 503.0,359.7 504.0,359.8 505.0,360.0 506.0,360.1 507.0,360.3 508.0,360.4 509.0,360.6 510.0,360.7 511.0,360.9 512.0,361.0 513.0,361.2 514.0,361.3 515.0,361.5 516.0,361.6 517.0,361.8 518.0,361.9 519.0,362.0 520.0,362.1 521.0,362.3 522.0,362.4 523.0,362.5 524.0,362.6 525.0,362.8 526.0,362.9 527.0,363.0 528.0,363.1 529.0,363.3 530.0,363.4 531.0,363.5 532.0,363.6 533.0,363.7 534.0,363.9 535.0,364.0 536.0,364.1 537.0,364.2 538.0,364.3 539.0,364.3 540.0,364.3 541.0,364.4 542.0,364.4 543.0,364.4 544.0,364.5 545.0,364.5 546.0,364.6 547.0,364.6 548.0,364.6 549.0,364.7 550.0,364.7 551.0,364.8 552.0,364.8 553.0,364.8 554.0,364.9 555.0,364.9 556.0,364.9 557.0,365.0 558.0,365.0 559.0,365.1 560.0,365.1 561.0,365.1 562.0,365.2 563.0,365.2 564.0,365.2 565.0,365.3 566.0,365.3 567.0,365.3 568.0,365.3 569.0,365.4 570.0,365.4 571.0,365.4 572.0,365.5 573.0,365.5 574.0,365.5 575.0,365.6 576.0,365.6 577.0,365.6 578.0,365.6 579.0,365.7 580.0,365.7 581.0,365.7 582.0,365.8 583.0,365.8 584.0,365.8 585.0,365.8 586.0,365.8 587.0,365.8 588.0,365.8 589.0,365.8 590.0,365.8 591.0,365.8 592.0,365.8 593.0,365.8 594.0,365.8 595.0,365.8 596.0,365.8 597.0,365.8 598.0,365.8 599.0,365.8 600.0,365.8 601.0,365.8 602.0,365.8 603.0,365.8 604.0,365.8 605.0,365.8 606.0,365.8 607.0,365.8 608.0,365.8 609.0,365.7 610.0,365.7 611.0,365.7 612.0,365.6 613.0,365.6 614.0,365.6 615.0,365.6 616.0,365.5 617.0,365.5 618.0,365.5 619.0,365.4 620.0,365.4 621.0,365.4 622.0,365.3 623.0,365.3 624.0,365.3 625.0,365.3 626.0,365.2 627.0,365.2 628.0,365.2 629.0,365.1 630.0,365.1 631.0,365.1 632.0,365.0 633.0,365.0 634.0,364.9 635.0,364.9 636.0,364.9 637.0,364.8 638.0,364.8 639.0,364.8 640.0,364.7 641.0,364.7 642.0,364.6 643.0,364.6 644.0,364.6 645.0,364.5 646.0,364.5 647.0,364.4 648.0,364.4 649.0,364.4 650.0,364.3 651.0,364.3 652.0,364.3 653.0,364.2 654.0,364.0 655.0,363.8 656.0,363.6 657.0,363.4 658.0,363.2 659.0,363.0 660.0,362.8 661.0,362.5 662.0,362.3 663.0,362.1 664.0,361.9 665.0,361.7 666.0,361.5 667.0,361.3 668.0,361.1 669.0,361.0 670.0,360.9 671.0,360.7 672.0,360.6 673.0,360.5 674.0,360.3 675.0,360.2 676.0,360.1 677.0,360.1 678.0,360.1 679.0,360.2 680.0,360.3 681.0,360.4 682.0,360.5 683.0,360.7 684.0,360.8 685.0,360.9 686.0,361.0 687.0,361.1 688.0,361.2 689.0,361.2 690.0,361.3 691.0,361.4 692.0,361.4 693.0,361.5 694.0,361.5 695.0,361.6 696.0,361.7 697.0,361.7 698.0,361.8 699.0,361.8 700.0,361.9 701.0,361.8 702.0,361.8 703.0,361.8 704.0,361.7 705.0,361.6 706.0,361.6 707.0,361.5 708.0,361.5 709.0,361.4 710.0,361.4 711.0,361.3 712.0,361.3 713.0,361.2 714.0,361.2 715.0,361.1 716.0,361.0 717.0,360.8 718.0,360.7 719.0,360.6 720.0,360.5 721.0,360.3 722.0,360.2 723.0,360.1 724.0,360.0 725.0,359.9 726.0,359.7 727.0,359.6 728.0,359.5 729.0,359.4 730.0,359.3 731.0,359.1 732.0,359.0 733.0,358.9 734.0,358.8 735.0,358.6 736.0,358.5 737.0,358.4 738.0,358.3 739.0,358.1 740.0,358.0 741.0,357.9 742.0,357.8 743.0,357.7 744.0,357.5 745.0,357.4 746.0,357.3 747.0,357.3 748.0,357.3 749.0,357.5 750.0,357.6 751.0,357.7 752.0,357.8 753.0,357.9 754.0,358.0 755.0,358.1 756.0,358.3 757.0,358.4 758.0,358.5 759.0,358.6 760.0,358.7 761.0,358.9 762.0,359.1 763.0,359.3 764.0,359.5 765.0,359.8 766.0,360.0 767.0,360.2 768.0,360.4 769.0,360.6 770.0,360.9 771.0,361.1 772.0,361.3 773.0,361.5 774.0,361.7 775.0,361.9 776.0,361.9 777.0,361.9 778.0,362.0 779.0,362.0 780.0,362.0 781.0,362.0 782.0,362.1 783.0,362.1 784.0,362.1 785.0,362.1 786.0,362.1 787.0,362.2 788.0,362.2 789.0,362.2 790.0,362.2 791.0,362.3 792.0,362.3 793.0,362.3 794.0,362.2 795.0,362.2 796.0,362.1 797.0,362.0 798.0,361.9 799.0,361.9 800.0,361.8 801.0,361.7 802.0,361.6 803.0,361.5 804.0,361.5 805.0,361.4 806.0,361.3 807.0,361.2 808.0,361.0 809.0,360.7 810.0,360.4 811.0,360.1 812.0,359.8 813.0,359.5 814.0,359.2 815.0,358.9 816.0,358.6 817.0,358.3 818.0,358.0 819.0,357.5 820.0,356.9 821.0,356.1 822.0,355.3 823.0,354.5 824.0,353.7 825.0,352.9 826.0,352.1 827.0,351.3 828.0,350.5 829.0,349.7 830.0,348.9 831.0,348.2 832.0,347.5 833.0,346.9 834.0,346.2 835.0,345.6 836.0,345.0 837.0,344.4 838.0,343.7 839.0,343.1 840.0,342.7 841.0,342.4 842.0,342.4 843.0,342.4 844.0,342.3 845.0,342.2 846.0,342.2 847.0,342.1 848.0,342.1 849.0,342.1 850.0,342.0 851.0,341.9 852.0,341.9 853.0,341.9 854.0,342.1 855.0,342.7 856.0,343.5 857.0,344.4 858.0,345.3 859.0,346.2 860.0,347.0 861.0,347.7 862.0,348.1 863.0,348.3 864.0,348.5 865.0,348.7 866.0,348.9 867.0,349.1 868.0,349.3 869.0,349.5 870.0,349.7 871.0,349.9 872.0,350.0 873.0,350.2 874.0,350.3 875.0,350.3 876.0,350.4 877.0,350.5 878.0,350.5 879.0,350.6 880.0,350.7 881.0,350.7 882.0,350.8 883.0,350.9 884.0,350.9 885.0,351.0 886.0,351.1 887.0,351.1 888.0,351.2 889.0,351.2 890.0,351.3 891.0,351.3 892.0,351.4 893.0,351.4 894.0,351.5 895.0,351.5 896.0,351.6 897.0,351.6 898.0,351.7 899.0,351.7 900.0,351.7 901.0,351.7 902.0,351.6 903.0,351.5 904.0,351.3 905.0,351.2 906.0,351.1 907.0,350.9 908.0,350.8 909.0,350.7 910.0,350.5 911.0,350.4 912.0,350.1 913.0,349.7 914.0,349.1 915.0,348.4 916.0,347.7 917.0,347.0 918.0,346.4 919.0,345.8 920.0,345.5 921.0,345.4 922.0,345.3 923.0,345.3 924.0,345.2 925.0,345.2 926.0,345.1 927.0,345.0 928.0,345.0 929.0,344.9 930.0,344.9 931.0,344.8 932.0,344.7 933.0,344.7 934.0,344.6 935.0,344.5 936.0,344.5 937.0,344.4 938.0,344.3 939.0,344.3 940.0,344.2 941.0,344.1 942.0,344.1 943.0,344.0 944.0,343.9 945.0,343.9 946.0,343.8 947.0,343.8 948.0,343.9 949.0,344.1 950.0,344.4 951.0,344.6 952.0,344.9 953.0,345.1 954.0,345.3 955.0,345.6 956.0,345.8 957.0,346.1 958.0,346.3 959.0,346.6 960.0,346.8 961.0,347.1 962.0,347.3 963.0,347.6 964.0,347.8 965.0,348.1 966.0,348.3 967.0,348.6 968.0,348.8 969.0,349.1 970.0,349.3 971.0,349.5 972.0,349.7 973.0,349.8 974.0,349.9 975.0,350.1 976.0,350.2 977.0,350.3 978.0,350.4 979.0,350.6 980.0,350.7 981.0,351.0 982.0,351.2 983.0,351.5 984.0,351.8 985.0,352.1 986.0,352.3 987.0,352.6 988.0,352.9 989.0,353.1 990.0,353.3 991.0,353.4 992.0,353.5 993.0,353.6 994.0,353.7 995.0,353.8 996.0,353.9 997.0,354.0 998.0,354.1 999.0,354.2 1000.0,354.3 1001.0,354.4 1002.0,354.5 1003.0,354.6 1004.0,354.7 1005.0,354.8 1006.0,354.9 1007.0,355.0 1008.0,355.1 1009.0,355.2 1010.0,355.3 1011.0,355.4 1012.0,355.6 1013.0,355.7 1014.0,355.9 1015.0,356.0 1016.0,356.2 1017.0,356.3 1018.0,356.4 1019.0,356.6 1020.0,356.7 1021.0,356.8 1022.0,356.9 1023.0,357.0 1024.0,356.9 1025.0,356.6 1026.0,356.0 1027.0,355.5 1028.0,354.9 1029.0,354.3 1030.0,353.7 1031.0,353.1 1032.0,352.6 1033.0,352.1 1034.0,351.7 1035.0,351.2 1036.0,350.8 1037.0,350.3 1038.0,349.9 1039.0,349.5 1040.0,349.0 1041.0,348.6 1042.0,348.3 1043.0,348.0 1044.0,347.8 1045.0,347.6 1046.0,347.3 1047.0,347.1 1048.0,346.9 1049.0,346.7 1050.0,346.6 1051.0,346.6 1052.0,346.7 1053.0,347.0 1054.0,347.2 1055.0,347.4 1056.0,347.6 1057.0,347.8 1058.0,348.1 1059.0,348.3 1060.0,348.5 1061.0,348.7 1062.0,348.9 1063.0,349.1 1064.0,349.3 1065.0,349.5 1066.0,349.7 1067.0,349.9 1068.0,350.1 1069.0,350.3 1070.0,350.4 1071.0,350.4 1072.0,350.5 1073.0,350.5 1074.0,350.6 1075.0,350.6 1076.0,350.7 1077.0,350.8 1078.0,350.9 1079.0,351.0 1080.0,351.1 1081.0,351.2 1082.0,351.3 1083.0,351.4 1084.0,351.5 1085.0,351.6 1086.0,351.8 1087.0,351.9 1088.0,352.0 1089.0,352.1 1090.0,352.2 1091.0,352.3 1092.0,352.4 1093.0,352.5 1094.0,352.6 1095.0,352.8 1096.0,352.9 1097.0,353.0 1098.0,353.1 1099.0,353.2 1099.0,392.6" fill="#00b4ef"/>
<polygon points="23.0,392.6 23.0,366.7 24.0,366.7 25.0,366.7 26.0,366.7 27.0,366.7 28.0,366.7 29.0,366.7 30.0,366.7 31.0,366.7 32.0,366.7 33.0,366.7 34.0,366.7 35.0,366.7 36.0,366.7 37.0,366.7 38.0,366.7 39.0,366.7 40.0,366.7 41.0,366.7 42.0,366.7 43.0,366.7 44.0,366.7 45.0,366.7 46.0,366.7 47.0,366.7 48.0,366.7 49.0,366.7 50.0,366.7 51.0,366.7 52.0,366.7 53.0,366.7 54.0,366.7 55.0,366.7 56.0,366.7 57.0,366.7 58.0,366.7 59.0,366.7 60.0,366.7 61.0,366.7 62.0,366.7 63.0,366.7 64.0,366.7 65.0,366.7 66.0,366.7 67.0,366.7 68.0,366.7 69.0,366.7 70.0,366.7 71.0,366.7 72.0,366.7 73.0,366.7 74.0,366.7 75.0,366.7 76.0,366.7 77.0,366.7 78.0,366.7 79.0,366.7 80.0,366.7 81.0,366.7 82.0,366.7 83.0,366.7 84.0,366.7 85.0,366.7 86.0,366.7 87.0,366.7 88.0,366.7 89.0,366.7 90.0,366.7 91.0,366.7 92.0,366.7 93.0,366.7 94.0,366.7 95.0,366.7 96.0,366.7 97.0,366.7 98.0,366.7 99.0,366.7 100.0,366.7 101.0,366.7 102.0,366.7 103.0,366.7 104.0,366.7 105.0,366.7 106.0,366.7 107.0,366.7 108.0,366.7 109.0,366.7 110.0,366.7 111.0,366.7 112.0,366.7 113.0,366.7 114.0,366.7 115.0,366.7 116.0,366.7 117.0,366.7 118.0,366.7 119.0,366.7 120.0,366.7 121.0,366.7 122.0,366.7 123.0,366.7 124.0,366.7 125.0,366.7 126.0,366.7 127.0,366.7 128.0,366.7 129.0,366.7 130.0,366.7 131.0,366.7 132.0,366.7 133.0,366.7 134.0,366.7 135.0,366.7 136.0,366.7 137.0,366.7 138.0,366.7 139.0,366.7 140.0,366.7 141.0,366.7 142.0,366.7 143.0,366.7 144.0,366.7 145.0,366.7 146.0,366.7 147.0,366.7 148.0,366.7 149.0,366.7 150.0,366.7 151.0,366.7 152.0,366.7 153.0,366.7 154.0,366.7 155.0,366.7 156.0,366.7 157.0,366.7 158.0,366.7 159.0,366.7 160.0,366.7 161.0,366.7 162.0,366.7 163.0,366.7 164.0,366.7 165.0,366.7 166.0,366.7 167.0,366.7 168.0,366.7 169.0,366.7 170.0,366.7 171.0,366.7 172.0,366.7 173.0,366.7 174.0,366.7 175.0,366.7 176.0,366.7 177.0,366.7 178.0,366.7 179.0,366.7 180.0,366.7 181.0,366.7 182.0,366.7 183.0,366.7 184.0,366.7 185.0,366.7 186.0,366.7 187.0,366.7 188.0,366.7 189.0,366.7 190.0,366.7 191.0,366.7 192.0,366.7 193.0,366.7 194.0,366.7 195.0,366.7 196.0,366.7 197.0,366.7 198.0,366.7 199.0,366.7 200.0,366.7 201.0,366.7 202.0,366.7 203.0,366.7 204.0,366.7 205.0,366.7 206.0,366.7 207.0,366.7 208.0,366.7 209.0,366.7 210.0,366.7 211.0,366.7 212.0,366.7 213.0,366.7 214.0,366.7 215.0,366.7 216.0,366.7 217.0,366.7 218.0,366.7 219.0,366.7 220.0,366.7 221.0,366.7 222.0,366.7 223.0,366.7 224.0,366.7 225.0,366.7 226.0,366.7 227.0,366.7 228.0,366.7 229.0,366.7 230.0,366.7 231.0,366.7 232.0,366.7 233.0,366.7 234.0,366.7 235.0,366.7 236.0,366.7 237.0,366.7 238.0,366.7 239.0,366.7 240.0,366.7 241.0,366.7 242.0,366.7 243.0,366.7 244.0,366.7 245.0,366.7 246.0,366.7 247.0,366.7 248.0,366.7 249.0,366.7 250.0,366.7 251.0,366.7 252.0,366.7 253.0,366.7 254.0,366.7 255.0,366.7 256.0,366.7 257.0,366.7 258.0,366.7 259.0,366.7 260.0,366.7 261.0,366.7 262.0,366.7 263.0,366.7 264.0,366.7 265.0,366.7 266.0,366.7 267.0,366.7 268.0,366.7 269.0,366.7 270.0,366.7 271.0,366.7 272.0,366.7 273.0,366.7 274.0,366.7 275.0,366.7 276.0,366.7 277.0,366.7 278.0,366.7 279.0,366.7 280.0,366.7 281.0,366.7 282.0,366.7 283.0,366.7 284.0,366.7 285.0,366.7 286.0,366.7 287.0,366.7 288.0,366.7 289.0,366.7 290.0,366.7 291.0,366.7 292.0,366.7 293.0,366.7 294.0,366.7 295.0,366.7 296.0,366.7 297.0,366.7 298.0,366.7 299.0,366.7 300.0,366.7 301.0,366.7 302.0,366.7 303.0,366.7 304.0,366.7 305.0,366.7 306.0,366.7 307.0,366.7 308.0,366.7 309.0,366.7 310.0,366.7 311.0,366.7 312.0,366.7 313.0,366.7 314.0,366.7 315.0,366.7 316.0,366.7 317.0,366.7 318.0,366.7 319.0,366.7 320.0,366.7 321.0,366.7 322.0,366.7 323.0,366.7 324.0,366.7 325.0,366.7 326.0,366.7 327.0,366.7 328.0,366.7 329.0,366.7 330.0,366.7 331.0,366.7 332.0,366.7 333.0,366.7 334.0,366.7 335.0,366.7 336.0,366.7 337.0,366.7 338.0,366.7 339.0,366.7 340.0,366.7 341.0,366.7 342.0,366.7 343.0,366.7 344.0,366.7 345.0,366.7 346.0,366.7 347.0,366.7 348.0,366.7 349.0,366.7 350.0,366.7 351.0,366.7 352.0,366.7 353.0,366.7 354.0,366.7 355.0,366.7 356.0,366.7 357.0,366.7 358.0,366.7 359.0,366.7 360.0,366.7 361.0,366.7 362.0,366.7 363.0,366.7 364.0,366.7 365.0,366.7 366.0,366.7 367.0,366.7 368.0,366.7 369.0,366.7 370.0,366.7 371.0,366.7 372.0,366.7 373.0,366.7 374.0,366.7 375.0,366.7 376.0,366.7 377.0,366.7 378.0,366.7 379.0,366.7 380.0,366.7 381.0,366.7 382.0,366.7 383.0,366.7 384.0,366.7 385.0,366.7 386.0,366.7 387.0,366.7 388.0,366.7 389.0,366.7 390.0,366.7 391.0,366.7 392.0,366.7 393.0,366.7 394.0,366.7 395.0,366.7 396.0,366.7 397.0,366.7 398.0,366.7 399.0,366.7 400.0,366.7 401.0,366.7 402.0,366.7 403.0,366.7 404.0,366.7 405.0,366.7 406.0,366.7 407.0,366.7 408.0,366.7 409.0,366.7 410.0,366.7 411.0,366.7 412.0,366.7 413.0,366.7 414.0,366.7 415.0,366.7 416.0,366.7 417.0,366.7 418.0,366.7 419.0,366.7 420.0,366.7 421.0,366.7 422.0,366.7 423.0,366.7 424.0,366.7 425.0,366.7 426.0,366.7 427.0,366.7 428.0,366.7 429.0,366.7 430.0,366.7 431.0,366.7 432.0,366.7 433.0,366.7 434.0,366.7 435.0,366.7 436.0,366.7 437.0,366.7 438.0,366.7 439.0,366.7 440.0,366.7 441.0,366.7 442.0,366.7 443.0,366.7 444.0,366.7 445.0,366.7 446.0,366.7 447.0,366.7 448.0,366.7 449.0,366.7 450.0,366.7 451.0,366.7 452.0,366.7 453.0,366.7 454.0,366.7 455.0,366.7 456.0,366.7 457.0,366.7 458.0,366.7 459.0,366.7 460.0,366.7 461.0,366.7 462.0,366.7 463.0,366.7 464.0,366.7 465.0,366.7 466.0,366.7 467.0,366.7 468.0,366.7 469.0,366.7 470.0,366.7 471.0,366.7 472.0,366.7 473.0,366.7 474.0,366.7 475.0,366.7 476.0,366.7 477.0,366.7 478.0,366.7 479.0,366.7 480.0,366.7 481.0,366.7 482.0,366.7 483.0,366.7 484.0,366.7 485.0,366.7 486.0,366.7 487.0,366.7 488.0,366.7 489.0,366.7 490.0,366.7 491.0,366.7 492.0,366.7 493.0,366.7 494.0,366.7 495.0,366.7 496.0,366.7 497.0,366.7 498.0,366.7 499.0,366.7 500.0,366.7 501.0,366.7 502.0,366.7 503.0,366.7 504.0,366.7 505.0,366.7 506.0,366.7 507.0,366.7 508.0,366.7 509.0,366.7 510.0,366.7 511.0,366.7 512.0,366.7 513.0,366.7 514.0,366.7 515.0,366.7 516.0,366.7 517.0,366.7 518.0,366.7 519.0,366.7 520.0,366.7 521.0,366.7 522.0,366.7 523.0,366.7 524.0,366.7 525.0,366.7 526.0,366.7 527.0,366.7 528.0,366.7 529.0,366.7 530.0,366.7 531.0,366.7 532.0,366.7 533.0,366.7 534.0,366.7 535.0,366.7 536.0,366.7 537.0,366.7 538.0,366.7 539.0,366.7 540.0,366.7 541.0,366.7 542.0,366.7 543.0,366.7 544.0,366.7 545.0,366.7 546.0,366.7 547.0,366.7 548.0,366.7 549.0,366.7 550.0,366.7 551.0,366.7 552.0,366.7 553.0,366.7 554.0,366.7 555.0,366.7 556.0,366.7 557.0,366.7 558.0,366.7 559.0,366.7 560.0,366.7 561.0,366.7 562.0,366.7 563.0,366.7 564.0,366.7 565.0,366.7 566.0,366.7 567.0,366.7 568.0,366.7 569.0,366.7 570.0,366.7 571.0,366.7 572.0,366.7 573.0,366.7 574.0,366.7 575.0,366.7 576.0,366.7 577.0,366.7 578.0,366.7 579.0,366.7 580.0,366.7 581.0,366.7 582.0,366.7 583.0,366.7 584.0,366.7 585.0,366.7 586.0,366.7 587.0,366.7 588.0,366.7 589.0,366.7 590.0,366.7 591.0,366.7 592.0,366.7 593.0,366.7 594.0,366.7 595.0,366.7 596.0,366.7 597.0,366.7 598.0,366.7 599.0,366.7 600.0,366.7 601.0,366.7 602.0,366.7 603.0,366.7 604.0,366.7 605.0,366.7 606.0,366.7 607.0,366.7 608.0,366.7 609.0,366.7 610.0,366.7 611.0,366.7 612.0,366.7 613.0,366.7 614.0,366.7 615.0,366.7 616.0,366.7 617.0,366.7 618.0,366.7 619.0,366.7 620.0,366.7 621.0,366.7 622.0,366.7 623.0,366.7 624.0,366.7 625.0,366.7 626.0,366.7 627.0,366.7 628.0,366.7 629.0,366.7 630.0,366.7 631.0,366.7 632.0,366.7 633.0,366.7 634.0,366.7 635.0,366.7 636.0,366.7 637.0,366.7 638.0,366.7 639.0,366.7 640.0,366.7 641.0,366.7 642.0,366.7 643.0,366.7 644.0,366.7 645.0,366.7 646.0,366.7 647.0,366.7 648.0,366.7 649.0,366.7 650.0,366.7 651.0,366.7 652.0,366.7 653.0,366.7 654.0,366.7 655.0,366.7 656.0,366.7 657.0,366.7 658.0,366.7 659.0,366.7 660.0,366.7 661.0,366.7 662.0,366.7 663.0,366.7 664.0,366.7 665.0,366.7 666.0,366.7 667.0,366.7 668.0,366.7 669.0,366.7 670.0,366.7 671.0,366.7 672.0,366.7 673.0,366.7 674.0,366.7 675.0,366.7 676.0,366.7 677.0,366.7 678.0,366.7 679.0,366.7 680.0,366.7 681.0,366.7 682.0,366.7 683.0,366.7 684.0,366.7 685.0,366.7 686.0,366.7 687.0,366.7 688.0,366.7 689.0,366.7 690.0,366.7 691.0,366.7 692.0,366.7 693.0,366.7 694.0,366.7 695.0,366.7 696.0,366.7 697.0,366.7 698.0,366.7 699.0,366.7 700.0,366.7 701.0,366.7 702.0,366.7 703.0,366.7 704.0,366.7 705.0,366.7 706.0,366.7 707.0,366.7 708.0,366.7 709.0,366.7 710.0,366.7 711.0,366.7 712.0,366.7 713.0,366.7 714.0,366.7 715.0,366.7 716.0,366.7 717.0,366.7 718.0,366.7 719.0,366.7 720.0,366.7 721.0,366.7 722.0,366.7 723.0,366.7 724.0,366.7 725.0,366.7 726.0,366.7 727.0,366.7 728.0,366.7 729.0,366.7 730.0,366.7 731.0,366.7 732.0,366.7 733.0,366.7 734.0,366.7 735.0,366.7 736.0,366.7 737.0,366.7 738.0,366.7 739.0,366.7 740.0,366.7 741.0,366.7 742.0,366.7 743.0,366.7 744.0,366.7 745.0,366.7 746.0,366.7 747.0,366.7 748.0,366.7 749.0,366.7 750.0,366.7 751.0,366.7 752.0,366.7 753.0,366.7 754.0,366.7 755.0,366.7 756.0,366.7 757.0,366.7 758.0,366.7 759.0,366.7 760.0,366.7 761.0,366.7 762.0,366.7 763.0,366.7 764.0,366.7 765.0,366.7 766.0,366.7 767.0,366.7 768.0,366.7 769.0,366.7 770.0,366.7 771.0,366.7 772.0,366.7 773.0,366.7 774.0,366.7 775.0,366.7 776.0,366.7 777.0,366.7 778.0,366.7 779.0,366.7 780.0,366.7 781.0,366.7 782.0,366.7 783.0,366.7 784.0,366.7 785.0,366.7 786.0,366.7 787.0,366.7 788.0,366.7 789.0,366.7 790.0,366.7 791.0,366.7 792.0,366.7 793.0,366.7 794.0,366.7 795.0,366.7 796.0,366.7 797.0,366.7 798.0,366.7 799.0,366.7 800.0,366.7 801.0,366.7 802.0,366.7 803.0,366.7 804.0,366.7 805.0,366.7 806.0,366.7 807.0,366.7 808.0,366.7 809.0,366.7 810.0,366.7 811.0,366.7 812.0,366.7 813.0,366.7 814.0,366.7 815.0,366.7 816.0,366.7 817.0,366.7 818.0,366.7 819.0,366.7 820.0,366.7 821.0,366.7 822.0,366.7 823.0,366.7 824.0,366.7 825.0,366.7 826.0,366.7 827.0,366.7 828.0,366.7 829.0,366.7 830.0,366.7 831.0,366.7 832.0,366.7 833.0,366.7 834.0,366.7 835.0,366.7 836.0,366.7 837.0,366.7 838.0,366.7 839.0,366.7 840.0,366.7 841.0,366.7 842.0,366.7 843.0,366.7 844.0,366.7 845.0,366.7 846.0,366.7 847.0,366.7 848.0,366.7 849.0,366.7 850.0,366.7 851.0,366.7 852.0,366.7 853.0,366.7 854.0,366.7 855.0,366.7 856.0,366.7 857.0,366.7 858.0,366.7 859.0,366.7 860.0,366.7 861.0,366.7 862.0,366.7 863.0,366.7 864.0,366.7 865.0,366.7 866.0,366.7 867.0,366.7 868.0,366.7 869.0,366.7 870.0,366.7 871.0,366.7 872.0,366.7 873.0,366.7 874.0,366.7 875.0,366.7 876.0,366.7 877.0,366.7 878.0,366.7 879.0,366.7 880.0,366.7 881.0,366.7 882.0,366.7 883.0,366.7 884.0,366.7 885.0,366.7 886.0,366.7 887.0,366.7 888.0,366.7 889.0,366.7 890.0,366.7 891.0,366.7 892.0,366.7 893.0,366.7 894.0,366.7 895.0,366.7 896.0,366.7 897.0,366.7 898.0,366.7 899.0,366.7 900.0,366.7 901.0,366.7 902.0,366.7 903.0,366.7 904.0,366.7 905.0,366.7 906.0,366.7 907.0,366.7 908.0,366.7 909.0,366.7 910.0,366.7 911.0,366.7 912.0,366.7 913.0,366.7 914.0,366.7 915.0,366.7 916.0,366.7 917.0,366.7 918.0,366.7 919.0,366.7 920.0,366.7 921.0,366.7 922.0,366.7 923.0,366.7 924.0,366.7 925.0,366.7 926.0,366.7 927.0,366.7 928.0,366.7 929.0,366.7 930.0,366.7 931.0,366.7 932.0,366.7 933.0,366.7 934.0,366.7 935.0,366.7 936.0,366.7 937.0,366.7 938.0,366.7 939.0,366.7 940.0,366.7 941.0,366.7 942.0,366.7 943.0,366.7 944.0,366.7 945.0,366.7 946.0,366.7 947.0,366.7 948.0,366.7 949.0,366.7 950.0,366.7 951.0,366.7 952.0,366.7 953.0,366.7 954.0,366.7 955.0,366.7 956.0,366.7 957.0,366.7 958.0,366.7 959.0,366.7 960.0,366.7 961.0,366.7 962.0,366.7 963.0,366.7 964.0,366.7 965.0,366.7 966.0,366.7 967.0,366.7 968.0,366.7 969.0,366.7 970.0,366.7 971.0,366.7 972.0,366.7 973.0,366.7 974.0,366.7 975.0,366.7 976.0,366.7 977.0,366.7 978.0,366.7 979.0,366.7 980.0,366.7 981.0,366.7 982.0,366.7 983.0,366.7 984.0,366.7 985.0,366.7 986.0,366.7 987.0,366.7 988.0,366.7 989.0,366.7 990.0,366.7 991.0,366.7 992.0,366.7 993.0,366.7 994.0,366.7 995.0,366.7 996.0,366.7 997.0,366.7 998.0,366.7 999.0,366.7 1000.0,366.7 1001.0,366.7 1002.0,366.7 1003.0,366.7 1004.0,366.7 1005.0,366.7 1006.0,366.7 1007.0,366.7 1008.0,366.7 1009.0,366.7 1010.0,366.7 1011.0,366.7 1012.0,366.7 1013.0,366.7 1014.0,366.7 1015.0,366.7 1016.0,366.7 1017.0,366.7 1018.0,366.7 1019.0,366.7 1020.0,366.7 1021.0,366.7 1022.0,366.7 1023.0,366.7 1024.0,366.7 1025.0,366.7 1026.0,366.7 1027.0,366.7 1028.0,366.7 1029.0,366.7 1030.0,366.7 1031.0,366.7 1032.0,366.7 1033.0,366.7 1034.0,366.7 1035.0,366.7 1036.0,366.7 1037.0,366.7 1038.0,366.7 1039.0,366.7 1040.0,366.7 1041.0,366.7 1042.0,366.7 1043.0,366.7 1044.0,366.7 1045.0,366.7 1046.0,366.7 1047.0,366.7 1048.0,366.7 1049.0,366.7 1050.0,366.7 1051.0,366.7 1052.0,366.7 1053.0,366.7 1054.0,366.7 1055.0,366.7 1056.0,366.7 1057.0,366.7 1058.0,366.7 1059.0,366.7 1060.0,366.7 1061.0,366.7 1062.0,366.7 1063.0,366.7 1064.0,366.7 1065.0,366.7 1066.0,366.7 1067.0,366.7 1068.0,366.7 1069.0,366.7 1070.0,366.7 1071.0,366.7 1072.0,366.7 1073.0,366.7 1074.0,366.7 1075.0,366.7 1076.0,366.7 1077.0,366.7 1078.0,366.7 1079.0,366.7 1080.0,366.7 1081.0,366.7 1082.0,366.7 1083.0,366.7 1084.0,366.7 1085.0,366.7 1086.0,366.7 1087.0,366.7 1088.0,366.7 1089.0,366.7 1090.0,366.7 1091.0,366.7 1092.0,366.7 1093.0,366.7 1094.0,366.7 1095.0,366.7 1096.0,366.7 1097.0,366.7 1098.0,366.7 1099.0,366.7 1099.0,392.6" fill="#a7ddf6"/>
<polygon points="23.0,392.6 23.0,372.6 24.0,372.6 25.0,372.6 26.0,372.6 27.0,372.6 28.0,372.6 29.0,372.6 30.0,372.6 31.0,372.6 32.0,372.6 33.0,372.6 34.0,372.6 35.0,372.6 36.0,372.6 37.0,372.6 38.0,372.6 39.0,372.6 40.0,372.6 41.0,372.6 42.0,372.6 43.0,372.6 44.0,372.6 45.0,372.6 46.0,372.6 47.0,372.6 48.0,372.6 49.0,372.6 50.0,372.6 51.0,372.6 52.0,372.6 53.0,372.6 54.0,372.6 55.0,372.6 56.0,372.6 57.0,372.6 58.0,372.6 59.0,372.6 60.0,372.6 61.0,372.6 62.0,372.6 63.0,372.6 64.0,372.6 65.0,372.6 66.0,372.6 67.0,372.6 68.0,372.6 69.0,372.6 70.0,372.6 71.0,372.6 72.0,372.6 73.0,372.6 74.0,372.6 75.0,372.6 76.0,372.6 77.0,372.6 78.0,372.6 79.0,372.6 80.0,372.6 81.0,372.6 82.0,372.6 83.0,372.6 84.0,372.6 85.0,372.6 86.0,372.6 87.0,372.6 88.0,372.6 89.0,372.6 90.0,372.6 91.0,372.6 92.0,372.6 93.0,372.6 94.0,372.6 95.0,372.6 96.0,372.6 97.0,372.6 98.0,372.6 99.0,372.6 100.0,372.6 101.0,372.6 102.0,372.6 103.0,372.6 104.0,372.6 105.0,372.6 106.0,372.6 107.0,372.6 108.0,372.6 109.0,372.6 110.0,372.6 111.0,372.6 112.0,372.6 113.0,372.6 114.0,372.6 115.0,372.6 116.0,372.6 117.0,372.6 118.0,372.6 119.0,372.6 120.0,372.6 121.0,372.6 122.0,372.6 123.0,372.6 124.0,372.6 125.0,372.6 126.0,372.6 127.0,372.6 128.0,372.6 129.0,372.6 130.0,372.6 131.0,372.6 132.0,372.6 133.0,372.6 134.0,372.6 135.0,372.6 136.0,372.6 137.0,372.6 138.0,372.6 139.0,372.6 140.0,372.6 141.0,372.6 142.0,372.6 143.0,372.6 144.0,372.6 145.0,372.6 146.0,372.6 147.0,372.6 148.0,372.6 149.0,372.6 150.0,372.6 151.0,372.6 152.0,372.6 153.0,372.6 154.0,372.6 155.0,372.6 156.0,372.6 157.0,372.6 158.0,372.6 159.0,372.6 160.0,372.6 161.0,372.6 162.0,372.6 163.0,372.6 164.0,372.6 165.0,372.6 166.0,372.6 167.0,372.6 168.0,372.6 169.0,372.6 170.0,372.6 171.0,372.6 172.0,372.6 173.0,372.6 174.0,372.6 175.0,372.6 176.0,372.6 177.0,372.6 178.0,372.6 179.0,372.6 180.0,372.6 181.0,372.6 182.0,372.6 183.0,372.6 184.0,372.6 185.0,372.6 186.0,372.6 187.0,372.6 188.0,372.6 189.0,372.6 190.0,372.6 191.0,372.6 192.0,372.6 193.0,372.6 194.0,372.6 195.0,372.6 196.0,372.6 197.0,372.6 198.0,372.6 199.0,372.6 200.0,372.6 201.0,372.6 202.0,372.6 203.0,372.6 204.0,372.6 205.0,372.6 206.0,372.6 207.0,372.6 208.0,372.6 209.0,372.6 210.0,372.6 211.0,372.6 212.0,372.6 213.0,372.6 214.0,372.6 215.0,372.6 216.0,372.6 217.0,372.6 218.0,372.6 219.0,372.6 220.0,372.6 221.0,372.6 222.0,372.6 223.0,372.6 224.0,372.6 225.0,372.6 226.0,372.6 227.0,372.6 228.0,372.6 229.0,372.6 230.0,372.6 231.0,372.6 232.0,372.6 233.0,372.6 234.0,372.6 235.0,372.6 236.0,372.6 237.0,372.6 238.0,372.6 239.0,372.6 240.0,372.6 241.0,372.6 242.0,372.6 243.0,372.6 244.0,372.6 245.0,372.6 246.0,372.6 247.0,372.6 248.0,372.6 249.0,372.6 250.0,372.6 251.0,372.6 252.0,372.6 253.0,372.6 254.0,372.6 255.0,372.6 256.0,372.6 257.0,372.6 258.0,372.6 259.0,372.6 260.0,372.6 261.0,372.6 262.0,372.6 263.0,372.6 264.0,372.6 265.0,372.6 266.0,372.6 267.0,372.6 268.0,372.6 269.0,372.6 270.0,372.6 271.0,372.6 272.0,372.6 273.0,372.6 274.0,372.6 275.0,372.6 276.0,372.6 277.0,372.6 278.0,372.6 279.0,372.6 280.0,372.6 281.0,372.6 282.0,372.6 283.0,372.6 284.0,372.6 285.0,372.6 286.0,372.6 287.0,372.6 288.0,372.6 289.0,372.6 290.0,372.6 291.0,372.6 292.0,372.6 293.0,372.6 294.0,372.6 295.0,372.6 296.0,372.6 297.0,372.6 298.0,372.6 299.0,372.6 300.0,372.6 301.0,372.6 302.0,372.6 303.0,372.6 304.0,372.6 305.0,372.6 306.0,372.6 307.0,372.6 308.0,372.6 309.0,372.6 310.0,372.6 311.0,372.6 312.0,372.6 313.0,372.6 314.0,372.6 315.0,372.6 316.0,372.6 317.0,372.6 318.0,372.6 319.0,372.6 320.0,372.6 321.0,372.6 322.0,372.6 323.0,372.6 324.0,372.6 325.0,372.6 326.0,372.6 327.0,372.6 328.0,372.6 329.0,372.6 330.0,372.6 331.0,372.6 332.0,372.6 333.0,372.6 334.0,372.6 335.0,372.6 336.0,372.6 337.0,372.6 338.0,372.6 339.0,372.6 340.0,372.6 341.0,372.6 342.0,372.6 343.0,372.6 344.0,372.6 345.0,372.6 346.0,372.6 347.0,372.6 348.0,372.6 349.0,372.6 350.0,372.6 351.0,372.6 352.0,372.6 353.0,372.6 354.0,372.6 355.0,372.6 356.0,372.6 357.0,372.6 358.0,372.6 359.0,372.6 360.0,372.6 361.0,372.6 362.0,372.6 363.0,372.6 364.0,372.6 365.0,372.6 366.0,372.6 367.0,372.6 368.0,372.6 369.0,372.6 370.0,372.6 371.0,372.6 372.0,372.6 373.0,372.6 374.0,372.6 375.0,372.6 376.0,372.6 377.0,372.6 378.0,372.6 379.0,372.6 380.0,372.6 381.0,372.6 382.0,372.6 383.0,372.6 384.0,372.6 385.0,372.6 386.0,372.6 387.0,372.6 388.0,372.6 389.0,372.6 390.0,372.6 391.0,372.6 392.0,372.6 393.0,372.6 394.0,372.6 395.0,372.6 396.0,372.6 397.0,372.6 398.0,372.6 399.0,372.6 400.0,372.6 401.0,372.6 402.0,372.6 403.0,372.6 404.0,372.6 405.0,372.6 406.0,372.6 407.0,372.6 408.0,372.6 409.0,372.6 410.0,372.6 411.0,372.6 412.0,372.6 413.0,372.6 414.0,372.6 415.0,372.6 416.0,372.6 417.0,372.6 418.0,372.6 419.0,372.6 420.0,372.6 421.0,372.6 422.0,372.6 423.0,372.6 424.0,372.6 425.0,372.6 426.0,372.6 427.0,372.6 428.0,372.6 429.0,372.6 430.0,372.6 431.0,372.6 432.0,372.6 433.0,372.6 434.0,372.6 435.0,372.6 436.0,372.6 437.0,372.6 438.0,372.6 439.0,372.6 440.0,372.6 441.0,372.6 442.0,372.6 443.0,372.6 444.0,372.6 445.0,372.6 446.0,372.6 447.0,372.6 448.0,372.6 449.0,372.6 450.0,372.6 451.0,372.6 452.0,372.6 453.0,372.6 454.0,372.6 455.0,372.6 456.0,372.6 457.0,372.6 458.0,372.6 459.0,372.6 460.0,372.6 461.0,372.6 462.0,372.6 463.0,372.6 464.0,372.6 465.0,372.6 466.0,372.6 467.0,372.6 468.0,372.6 469.0,372.6 470.0,372.6 471.0,372.6 472.0,372.6 473.0,372.6 474.0,372.6 475.0,372.6 476.0,372.6 477.0,372.6 478.0,372.6 479.0,372.6 480.0,372.6 481.0,372.6 482.0,372.6 483.0,372.6 484.0,372.6 485.0,372.6 486.0,372.6 487.0,372.6 488.0,372.6 489.0,372.6 490.0,372.6 491.0,372.6 492.0,372.6 493.0,372.6 494.0,372.6 495.0,372.6 496.0,372.6 497.0,372.6 498.0,372.6 499.0,372.6 500.0,372.6 501.0,372.6 502.0,372.6 503.0,372.6 504.0,372.6 505.0,372.6 506.0,372.6 507.0,372.6 508.0,372.6 509.0,372.6 510.0,372.6 511.0,372.6 512.0,372.6 513.0,372.6 514.0,372.6 515.0,372.6 516.0,372.6 517.0,372.6 518.0,372.6 519.0,372.6 520.0,372.6 521.0,372.6 522.0,372.6 523.0,372.6 524.0,372.6 525.0,372.6 526.0,372.6 527.0,372.6 528.0,372.6 529.0,372.6 530.0,372.6 531.0,372.6 532.0,372.6 533.0,372.6 534.0,372.6 535.0,372.6 536.0,372.6 537.0,372.6 538.0,372.6 539.0,372.6 540.0,372.6 541.0,372.6 542.0,372.6 543.0,372.6 544.0,372.6 545.0,372.6 546.0,372.6 547.0,372.6 548.0,372.6 549.0,372.6 550.0,372.6 551.0,372.6 552.0,372.6 553.0,372.6 554.0,372.6 555.0,372.6 556.0,372.6 557.0,372.6 558.0,372.6 559.0,372.6 560.0,372.6 561.0,372.6 562.0,372.6 563.0,372.6 564.0,372.6 565.0,372.6 566.0,372.6 567.0,372.6 568.0,372.6 569.0,372.6 570.0,372.6 571.0,372.6 572.0,372.6 573.0,372.6 574.0,372.6 575.0,372.6 576.0,372.6 577.0,372.6 578.0,372.6 579.0,372.6 580.0,372.6 581.0,372.6 582.0,372.6 583.0,372.6 584.0,372.6 585.0,372.6 586.0,372.6 587.0,372.6 588.0,372.6 589.0,372.6 590.0,372.6 591.0,372.6 592.0,372.6 593.0,372.6 594.0,372.6 595.0,372.6 596.0,372.6 597.0,372.6 598.0,372.6 599.0,372.6 600.0,372.6 601.0,372.6 602.0,372.6 603.0,372.6 604.0,372.6 605.0,372.6 606.0,372.6 607.0,372.6 608.0,372.6 609.0,372.6 610.0,372.6 611.0,372.6 612.0,372.6 613.0,372.6 614.0,372.6 615.0,372.6 616.0,372.6 617.0,372.6 618.0,372.6 619.0,372.6 620.0,372.6 621.0,372.6 622.0,372.6 623.0,372.6 624.0,372.6 625.0,372.6 626.0,372.6 627.0,372.6 628.0,372.6 629.0,372.6 630.0,372.6 631.0,372.6 632.0,372.6 633.0,372.6 634.0,372.6 635.0,372.6 636.0,372.6 637.0,372.6 638.0,372.6 639.0,372.6 640.0,372.6 641.0,372.6 642.0,372.6 643.0,372.6 644.0,372.6 645.0,372.6 646.0,372.6 647.0,372.6 648.0,372.6 649.0,372.6 650.0,372.6 651.0,372.6 652.0,372.6 653.0,372.6 654.0,372.6 655.0,372.6 656.0,372.6 657.0,372.6 658.0,372.6 659.0,372.6 660.0,372.6 661.0,372.6 662.0,372.6 663.0,372.6 664.0,372.6 665.0,372.6 666.0,372.6 667.0,372.6 668.0,372.6 669.0,372.6 670.0,372.6 671.0,372.6 672.0,372.6 673.0,372.6 674.0,372.6 675.0,372.6 676.0,372.6 677.0,372.6 678.0,372.6 679.0,372.6 680.0,372.6 681.0,372.6 682.0,372.6 683.0,372.6 684.0,372.6 685.0,372.6 686.0,372.6 687.0,372.6 688.0,372.6 689.0,372.6 690.0,372.6 691.0,372.6 692.0,372.6 693.0,372.6 694.0,372.6 695.0,372.6 696.0,372.6 697.0,372.6 698.0,372.6 699.0,372.6 700.0,372.6 701.0,372.6 702.0,372.6 703.0,372.6 704.0,372.6 705.0,372.6 706.0,372.6 707.0,372.6 708.0,372.6 709.0,372.6 710.0,372.6 711.0,372.6 712.0,372.6 713.0,372.6 714.0,372.6 715.0,372.6 716.0,372.6 717.0,372.6 718.0,372.6 719.0,372.6 720.0,372.6 721.0,372.6 722.0,372.6 723.0,372.6 724.0,372.6 725.0,372.6 726.0,372.6 727.0,372.6 728.0,372.6 729.0,372.6 730.0,372.6 731.0,372.6 732.0,372.6 733.0,372.6 734.0,372.6 735.0,372.6 736.0,372.6 737.0,372.6 738.0,372.6 739.0,372.6 740.0,372.6 741.0,372.6 742.0,372.6 743.0,372.6 744.0,372.6 745.0,372.6 746.0,372.6 747.0,372.6 748.0,372.6 749.0,372.6 750.0,372.6 751.0,372.6 752.0,372.6 753.0,372.6 754.0,372.6 755.0,372.6 756.0,372.6 757.0,372.6 758.0,372.6 759.0,372.6 760.0,372.6 761.0,372.6 762.0,372.6 763.0,372.6 764.0,372.6 765.0,372.6 766.0,372.6 767.0,372.6 768.0,372.6 769.0,372.6 770.0,372.6 771.0,372.6 772.0,372.6 773.0,372.6 774.0,372.6 775.0,372.6 776.0,372.6 777.0,372.6 778.0,372.6 779.0,372.6 780.0,372.6 781.0,372.6 782.0,372.6 783.0,372.6 784.0,372.6 785.0,372.6 786.0,372.6 787.0,372.6 788.0,372.6 789.0,372.6 790.0,372.6 791.0,372.6 792.0,372.6 793.0,372.6 794.0,372.6 795.0,372.6 796.0,372.6 797.0,372.6 798.0,372.6 799.0,372.6 800.0,372.6 801.0,372.6 802.0,372.6 803.0,372.6 804.0,372.6 805.0,372.6 806.0,372.6 807.0,372.6 808.0,372.6 809.0,372.6 810.0,372.6 811.0,372.6 812.0,372.6 813.0,372.6 814.0,372.6 815.0,372.6 816.0,372.6 817.0,372.6 818.0,372.6 819.0,372.6 820.0,372.6 821.0,372.6 822.0,372.6 823.0,372.6 824.0,372.6 825.0,372.6 826.0,372.6 827.0,372.6 828.0,372.6 829.0,372.6 830.0,372.6 831.0,372.6 832.0,372.6 833.0,372.6 834.0,372.6 835.0,372.6 836.0,372.6 837.0,372.6 838.0,372.6 839.0,372.6 840.0,372.6 841.0,372.6 842.0,372.6 843.0,372.6 844.0,372.6 845.0,372.6 846.0,372.6 847.0,372.6 848.0,372.6 849.0,372.6 850.0,372.6 851.0,372.6 852.0,372.6 853.0,372.6 854.0,372.6 855.0,372.6 856.0,372.6 857.0,372.6 858.0,372.6 859.0,372.6 860.0,372.6 861.0,372.6 862.0,372.6 863.0,372.6 864.0,372.6 865.0,372.6 866.0,372.6 867.0,372.6 868.0,372.6 869.0,372.6 870.0,372.6 871.0,372.6 872.0,372.6 873.0,372.6 874.0,372.6 875.0,372.6 876.0,372.6 877.0,372.6 878.0,372.6 879.0,372.6 880.0,372.6 881.0,372.6 882.0,372.6 883.0,372.6 884.0,372.6 885.0,372.6 886.0,372.6 887.0,372.6 888.0,372.6 889.0,372.6 890.0,372.6 891.0,372.6 892.0,372.6 893.0,372.6 894.0,372.6 895.0,372.6 896.0,372.6 897.0,372.6 898.0,372.6 899.0,372.6 900.0,372.6 901.0,372.6 902.0,372.6 903.0,372.6 904.0,372.6 905.0,372.6 906.0,372.6 907.0,372.6 908.0,372.6 909.0,372.6 910.0,372.6 911.0,372.6 912.0,372.6 913.0,372.6 914.0,372.6 915.0,372.6 916.0,372.6 917.0,372.6 918.0,372.6 919.0,372.6 920.0,372.6 921.0,372.6 922.0,372.6 923.0,372.6 924.0,372.6 925.0,372.6 926.0,372.6 927.0,372.6 928.0,372.6 929.0,372.6 930.0,372.6 931.0,372.6 932.0,372.6 933.0,372.6 934.0,372.6 935.0,372.6 936.0,372.6 937.0,372.6 938.0,372.6 939.0,372.6 940.0,372.6 941.0,372.6 942.0,372.6 943.0,372.6 944.0,372.6 945.0,372.6 946.0,372.6 947.0,372.6 948.0,372.6 949.0,372.6 950.0,372.6 951.0,372.6 952.0,372.6 953.0,372.6 954.0,372.6 955.0,372.6 956.0,372.6 957.0,372.6 958.0,372.6 959.0,372.6 960.0,372.6 961.0,372.6 962.0,372.6 963.0,372.6 964.0,372.6 965.0,372.6 966.0,372.6 967.0,372.6 968.0,372.6 969.0,372.6 970.0,372.6 971.0,372.6 972.0,372.6 973.0,372.6 974.0,372.6 975.0,372.6 976.0,372.6 977.0,372.6 978.0,372.6 979.0,372.6 980.0,372.6 981.0,372.6 982.0,372.6 983.0,372.6 984.0,372.6 985.0,372.6 986.0,372.6 987.0,372.6 988.0,372.6 989.0,372.6 990.0,372.6 991.0,372.6 992.0,372.6 993.0,372.6 994.0,372.6 995.0,372.6 996.0,372.6 997.0,372.6 998.0,372.6 999.0,372.6 1000.0,372.6 1001.0,372.6 1002.0,372.6 1003.0,372.6 1004.0,372.6 1005.0,372.6 1006.0,372.6 1007.0,372.6 1008.0,372.6 1009.0,372.6 1010.0,372.6 1011.0,372.6 1012.0,372.6 1013.0,372.6 1014.0,372.6 1015.0,372.6 1016.0,372.6 1017.0,372.6 1018.0,372.6 1019.0,372.6 1020.0,372.6 1021.0,372.6 1022.0,372.6 1023.0,372.6 1024.0,372.6 1025.0,372.6 1026.0,372.6 1027.0,372.6 1028.0,372.6 1029.0,372.6 1030.0,372.6 1031.0,372.6 1032.0,372.6 1033.0,372.6 1034.0,372.6 1035.0,372.6 1036.0,372.6 1037.0,372.6 1038.0,372.6 1039.0,372.6 1040.0,372.6 1041.0,372.6 1042.0,372.6 1043.0,372.6 1044.0,372.6 1045.0,372.6 1046.0,372.6 1047.0,372.6 1048.0,372.6 1049.0,372.6 1050.0,372.6 1051.0,372.6 1052.0,372.6 1053.0,372.6 1054.0,372.6 1055.0,372.6 1056.0,372.6 1057.0,372.6 1058.0,372.6 1059.0,372.6 1060.0,372.6 1061.0,372.6 1062.0,372.6 1063.0,372.6 1064.0,372.6 1065.0,372.6 1066.0,372.6 1067.0,372.6 1068.0,372.6 1069.0,372.6 1070.0,372.6 1071.0,372.6 1072.0,372.6 1073.0,372.6 1074.0,372.6 1075.0,372.6 1076.0,372.6 1077.0,372.6 1078.0,372.6 1079.0,372.6 1080.0,372.6 1081.0,372.6 1082.0,372.6 1083.0,372.6 1084.0,372.6 1085.0,372.6 1086.0,372.6 1087.0,372.6 1088.0,372.6 1089.0,372.6 1090.0,372.6 1091.0,372.6 1092.0,372.6 1093.0,372.6 1094.0,372.6 1095.0,372.6 1096.0,372.6 1097.0,372.6 1098.0,372.6 1099.0,372.6 1099.0,392.6" fill="#4caf50"/>
<polyline points="23.0,296.4 24.0,295.3 25.0,293.6 26.0,291.9 27.0,290.2 28.0,288.9 29.0,287.9 30.0,286.9 31.0,285.9 32.0,284.9 33.0,284.4 34.0,284.1 35.0,283.9 36.0,283.6 37.0,283.4 38.0,283.1 39.0,282.9 40.0,282.6 41.0,282.2 42.0,281.8 43.0,281.5 44.0,281.1 45.0,280.7 46.0,280.5 47.0,280.2 48.0,280.0 49.0,278.6 50.0,275.8 51.0,273.0 52.0,270.3 53.0,266.8 54.0,263.1 55.0,259.4 56.0,255.6 57.0,251.0 58.0,246.4 59.0,242.1 60.0,237.9 61.0,233.7 62.0,229.5 63.0,223.0 64.0,216.4 65.0,209.9 66.0,203.6 67.0,198.3 68.0,192.9 69.0,187.6 70.0,184.0 71.0,182.1 72.0,180.2 73.0,178.4 74.0,178.0 75.0,178.0 76.0,178.0 77.0,178.6 78.0,179.2 79.0,179.8 80.0,182.0 81.0,185.4 82.0,188.7 83.0,192.1 84.0,194.5 85.0,196.8 86.0,199.1 87.0,201.4 88.0,203.4 89.0,205.4 90.0,207.4 91.0,209.9 92.0,212.9 93.0,216.0 94.0,219.0 95.0,223.5 96.0,228.5 97.0,233.2 98.0,237.4 99.0,241.6 100.0,245.1 101.0,248.6 102.0,252.0 103.0,255.7 104.0,259.3 105.0,263.0 106.0,261.3 107.0,257.3 108.0,253.9 109.0,250.6 110.0,247.2 111.0,245.3 112.0,243.9 113.0,242.6 114.0,241.2 115.0,241.2 116.0,241.2 117.0,241.2 118.0,241.5 119.0,242.5 120.0,243.5 121.0,244.5 122.0,245.5 123.0,246.5 124.0,247.5 125.0,248.5 126.0,249.5 127.0,250.5 128.0,251.5 129.0,252.5 130.0,253.5 131.0,254.5 132.0,255.7 133.0,257.0 134.0,258.2 135.0,259.5 136.0,260.7 137.0,261.8 138.0,262.8 139.0,263.8 140.0,264.8 141.0,265.6 142.0,266.2 143.0,266.5 144.0,266.8 145.0,267.1 146.0,267.4 147.0,267.6 148.0,267.6 149.0,267.5 150.0,267.4 151.0,267.2 152.0,268.0 153.0,263.5 154.0,261.5 155.0,259.4 156.0,257.4 157.0,255.4 158.0,252.7 159.0,249.7 160.0,246.7 161.0,243.7 162.0,240.9 163.0,236.2 164.0,230.8 165.0,225.8 166.0,221.9 167.0,217.9 168.0,213.9 169.0,210.0 170.0,206.7 171.0,205.2 172.0,203.7 173.0,202.2 174.0,200.7 175.0,199.5 176.0,198.9 177.0,198.2 178.0,197.5 179.0,197.3 180.0,197.3 181.0,197.3 182.0,197.3 183.0,197.3 184.0,198.0 185.0,199.0 186.0,200.0 187.0,201.0 188.0,205.0 189.0,208.9 190.0,214.0 191.0,220.2 192.0,226.3 193.0,231.8 194.0,237.2 195.0,242.0 196.0,246.7 197.0,252.4 198.0,258.0 199.0,265.3 200.0,272.7 201.0,280.1 202.0,287.5 203.0,295.0 204.0,306.4 205.0,315.5 206.0,323.4 207.0,326.4 208.0,325.8 209.0,324.8 210.0,323.8 211.0,323.0 212.0,322.1 213.0,321.3 214.0,320.5 215.0,319.7 216.0,318.8 217.0,318.0 218.0,318.3 219.0,318.7 220.0,319.0 221.0,319.3 222.0,319.6 223.0,320.0 224.0,320.3 225.0,321.0 226.0,321.6 227.0,322.3 228.0,323.0 229.0,323.7 230.0,324.3 231.0,324.9 232.0,325.5 233.0,326.0 234.0,326.5 235.0,327.0 236.0,327.5 237.0,328.0 238.0,328.5 239.0,329.0 240.0,329.5 241.0,329.9 242.0,330.3 243.0,330.7 244.0,331.1 245.0,331.4 246.0,331.8 247.0,332.2 248.0,332.6 249.0,332.9 250.0,333.4 251.0,334.1 252.0,334.7 253.0,335.4 254.0,336.0 255.0,332.0 256.0,328.6 257.0,325.3 258.0,322.0 259.0,319.3 260.0,316.5 261.0,313.8 262.0,311.1 263.0,306.6 264.0,300.8 265.0,295.0 266.0,287.5 267.0,280.1 268.0,274.1 269.0,269.1 270.0,264.1 271.0,259.1 272.0,255.5 273.0,252.1 274.0,248.2 275.0,243.8 276.0,239.4 277.0,238.2 278.0,236.9 279.0,235.7 280.0,234.4 281.0,235.1 282.0,235.8 283.0,236.4 284.0,237.5 285.0,239.5 286.0,241.5 287.0,243.5 288.0,245.7 289.0,247.9 290.0,250.3 291.0,253.8 292.0,257.2 293.0,260.9 294.0,264.6 295.0,268.4 296.0,272.2 297.0,276.0 298.0,280.6 299.0,285.6 300.0,290.7 301.0,295.7 302.0,303.2 303.0,310.6 304.0,316.3 305.0,322.1 306.0,327.3 307.0,332.0 308.0,336.7 309.0,336.0 310.0,332.9 311.0,330.4 312.0,328.0 313.0,325.7 314.0,323.4 315.0,321.1 316.0,318.7 317.0,316.4 318.0,315.2 319.0,314.4 320.0,313.7 321.0,312.9 322.0,312.2 323.0,311.5 324.0,310.7 325.0,310.0 326.0,309.2 327.0,308.6 328.0,308.2 329.0,307.8 330.0,307.4 331.0,307.0 332.0,306.6 333.0,306.1 334.0,305.7 335.0,305.3 336.0,304.9 337.0,304.5 338.0,304.1 339.0,304.2 340.0,304.6 341.0,304.9 342.0,305.2 343.0,305.5 344.0,305.9 345.0,306.2 346.0,306.5 347.0,306.9 348.0,307.2 349.0,307.6 350.0,307.9 351.0,308.3 352.0,308.6 353.0,310.1 354.0,312.1 355.0,314.0 356.0,316.0 357.0,318.0 358.0,321.0 359.0,324.0 360.0,326.9 361.0,329.9 362.0,320.0 363.0,315.2 364.0,310.5 365.0,299.3 366.0,290.5 367.0,283.1 368.0,276.1 369.0,271.1 370.0,266.1 371.0,261.1 372.0,257.4 373.0,254.9 374.0,252.5 375.0,250.0 376.0,247.9 377.0,245.8 378.0,244.1 379.0,243.3 380.0,242.6 381.0,241.8 382.0,241.1 383.0,240.9 384.0,241.6 385.0,242.4 386.0,243.1 387.0,243.9 388.0,245.2 389.0,247.5 390.0,249.8 391.0,254.5 392.0,260.0 393.0,265.7 394.0,271.4 395.0,277.1 396.0,283.1 397.0,289.1 398.0,295.1 399.0,302.5 400.0,310.0 401.0,314.1 402.0,318.1 403.0,322.2 404.0,326.3 405.0,330.6 406.0,335.0 407.0,339.3 408.0,343.6 409.0,347.9 410.0,352.3 411.0,357.5 412.0,357.0 413.0,356.5 414.0,356.0 415.0,355.5 416.0,355.0 417.0,354.5 418.0,354.0 419.0,353.5 420.0,353.0 421.0,352.5 422.0,352.0 423.0,351.5 424.0,351.0 425.0,350.5 426.0,350.0 427.0,349.5 428.0,349.0 429.0,348.5 430.0,348.1 431.0,347.9 432.0,347.6 433.0,347.4 434.0,347.1 435.0,346.9 436.0,346.6 437.0,346.4 438.0,346.1 439.0,345.9 440.0,345.6 441.0,345.4 442.0,345.1 443.0,344.9 444.0,344.6 445.0,344.3 446.0,344.0 447.0,343.7 448.0,343.4 449.0,343.1 450.0,342.8 451.0,342.5 452.0,342.2 453.0,341.9 454.0,341.6 455.0,341.3 456.0,341.8 457.0,342.3 458.0,338.1 459.0,333.6 460.0,329.1 461.0,324.5 462.0,320.0 463.0,317.4 464.0,314.7 465.0,312.1 466.0,308.8 467.0,302.9 468.0,296.9 469.0,290.9 470.0,284.9 471.0,278.9 472.0,272.9 473.0,267.0 474.0,261.0 475.0,254.6 476.0,248.8 477.0,245.0 478.0,241.1 479.0,237.2 480.0,234.3 481.0,231.9 482.0,229.6 483.0,227.2 484.0,226.1 485.0,225.1 486.0,224.1 487.0,223.6 488.0,224.9 489.0,226.2 490.0,227.5 491.0,229.5 492.0,232.2 493.0,234.9 494.0,237.6 495.0,240.7 496.0,243.9 497.0,247.1 498.0,250.7 499.0,257.9 500.0,264.0 501.0,269.9 502.0,275.9 503.0,281.9 504.0,287.9 505.0,293.9 506.0,298.4 507.0,302.3 508.0,306.1 509.0,310.0 510.0,315.0 511.0,320.0 512.0,324.7 513.0,329.4 514.0,330.8 515.0,330.8 516.0,330.8 517.0,330.8 518.0,330.8 519.0,330.9 520.0,331.1 521.0,331.2 522.0,331.3 523.0,331.4 524.0,331.6 525.0,331.7 526.0,331.8 527.0,332.0 528.0,332.4 529.0,332.9 530.0,333.4 531.0,333.9 532.0,334.4 533.0,334.8 534.0,335.3 535.0,335.8 536.0,336.3 537.0,336.9 538.0,337.5 539.0,338.1 540.0,338.7 541.0,339.3 542.0,339.9 543.0,340.5 544.0,341.1 545.0,341.7 546.0,342.3 547.0,342.9 548.0,343.5 549.0,344.2 550.0,344.9 551.0,345.6 552.0,346.3 553.0,347.0 554.0,347.6 555.0,348.3 556.0,349.0 557.0,349.7 558.0,350.4 559.0,351.1 560.0,351.8 561.0,352.4 562.0,352.4 563.0,344.8 564.0,339.9 565.0,334.9 566.0,330.0 567.0,324.9 568.0,319.7 569.0,314.6 570.0,308.8 571.0,296.9 572.0,291.2 573.0,286.1 574.0,281.1 575.0,276.4 576.0,272.7 577.0,269.0 578.0,265.3 579.0,261.6 580.0,257.2 581.0,250.0 582.0,245.6 583.0,243.6 584.0,242.6 585.0,241.6 586.0,240.6 587.0,240.9 588.0,241.2 589.0,241.6 590.0,242.2 591.0,243.6 592.0,244.9 593.0,246.3 594.0,247.8 595.0,249.5 596.0,252.1 597.0,263.0 598.0,273.8 599.0,280.6 600.0,285.6 601.0,290.7 602.0,295.7 603.0,301.4 604.0,307.1 605.0,311.4 606.0,314.1 607.0,316.8 608.0,319.5 609.0,322.3 610.0,325.0 611.0,327.3 612.0,329.7 613.0,332.0 614.0,334.3 615.0,336.7 616.0,339.0 617.0,344.3 618.0,343.8 619.0,343.2 620.0,342.5 621.0,341.8 622.0,341.0 623.0,340.3 624.0,339.6 625.0,338.9 626.0,338.2 627.0,337.9 628.0,338.2 629.0,338.5 630.0,338.8 631.0,339.1 632.0,339.4 633.0,339.7 634.0,340.0 635.0,340.3 636.0,340.8 637.0,341.3 638.0,341.8 639.0,342.3 640.0,342.8 641.0,343.3 642.0,343.8 643.0,344.3 644.0,344.7 645.0,345.1 646.0,345.5 647.0,345.8 648.0,346.1 649.0,346.5 650.0,346.8 651.0,347.1 652.0,347.5 653.0,347.8 654.0,348.1 655.0,348.4 656.0,348.6 657.0,348.9 658.0,349.2 659.0,349.5 660.0,349.7 661.0,350.0 662.0,350.3 663.0,347.0 664.0,342.6 665.0,338.2 666.0,333.8 667.0,329.4 668.0,325.0 669.0,320.5 670.0,315.9 671.0,311.4 672.0,301.7 673.0,292.0 674.0,284.5 675.0,277.1 676.0,272.1 677.0,267.1 678.0,262.1 679.0,257.8 680.0,255.0 681.0,252.2 682.0,249.4 683.0,246.4 684.0,243.8 685.0,242.1 686.0,240.4 687.0,238.8 688.0,238.1 689.0,238.1 690.0,238.1 691.0,238.1 692.0,239.6 693.0,241.3 694.0,243.0 695.0,244.8 696.0,247.0 697.0,249.3 698.0,253.2 699.0,257.7 700.0,262.3 701.0,269.4 702.0,276.5 703.0,283.3 704.0,289.8 705.0,296.3 706.0,302.0 707.0,307.7 708.0,312.0 709.0,315.2 710.0,318.5 711.0,321.7 712.0,325.0 713.0,329.2 714.0,333.5 715.0,337.8 716.0,342.0 717.0,345.0 718.0,347.9 719.0,350.9 720.0,349.7 721.0,348.6 722.0,347.5 723.0,346.3 724.0,344.9 725.0,343.5 726.0,342.0 727.0,340.5 728.0,339.0 729.0,337.5 730.0,336.0 731.0,334.5 732.0,333.0 733.0,331.8 734.0,331.2 735.0,330.6 736.0,329.9 737.0,329.3 738.0,328.7 739.0,328.1 740.0,327.4 741.0,326.8 742.0,326.2 743.0,326.2 744.0,326.2 745.0,326.2 746.0,326.2 747.0,326.2 748.0,326.2 749.0,326.2 750.0,326.2 751.0,326.2 752.0,326.5 753.0,326.8 754.0,327.2 755.0,327.6 756.0,327.9 757.0,328.3 758.0,328.7 759.0,329.1 760.0,329.4 761.0,330.0 762.0,329.3 763.0,327.5 764.0,325.7 765.0,323.8 766.0,322.0 767.0,319.9 768.0,317.8 769.0,315.7 770.0,313.6 771.0,311.5 772.0,308.8 773.0,305.0 774.0,301.1 775.0,297.2 776.0,293.5 777.0,289.7 778.0,286.0 779.0,282.3 780.0,278.6 781.0,274.8 782.0,271.1 783.0,267.3 784.0,263.5 785.0,259.7 786.0,254.0 787.0,248.6 788.0,245.2 789.0,241.8 790.0,240.6 791.0,239.4 792.0,238.2 793.0,238.8 794.0,239.6 795.0,240.4 796.0,242.0 797.0,243.7 798.0,245.4 799.0,247.3 800.0,250.4 801.0,253.6 802.0,256.7 803.0,260.5 804.0,265.4 805.0,270.3 806.0,275.2 807.0,280.1 808.0,285.1 809.0,290.2 810.0,295.2 811.0,306.4 812.0,312.8 813.0,316.9 814.0,320.9 815.0,325.0 816.0,327.9 817.0,330.9 818.0,333.8 819.0,336.2 820.0,335.4 821.0,334.4 822.0,333.2 823.0,331.8 824.0,330.3 825.0,328.8 826.0,327.3 827.0,325.8 828.0,324.3 829.0,322.8 830.0,321.3 831.0,319.5 832.0,317.6 833.0,315.5 834.0,313.5 835.0,311.4 836.0,309.3 837.0,307.3 838.0,305.2 839.0,303.1 840.0,301.0 841.0,298.7 842.0,296.3 843.0,294.0 844.0,291.6 845.0,289.3 846.0,287.8 847.0,286.3 848.0,284.8 849.0,283.3 850.0,281.9 851.0,280.8 852.0,279.7 853.0,278.6 854.0,277.5 855.0,276.4 856.0,275.3 857.0,275.5 858.0,275.9 859.0,276.3 860.0,276.7 861.0,277.0 862.0,277.1 863.0,277.1 864.0,277.1 865.0,273.3 866.0,269.0 867.0,264.7 868.0,260.3 869.0,256.9 870.0,254.1 871.0,251.3 872.0,248.6 873.0,246.7 874.0,245.0 875.0,242.4 876.0,238.5 877.0,234.6 878.0,230.7 879.0,226.0 880.0,221.0 881.0,215.9 882.0,210.9 883.0,206.7 884.0,202.4 885.0,198.2 886.0,194.3 887.0,191.6 888.0,188.9 889.0,186.2 890.0,184.4 891.0,184.4 892.0,186.9 893.0,189.4 894.0,192.6 895.0,195.9 896.0,199.3 897.0,202.6 898.0,205.2 899.0,207.9 900.0,210.6 901.0,213.0 902.0,215.0 903.0,217.0 904.0,219.0 905.0,222.4 906.0,226.3 907.0,229.1 908.0,227.1 909.0,225.1 910.0,225.9 911.0,227.9 912.0,230.0 913.0,232.0 914.0,234.0 915.0,236.2 916.0,238.5 917.0,240.7 918.0,243.0 919.0,245.3 920.0,247.1 921.0,247.7 922.0,248.2 923.0,248.9 924.0,250.5 925.0,252.2 926.0,253.8 927.0,255.6 928.0,257.6 929.0,259.7 930.0,261.5 931.0,263.2 932.0,264.6 933.0,265.9 934.0,267.0 935.0,268.0 936.0,268.7 937.0,269.5 938.0,270.2 939.0,271.1 940.0,272.8 941.0,274.6 942.0,276.3 943.0,278.0 944.0,279.7 945.0,281.3 946.0,282.8 947.0,284.3 948.0,285.8 949.0,287.1 950.0,288.2 951.0,289.2 952.0,290.1 953.0,291.1 954.0,292.0 955.0,292.8 956.0,293.6 957.0,294.4 958.0,295.1 959.0,295.8 960.0,296.3 961.0,296.8 962.0,297.3 963.0,297.8 964.0,298.3 965.0,299.0 966.0,299.7 967.0,300.3 968.0,301.9 969.0,298.6 970.0,296.0 971.0,293.5 972.0,289.3 973.0,284.9 974.0,280.6 975.0,275.6 976.0,268.2 977.0,260.8 978.0,255.9 979.0,252.0 980.0,248.7 981.0,246.2 982.0,243.7 983.0,240.9 984.0,237.8 985.0,235.5 986.0,234.8 987.0,234.1 988.0,233.5 989.0,233.6 990.0,234.2 991.0,234.8 992.0,235.4 993.0,236.1 994.0,235.8 995.0,235.0 996.0,234.1 997.0,233.3 998.0,233.0 999.0,232.7 1000.0,232.4 1001.0,232.2 1002.0,231.9 1003.0,232.9 1004.0,233.9 1005.0,234.9 1006.0,235.9 1007.0,236.9 1008.0,238.9 1009.0,240.9 1010.0,242.9 1011.0,245.2 1012.0,248.2 1013.0,251.9 1014.0,256.7 1015.0,261.6 1016.0,266.6 1017.0,271.6 1018.0,276.6 1019.0,283.8 1020.0,291.2 1021.0,300.5 1022.0,310.9 1023.0,315.5 1024.0,317.8 1025.0,318.5 1026.0,319.3 1027.0,318.4 1028.0,315.8 1029.0,311.4 1030.0,310.5 1031.0,311.2 1032.0,311.9 1033.0,312.6 1034.0,312.2 1035.0,310.7 1036.0,308.4 1037.0,306.8 1038.0,307.0 1039.0,307.1 1040.0,307.3 1041.0,307.3 1042.0,307.1 1043.0,306.6 1044.0,306.0 1045.0,305.3 1046.0,304.7 1047.0,304.3 1048.0,304.5 1049.0,304.6 1050.0,304.7 1051.0,304.9 1052.0,305.1 1053.0,305.3 1054.0,305.4 1055.0,305.5 1056.0,305.6 1057.0,305.6 1058.0,305.8 1059.0,306.1 1060.0,306.4 1061.0,306.6 1062.0,306.5 1063.0,306.3 1064.0,305.9 1065.0,305.6 1066.0,305.6 1067.0,305.5 1068.0,305.3 1069.0,305.1 1070.0,304.8 1071.0,304.5 1072.0,301.0 1073.0,298.1 1074.0,294.2 1075.0,286.8 1076.0,279.3 1077.0,271.7 1078.0,264.0 1079.0,256.6 1080.0,250.0 1081.0,241.7 1082.0,233.0 1083.0,226.5 1084.0,221.5 1085.0,216.4 1086.0,211.4 1087.0,207.7 1088.0,204.1 1089.0,200.5 1090.0,197.1 1091.0,195.5 1092.0,193.8 1093.0,192.1 1094.0,191.0 1095.0,190.6 1096.0,190.3 1097.0,190.0 1098.0,190.1 1099.0,190.5" fill="none" stroke="#b9c4a8" stroke-width="0.7" opacity="0.8"/><polyline points="23.0,228.2 24.0,229.7 25.0,231.3 26.0,232.9 27.0,233.8 28.0,234.6 29.0,235.3 30.0,236.1 31.0,236.8 32.0,236.6 33.0,236.2 34.0,235.8 35.0,235.4 36.0,235.0 37.0,234.8 38.0,234.6 39.0,234.4 40.0,234.2 41.0,234.1 42.0,233.9 43.0,234.1 44.0,234.5 45.0,234.8 46.0,235.2 47.0,235.6 48.0,235.4 49.0,235.1 50.0,234.7 51.0,234.1 52.0,231.4 53.0,228.7 54.0,226.0 55.0,223.2 56.0,220.5 57.0,218.0 58.0,215.5 59.0,213.0 60.0,210.4 61.0,208.0 62.0,206.0 63.0,204.1 64.0,202.1 65.0,200.2 66.0,198.1 67.0,195.8 68.0,193.4 69.0,191.1 70.0,189.7 71.0,189.3 72.0,188.9 73.0,188.5 74.0,188.2 75.0,188.7 76.0,189.9 77.0,191.1 78.0,192.3 79.0,194.5 80.0,196.8 81.0,199.1 82.0,201.3 83.0,202.6 84.0,204.0 85.0,205.3 86.0,206.7 87.0,208.2 88.0,209.7 89.0,211.2 90.0,212.7 91.0,213.1 92.0,212.4 93.0,211.7 94.0,211.0 95.0,209.0 96.0,206.7 97.0,204.4 98.0,202.1 99.0,200.1 100.0,198.0 101.0,196.0 102.0,194.5 103.0,193.8 104.0,193.0 105.0,192.3 106.0,191.5 107.0,191.3 108.0,191.9 109.0,192.4 110.0,193.7 111.0,195.0 112.0,196.3 113.0,197.3 114.0,197.3 115.0,197.3 116.0,197.3 117.0,198.3 118.0,200.3 119.0,202.3 120.0,204.3 121.0,207.1 122.0,210.1 123.0,213.2 124.0,216.1 125.0,217.6 126.0,219.1 127.0,220.6 128.0,222.1 129.0,223.5 130.0,224.5 131.0,225.5 132.0,226.4 133.0,227.4 134.0,228.2 135.0,228.2 136.0,228.2 137.0,228.2 138.0,228.2 139.0,227.6 140.0,225.6 141.0,223.6 142.0,221.6 143.0,219.0 144.0,216.0 145.0,213.0 146.0,210.0 147.0,206.2 148.0,202.2 149.0,198.3 150.0,194.4 151.0,190.4 152.0,186.4 153.0,182.4 154.0,174.4 155.0,162.7 156.0,160.1 157.0,157.5 158.0,154.9 159.0,153.0 160.0,152.2 161.0,151.5 162.0,150.7 163.0,150.0 164.0,149.5 165.0,149.4 166.0,149.2 167.0,149.0 168.0,147.2 169.0,145.1 170.0,142.9 171.0,140.9 172.0,140.6 173.0,140.4 174.0,140.8 175.0,141.5 176.0,142.3 177.0,143.7 178.0,145.0 179.0,146.3 180.0,147.6 181.0,148.9 182.0,150.1 183.0,151.4 184.0,152.7 185.0,154.0 186.0,155.5 187.0,157.0 188.0,158.5 189.0,160.0 190.0,161.5 191.0,163.0 192.0,164.5 193.0,166.0 194.0,166.4 195.0,166.6 196.0,166.8 197.0,166.9 198.0,166.5 199.0,166.1 200.0,165.7 201.0,165.3 202.0,165.1 203.0,165.3 204.0,165.6 205.0,165.8 206.0,166.1 207.0,166.3 208.0,166.1 209.0,165.9 210.0,165.9 211.0,167.9 212.0,169.8 213.0,171.8 214.0,174.0 215.0,176.2 216.0,178.4 217.0,181.0 218.0,184.4 219.0,187.7 220.0,191.1 221.0,194.4 222.0,197.7 223.0,201.0 224.0,204.4 225.0,206.8 226.0,209.0 227.0,211.3 228.0,213.6 229.0,215.9 230.0,216.6 231.0,217.4 232.0,218.1 233.0,218.9 234.0,219.6 235.0,219.8 236.0,220.1 237.0,220.3 238.0,220.6 239.0,220.7 240.0,220.1 241.0,219.4 242.0,218.7 243.0,217.5 244.0,215.6 245.0,213.6 246.0,211.7 247.0,208.5 248.0,204.5 249.0,200.5 250.0,196.5 251.0,192.4 252.0,188.3 253.0,183.8 254.0,179.2 255.0,174.9 256.0,170.7 257.0,166.5 258.0,162.8 259.0,159.7 260.0,156.5 261.0,153.3 262.0,152.3 263.0,151.8 264.0,151.3 265.0,150.7 266.0,149.4 267.0,148.2 268.0,147.0 269.0,145.7 270.0,144.5 271.0,143.5 272.0,142.5 273.0,141.5 274.0,140.5 275.0,140.7 276.0,141.1 277.0,141.5 278.0,142.0 279.0,143.0 280.0,144.6 281.0,146.6 282.0,148.6 283.0,150.6 284.0,152.5 285.0,154.2 286.0,155.9 287.0,157.5 288.0,159.0 289.0,160.4 290.0,161.7 291.0,163.1 292.0,164.2 293.0,165.4 294.0,166.6 295.0,167.6 296.0,168.3 297.0,169.1 298.0,169.8 299.0,170.5 300.0,170.0 301.0,169.3 302.0,168.6 303.0,167.9 304.0,167.3 305.0,166.9 306.0,166.6 307.0,166.2 308.0,165.8 309.0,165.7 310.0,165.7 311.0,165.7 312.0,165.7 313.0,167.7 314.0,170.3 315.0,173.1 316.0,176.4 317.0,179.7 318.0,183.0 319.0,186.4 320.0,189.7 321.0,193.1 322.0,196.4 323.0,199.7 324.0,203.0 325.0,205.8 326.0,208.1 327.0,210.3 328.0,212.5 329.0,214.8 330.0,216.7 331.0,218.4 332.0,220.0 333.0,221.7 334.0,222.5 335.0,223.2 336.0,223.9 337.0,224.5 338.0,224.3 339.0,224.2 340.0,224.0 341.0,223.6 342.0,222.7 343.0,221.9 344.0,221.1 345.0,219.6 346.0,217.9 347.0,216.2 348.0,214.4 349.0,212.7 350.0,210.1 351.0,207.1 352.0,204.0 353.0,201.0 354.0,195.3 355.0,189.7 356.0,184.0 357.0,178.4 358.0,172.9 359.0,167.4 360.0,164.6 361.0,161.9 362.0,159.3 363.0,156.9 364.0,156.2 365.0,155.4 366.0,154.7 367.0,153.9 368.0,153.2 369.0,152.5 370.0,151.8 371.0,151.1 372.0,150.1 373.0,148.8 374.0,147.5 375.0,146.2 376.0,145.3 377.0,145.7 378.0,146.1 379.0,146.6 380.0,147.0 381.0,148.4 382.0,150.1 383.0,151.8 384.0,153.5 385.0,155.2 386.0,157.0 387.0,158.7 388.0,160.5 389.0,162.1 390.0,163.4 391.0,164.6 392.0,165.9 393.0,167.1 394.0,168.3 395.0,169.3 396.0,170.3 397.0,171.3 398.0,171.8 399.0,171.7 400.0,171.6 401.0,171.5 402.0,171.4 403.0,171.3 404.0,171.2 405.0,171.1 406.0,171.1 407.0,171.0 408.0,170.9 409.0,170.9 410.0,170.8 411.0,170.8 412.0,170.7 413.0,170.6 414.0,171.3 415.0,172.9 416.0,174.6 417.0,176.3 418.0,178.0 419.0,179.6 420.0,181.2 421.0,184.9 422.0,188.6 423.0,192.2 424.0,195.8 425.0,199.2 426.0,202.5 427.0,205.9 428.0,208.7 429.0,211.2 430.0,213.6 431.0,216.1 432.0,218.6 433.0,220.5 434.0,222.0 435.0,223.5 436.0,225.0 437.0,226.5 438.0,227.5 439.0,228.1 440.0,228.8 441.0,229.5 442.0,229.1 443.0,228.8 444.0,228.4 445.0,227.7 446.0,226.0 447.0,224.3 448.0,222.7 449.0,220.5 450.0,217.9 451.0,215.3 452.0,212.7 453.0,209.0 454.0,205.0 455.0,200.9 456.0,196.8 457.0,191.6 458.0,186.5 459.0,180.0 460.0,175.6 461.0,171.3 462.0,166.9 463.0,164.5 464.0,162.1 465.0,159.7 466.0,158.7 467.0,157.9 468.0,157.1 469.0,156.2 470.0,155.0 471.0,153.5 472.0,152.0 473.0,150.4 474.0,148.9 475.0,147.8 476.0,147.0 477.0,146.1 478.0,145.3 479.0,145.7 480.0,146.2 481.0,146.7 482.0,147.3 483.0,148.3 484.0,149.3 485.0,150.2 486.0,151.2 487.0,152.4 488.0,154.4 489.0,156.4 490.0,158.5 491.0,160.5 492.0,162.4 493.0,164.1 494.0,165.8 495.0,167.4 496.0,168.9 497.0,170.3 498.0,171.6 499.0,173.0 500.0,173.4 501.0,173.7 502.0,174.0 503.0,174.3 504.0,174.0 505.0,173.8 506.0,173.5 507.0,173.3 508.0,173.1 509.0,173.2 510.0,173.4 511.0,173.5 512.0,173.6 513.0,173.8 514.0,174.2 515.0,174.6 516.0,175.4 517.0,178.1 518.0,181.0 519.0,184.4 520.0,187.7 521.0,191.1 522.0,194.4 523.0,197.7 524.0,201.0 525.0,204.4 526.0,207.4 527.0,210.5 528.0,213.5 529.0,216.3 530.0,218.6 531.0,220.8 532.0,223.0 533.0,225.2 534.0,227.4 535.0,229.4 536.0,231.4 537.0,233.4 538.0,235.1 539.0,236.5 540.0,238.0 541.0,239.4 542.0,240.2 543.0,240.8 544.0,241.3 545.0,241.5 546.0,241.8 547.0,241.9 548.0,242.0 549.0,242.0 550.0,242.1 551.0,242.2 552.0,242.1 553.0,241.9 554.0,242.0 555.0,242.6 556.0,243.1 557.0,243.5 558.0,243.9 559.0,244.2 560.0,244.6 561.0,243.2 562.0,241.8 563.0,240.4 564.0,238.4 565.0,235.0 566.0,231.7 567.0,228.3 568.0,225.4 569.0,222.6 570.0,219.9 571.0,217.2 572.0,214.5 573.0,212.0 574.0,209.8 575.0,207.5 576.0,205.2 577.0,203.0 578.0,201.1 579.0,199.5 580.0,197.8 581.0,196.1 582.0,195.3 583.0,194.5 584.0,193.7 585.0,195.1 586.0,196.7 587.0,198.3 588.0,200.5 589.0,202.8 590.0,205.1 591.0,207.4 592.0,209.1 593.0,210.9 594.0,212.6 595.0,214.3 596.0,216.0 597.0,217.0 598.0,218.0 599.0,219.0 600.0,219.2 601.0,218.2 602.0,217.2 603.0,216.2 604.0,215.0 605.0,213.6 606.0,212.3 607.0,210.9 608.0,209.9 609.0,208.9 610.0,207.9 611.0,207.1 612.0,206.6 613.0,206.1 614.0,205.6 615.0,205.4 616.0,205.4 617.0,205.4 618.0,205.4 619.0,206.7 620.0,208.2 621.0,209.7 622.0,211.2 623.0,212.7 624.0,214.2 625.0,215.6 626.0,217.1 627.0,218.7 628.0,220.4 629.0,222.2 630.0,224.0 631.0,225.8 632.0,227.5 633.0,229.3 634.0,231.0 635.0,232.7 636.0,234.5 637.0,236.2 638.0,238.0 639.0,239.7 640.0,241.5 641.0,243.2 642.0,244.7 643.0,245.7 644.0,246.7 645.0,247.7 646.0,248.0 647.0,248.0 648.0,248.0 649.0,248.0 650.0,248.0 651.0,247.5 652.0,246.9 653.0,246.2 654.0,245.5 655.0,244.3 656.0,243.0 657.0,241.8 658.0,240.5 659.0,239.2 660.0,237.2 661.0,235.2 662.0,233.3 663.0,231.3 664.0,229.2 665.0,226.6 666.0,223.9 667.0,221.2 668.0,218.5 669.0,215.9 670.0,213.2 671.0,210.5 672.0,208.5 673.0,206.7 674.0,204.9 675.0,203.1 676.0,201.4 677.0,200.0 678.0,198.8 679.0,197.5 680.0,196.3 681.0,195.0 682.0,194.3 683.0,193.6 684.0,193.0 685.0,192.5 686.0,193.5 687.0,194.5 688.0,195.5 689.0,196.8 690.0,198.4 691.0,200.1 692.0,201.8 693.0,203.2 694.0,204.6 695.0,205.9 696.0,207.2 697.0,208.1 698.0,209.1 699.0,210.0 700.0,210.9 701.0,211.3 702.0,211.6 703.0,212.0 704.0,212.0 705.0,211.3 706.0,210.6 707.0,210.0 708.0,209.3 709.0,208.5 710.0,207.8 711.0,207.0 712.0,206.3 713.0,205.9 714.0,205.7 715.0,205.6 716.0,205.4 717.0,204.9 718.0,204.3 719.0,203.7 720.0,203.1 721.0,203.8 722.0,205.4 723.0,207.0 724.0,208.6 725.0,210.1 726.0,211.5 727.0,212.9 728.0,214.3 729.0,215.8 730.0,218.8 731.0,222.0 732.0,225.2 733.0,228.2 734.0,231.2 735.0,234.2 736.0,237.1 737.0,238.6 738.0,240.1 739.0,241.6 740.0,243.1 741.0,244.6 742.0,245.9 743.0,247.3 744.0,248.6 745.0,249.7 746.0,250.5 747.0,251.3 748.0,251.3 749.0,251.3 750.0,251.3 751.0,251.3 752.0,251.3 753.0,251.3 754.0,251.4 755.0,251.4 756.0,251.4 757.0,251.4 758.0,251.5 759.0,251.5 760.0,251.8 761.0,252.4 762.0,252.9 763.0,253.5 764.0,250.3 765.0,247.6 766.0,245.1 767.0,242.6 768.0,240.1 769.0,237.6 770.0,234.8 771.0,231.7 772.0,228.7 773.0,225.6 774.0,222.6 775.0,220.4 776.0,218.4 777.0,216.4 778.0,214.4 779.0,212.4 780.0,210.9 781.0,209.4 782.0,207.9 783.0,206.4 784.0,204.9 785.0,205.3 786.0,206.0 787.0,206.7 788.0,207.5 789.0,209.0 790.0,210.5 791.0,211.9 792.0,213.4 793.0,215.0 794.0,217.0 795.0,219.0 796.0,221.0 797.0,222.4 798.0,223.2 799.0,223.9 800.0,224.7 801.0,225.5 802.0,226.2 803.0,226.8 804.0,227.5 805.0,228.1 806.0,227.3 807.0,226.3 808.0,225.3 809.0,224.3 810.0,223.0 811.0,221.8 812.0,220.5 813.0,219.3 814.0,218.2 815.0,217.9 816.0,217.5 817.0,217.1 818.0,216.8 819.0,216.4 820.0,216.2 821.0,215.9 822.0,215.6 823.0,215.4 824.0,215.3 825.0,215.4 826.0,215.6 827.0,215.8 828.0,216.9 829.0,218.5 830.0,220.2 831.0,221.8 832.0,224.4 833.0,227.1 834.0,229.8 835.0,232.4 836.0,235.1 837.0,237.8 838.0,240.5 839.0,242.8 840.0,244.9 841.0,246.9 842.0,249.0 843.0,250.5 844.0,251.3 845.0,252.1 846.0,252.8 847.0,253.5 848.0,254.3 849.0,254.7 850.0,254.5 851.0,254.3 852.0,254.2 853.0,254.0 854.0,253.8 855.0,253.5 856.0,252.8 857.0,252.2 858.0,251.5 859.0,251.0 860.0,250.6 861.0,250.2 862.0,249.9 863.0,249.5 864.0,249.6 865.0,248.5 866.0,243.7 867.0,242.5 868.0,241.4 869.0,240.2 870.0,238.3 871.0,234.5 872.0,230.7 873.0,226.9 874.0,223.1 875.0,219.5 876.0,216.3 877.0,213.1 878.0,209.9 879.0,206.6 880.0,203.8 881.0,201.5 882.0,199.3 883.0,197.0 884.0,194.7 885.0,193.3 886.0,192.6 887.0,191.9 888.0,191.2 889.0,191.5 890.0,192.0 891.0,193.2 892.0,195.9 893.0,198.6 894.0,201.2 895.0,203.7 896.0,206.0 897.0,208.3 898.0,210.7 899.0,212.2 900.0,213.7 901.0,215.2 902.0,216.7 903.0,218.2 904.0,219.8 905.0,221.5 906.0,223.2 907.0,224.0 908.0,221.3 909.0,218.6 910.0,215.9 911.0,213.3 912.0,210.6 913.0,207.9 914.0,205.2 915.0,204.1 916.0,203.3 917.0,202.6 918.0,201.8 919.0,201.1 920.0,200.7 921.0,200.4 922.0,200.1 923.0,199.9 924.0,200.9 925.0,201.9 926.0,202.9 927.0,204.2 928.0,206.0 929.0,207.8 930.0,209.5 931.0,211.3 932.0,212.9 933.0,214.2 934.0,215.5 935.0,216.8 936.0,218.7 937.0,220.7 938.0,222.7 939.0,224.7 940.0,226.7 941.0,228.7 942.0,230.7 943.0,232.8 944.0,235.1 945.0,237.4 946.0,239.7 947.0,241.1 948.0,241.8 949.0,242.6 950.0,243.3 951.0,244.1 952.0,244.1 953.0,243.9 954.0,243.6 955.0,243.4 956.0,243.1 957.0,241.8 958.0,240.2 959.0,238.5 960.0,236.9 961.0,232.2 962.0,227.5 963.0,222.8 964.0,218.2 965.0,213.7 966.0,209.2 967.0,204.7 968.0,200.2 969.0,195.9 970.0,191.6 971.0,187.2 972.0,181.7 973.0,177.4 974.0,173.6 975.0,170.2 976.0,168.3 977.0,166.3 978.0,164.4 979.0,161.8 980.0,158.2 981.0,156.6 982.0,155.0 983.0,153.1 984.0,151.0 985.0,149.4 986.0,148.7 987.0,148.0 988.0,147.2 989.0,148.2 990.0,149.6 991.0,150.9 992.0,151.9 993.0,152.9 994.0,153.9 995.0,154.9 996.0,155.9 997.0,156.9 998.0,157.9 999.0,158.9 1000.0,160.2 1001.0,161.8 1002.0,163.5 1003.0,165.2 1004.0,166.6 1005.0,168.0 1006.0,169.3 1007.0,170.6 1008.0,171.8 1009.0,173.1 1010.0,173.7 1011.0,173.7 1012.0,173.7 1013.0,173.7 1014.0,173.7 1015.0,173.8 1016.0,173.9 1017.0,174.0 1018.0,174.1 1019.0,174.3 1020.0,174.1 1021.0,173.7 1022.0,173.3 1023.0,173.5 1024.0,174.3 1025.0,175.1 1026.0,176.1 1027.0,177.3 1028.0,178.5 1029.0,179.6 1030.0,181.9 1031.0,184.5 1032.0,187.2 1033.0,189.9 1034.0,192.9 1035.0,195.9 1036.0,198.9 1037.0,201.8 1038.0,204.5 1039.0,207.2 1040.0,209.8 1041.0,212.1 1042.0,214.1 1043.0,216.2 1044.0,218.2 1045.0,220.2 1046.0,222.0 1047.0,223.6 1048.0,225.3 1049.0,227.0 1050.0,227.4 1051.0,227.7 1052.0,228.1 1053.0,228.4 1054.0,228.8 1055.0,228.4 1056.0,228.1 1057.0,227.7 1058.0,227.3 1059.0,226.8 1060.0,225.2 1061.0,223.5 1062.0,221.8 1063.0,219.5 1064.0,216.2 1065.0,213.0 1066.0,209.7 1067.0,205.8 1068.0,201.5 1069.0,197.2 1070.0,192.8 1071.0,187.7 1072.0,182.6 1073.0,176.9 1074.0,170.6 1075.0,164.4 1076.0,162.4 1077.0,160.5 1078.0,159.1 1079.0,158.4 1080.0,157.6 1081.0,156.9 1082.0,156.1 1083.0,154.6 1084.0,152.6 1085.0,150.6 1086.0,148.2 1087.0,145.9 1088.0,143.6 1089.0,142.0 1090.0,141.5 1091.0,141.0 1092.0,141.5 1093.0,142.2 1094.0,142.9 1095.0,143.6 1096.0,144.6 1097.0,145.6 1098.0,147.2 1099.0,149.0" fill="none" stroke="#ee4c16" stroke-width="1.9" stroke-linejoin="round"/>
<line x1="23.2" y1="392.6" x2="1144.4" y2="392.6" stroke="#d4d4d4" stroke-width="1"/>
<line x1="23.20" y1="392.6" x2="23.20" y2="399" stroke="#d4d4d4" stroke-width="1"/>
<line x1="74.22" y1="392.6" x2="74.22" y2="399" stroke="#d4d4d4" stroke-width="1"/>
<line x1="125.24" y1="392.6" x2="125.24" y2="399" stroke="#d4d4d4" stroke-width="1"/>
<line x1="176.26" y1="392.6" x2="176.26" y2="399" stroke="#d4d4d4" stroke-width="1"/>
<line x1="227.28" y1="392.6" x2="227.28" y2="399" stroke="#d4d4d4" stroke-width="1"/>
<line x1="278.30" y1="392.6" x2="278.30" y2="399" stroke="#d4d4d4" stroke-width="1"/>
<line x1="329.32" y1="392.6" x2="329.32" y2="399" stroke="#d4d4d4" stroke-width="1"/>
<line x1="380.34" y1="392.6" x2="380.34" y2="399" stroke="#d4d4d4" stroke-width="1"/>
<line x1="431.36" y1="392.6" x2="431.36" y2="399" stroke="#d4d4d4" stroke-width="1"/>
<line x1="482.38" y1="392.6" x2="482.38" y2="399" stroke="#d4d4d4" stroke-width="1"/>
<line x1="533.40" y1="392.6" x2="533.40" y2="399" stroke="#d4d4d4" stroke-width="1"/>
<line x1="584.42" y1="392.6" x2="584.42" y2="399" stroke="#d4d4d4" stroke-width="1"/>
<line x1="635.44" y1="392.6" x2="635.44" y2="399" stroke="#d4d4d4" stroke-width="1"/>
<line x1="686.46" y1="392.6" x2="686.46" y2="399" stroke="#d4d4d4" stroke-width="1"/>
<line x1="737.48" y1="392.6" x2="737.48" y2="399" stroke="#d4d4d4" stroke-width="1"/>
<line x1="788.50" y1="392.6" x2="788.50" y2="399" stroke="#d4d4d4" stroke-width="1"/>
<line x1="839.52" y1="392.6" x2="839.52" y2="399" stroke="#d4d4d4" stroke-width="1"/>
<line x1="890.54" y1="392.6" x2="890.54" y2="399" stroke="#d4d4d4" stroke-width="1"/>
<line x1="941.56" y1="392.6" x2="941.56" y2="399" stroke="#d4d4d4" stroke-width="1"/>
<line x1="992.58" y1="392.6" x2="992.58" y2="399" stroke="#d4d4d4" stroke-width="1"/>
<line x1="1043.60" y1="392.6" x2="1043.60" y2="399" stroke="#d4d4d4" stroke-width="1"/>
<line x1="1094.62" y1="392.6" x2="1094.62" y2="399" stroke="#d4d4d4" stroke-width="1"/>
<g font-size="9.4" fill="#666">
<text x="23.5" y="407.8" textLength="26" lengthAdjust="spacingAndGlyphs">5. Apr</text>
<text x="74.22" y="407.8" text-anchor="middle" textLength="24" lengthAdjust="spacingAndGlyphs">12:00</text>
<text x="125.24" y="407.8" text-anchor="middle" textLength="26" lengthAdjust="spacingAndGlyphs">6. Apr</text>
<text x="176.26" y="407.8" text-anchor="middle" textLength="24" lengthAdjust="spacingAndGlyphs">12:00</text>
<text x="227.28" y="407.8" text-anchor="middle" textLength="26" lengthAdjust="spacingAndGlyphs">7. Apr</text>
<text x="278.30" y="407.8" text-anchor="middle" textLength="24" lengthAdjust="spacingAndGlyphs">12:00</text>
<text x="329.32" y="407.8" text-anchor="middle" textLength="26" lengthAdjust="spacingAndGlyphs">8. Apr</text>
<text x="380.34" y="407.8" text-anchor="middle" textLength="24" lengthAdjust="spacingAndGlyphs">12:00</text>
<text x="431.36" y="407.8" text-anchor="middle" textLength="26" lengthAdjust="spacingAndGlyphs">9. Apr</text>
<text x="482.38" y="407.8" text-anchor="middle" textLength="24" lengthAdjust="spacingAndGlyphs">12:00</text>
<text x="533.40" y="407.8" text-anchor="middle" textLength="32" lengthAdjust="spacingAndGlyphs">10. Apr</text>
<text x="584.42" y="407.8" text-anchor="middle" textLength="24" lengthAdjust="spacingAndGlyphs">12:00</text>
<text x="635.44" y="407.8" text-anchor="middle" textLength="32" lengthAdjust="spacingAndGlyphs">11. Apr</text>
<text x="686.46" y="407.8" text-anchor="middle" textLength="24" lengthAdjust="spacingAndGlyphs">12:00</text>
<text x="737.48" y="407.8" text-anchor="middle" textLength="32" lengthAdjust="spacingAndGlyphs">12. Apr</text>
<text x="788.50" y="407.8" text-anchor="middle" textLength="24" lengthAdjust="spacingAndGlyphs">12:00</text>
<text x="839.52" y="407.8" text-anchor="middle" textLength="32" lengthAdjust="spacingAndGlyphs">13. Apr</text>
<text x="890.54" y="407.8" text-anchor="middle" textLength="24" lengthAdjust="spacingAndGlyphs">12:00</text>
<text x="941.56" y="407.8" text-anchor="middle" textLength="32" lengthAdjust="spacingAndGlyphs">14. Apr</text>
<text x="992.58" y="407.8" text-anchor="middle" textLength="24" lengthAdjust="spacingAndGlyphs">12:00</text>
<text x="1043.60" y="407.8" text-anchor="middle" textLength="32" lengthAdjust="spacingAndGlyphs">15. Apr</text>
<text x="1094.62" y="407.8" text-anchor="middle" textLength="24" lengthAdjust="spacingAndGlyphs">12:00</text>
<text x="1157.3" y="112.20">70k</text>
<text x="1157.3" y="152.64">60k</text>
<text x="1157.3" y="193.08">50k</text>
<text x="1157.3" y="233.52">40k</text>
<text x="1157.3" y="273.96">30k</text>
<text x="1157.3" y="314.40">20k</text>
<text x="1157.3" y="354.84">10k</text>
<text x="1157.3" y="395.28">0</text>
</g>
<text x="0" y="0" font-size="9.5" fill="#666" transform="translate(1182.3,251) rotate(90)" text-anchor="middle">MWh</text>
<g font-size="13">
<line x1="15.5" y1="460.5" x2="1200" y2="460.5" stroke="#e3e3e3" stroke-width="1"/>
<line x1="15.5" y1="519.5" x2="1200" y2="519.5" stroke="#e3e3e3" stroke-width="1"/>
<line x1="15.5" y1="564.5" x2="1200" y2="564.5" stroke="#e3e3e3" stroke-width="1"/>
<circle cx="296.25" cy="480.75" r="5" fill="#4caf50"/>
<text x="307.5" y="485" textLength="42.5" lengthAdjust="spacingAndGlyphs" fill="#525252">Biomass</text>
<circle cx="380.75" cy="480.75" r="5" fill="#a7ddf6"/>
<text x="392" y="485" textLength="64.25" lengthAdjust="spacingAndGlyphs" fill="#525252">Hydropower</text>
<circle cx="487" cy="480.75" r="5" fill="#00b4ef"/>
<text x="498" y="485" textLength="74" lengthAdjust="spacingAndGlyphs" fill="#525252">Wind offshore</text>
<circle cx="603" cy="480.75" r="5" fill="#5b63f7"/>
<text x="613.75" y="485" textLength="72.5" lengthAdjust="spacingAndGlyphs" fill="#525252">Wind onshore</text>
<circle cx="718" cy="480.75" r="5" fill="#fbe93a"/>
<text x="728.75" y="485" textLength="70" lengthAdjust="spacingAndGlyphs" fill="#525252">Photovoltaics</text>
<circle cx="829.5" cy="480.75" r="5" fill="#7ac74f"/>
<text x="840.6" y="485" textLength="87.1" lengthAdjust="spacingAndGlyphs" fill="#525252">Other renewable</text>
<circle cx="958.4" cy="480.75" r="5" fill="#8f4a49"/>
<text x="969.5" y="485" textLength="39.9" lengthAdjust="spacingAndGlyphs" fill="#525252">Nuclear</text>
<circle cx="296.25" cy="499.0" r="5" fill="#9c7b5c"/>
<text x="307.5" y="503.6" textLength="89.5" lengthAdjust="spacingAndGlyphs" fill="#525252">Fossil brown coal</text>
<circle cx="428" cy="499.0" r="5" fill="#3a3a3a"/>
<text x="438.75" y="503.6" textLength="79.25" lengthAdjust="spacingAndGlyphs" fill="#525252">Fossil hard coal</text>
<circle cx="550" cy="499.0" r="5" fill="#c9dadb"/>
<text x="560.5" y="503.6" textLength="48.25" lengthAdjust="spacingAndGlyphs" fill="#525252">Fossil gas</text>
<circle cx="640" cy="499.0" r="5" fill="#3e5179"/>
<text x="651.25" y="503.6" textLength="118.75" lengthAdjust="spacingAndGlyphs" fill="#525252">Hydro pumped storage</text>
<circle cx="800.5" cy="499.0" r="5" fill="#6f7f79"/>
<text x="812" y="503.6" textLength="100.5" lengthAdjust="spacingAndGlyphs" fill="#525252">Other conventional</text>
<circle cx="296.25" cy="538.6" r="5" fill="#ee4c16"/>
<text x="307.5" y="543" textLength="25" lengthAdjust="spacingAndGlyphs" fill="#525252">Total</text>
<text x="28.25" y="485" textLength="212.25" lengthAdjust="spacingAndGlyphs" fill="#555">Electricity generation - Actual generation</text>
<text x="28.25" y="543" textLength="236.75" lengthAdjust="spacingAndGlyphs" fill="#555">Electricity consumption - Actual consumption</text>
<circle cx="1182.2" cy="480.9" r="7.1" fill="none" stroke="#4a76a3" stroke-width="1.8"/>
<rect x="1181.4" y="479.6" width="1.6" height="5.2" fill="#4a76a3"/>
<circle cx="1182.2" cy="477.3" r="1.0" fill="#4a76a3"/>
<circle cx="1182.2" cy="539.6" r="7.1" fill="none" stroke="#4a76a3" stroke-width="1.8"/>
<rect x="1181.4" y="538.3" width="1.6" height="5.2" fill="#4a76a3"/>
<circle cx="1182.2" cy="536.0" r="1.0" fill="#4a76a3"/>
</g>
</svg>
</body></html>
